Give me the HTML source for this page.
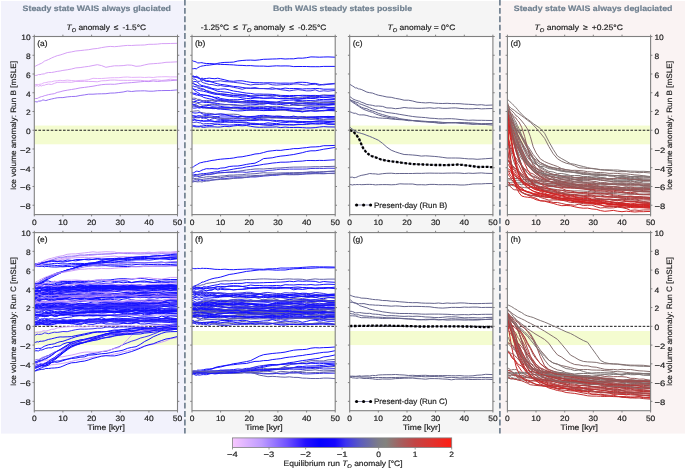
<!DOCTYPE html>
<html><head><meta charset="utf-8"><title>Figure</title>
<style>
html,body{margin:0;padding:0;background:#fff;}
body{width:685px;height:468px;overflow:hidden;font-family:"Liberation Sans",sans-serif;}
svg{display:block;will-change:transform;}
</style></head><body>
<svg width="685" height="468" viewBox="0 0 685 468" font-family="'Liberation Sans', sans-serif" text-rendering="geometricPrecision" fill="#222">
<defs>
<style>text{stroke:#222;stroke-width:0.18px}text.h{stroke:#708090}</style>
<clipPath id="ka"><rect x="34.3" y="36.5" width="143.2" height="178.1"/></clipPath>
<clipPath id="kb"><rect x="192.0" y="36.5" width="143.2" height="178.1"/></clipPath>
<clipPath id="kc"><rect x="349.7" y="36.5" width="143.2" height="178.1"/></clipPath>
<clipPath id="kd"><rect x="507.4" y="36.5" width="143.2" height="178.1"/></clipPath>
<clipPath id="ke"><rect x="34.3" y="232.6" width="143.2" height="178.1"/></clipPath>
<clipPath id="kf"><rect x="192.0" y="232.6" width="143.2" height="178.1"/></clipPath>
<clipPath id="kg"><rect x="349.7" y="232.6" width="143.2" height="178.1"/></clipPath>
<clipPath id="kh"><rect x="507.4" y="232.6" width="143.2" height="178.1"/></clipPath>
<linearGradient id="cb" x1="0" x2="1" y1="0" y2="0">
<stop offset="0.0000" stop-color="#f8c8ff"/>
<stop offset="0.1333" stop-color="#be9bff"/>
<stop offset="0.2500" stop-color="#6e50ff"/>
<stop offset="0.3333" stop-color="#230fff"/>
<stop offset="0.4000" stop-color="#0500ff"/>
<stop offset="0.4667" stop-color="#1405ff"/>
<stop offset="0.5167" stop-color="#3c32f0"/>
<stop offset="0.5833" stop-color="#5c5cbe"/>
<stop offset="0.6667" stop-color="#7d7d87"/>
<stop offset="0.7000" stop-color="#82827e"/>
<stop offset="0.7667" stop-color="#a55f5f"/>
<stop offset="0.8333" stop-color="#c34444"/>
<stop offset="0.9167" stop-color="#e1322d"/>
<stop offset="1.0000" stop-color="#ff1c12"/>
</linearGradient>
</defs>
<rect width="685" height="468" fill="#fff"/>
<rect x="1" y="1" width="184" height="432.6" fill="#f2f2fc"/>
<rect x="185" y="1" width="315" height="432.6" fill="#f5f5f5"/>
<rect x="500" y="1" width="185" height="432.6" fill="#faf3f3"/>
<line x1="184.9" y1="-0.5" x2="184.9" y2="433.6" stroke="#708090" stroke-width="1.7" stroke-dasharray="5.9 2.5"/>
<line x1="499.9" y1="-0.5" x2="499.9" y2="433.6" stroke="#708090" stroke-width="1.7" stroke-dasharray="5.9 2.5"/>
<rect x="34.3" y="36.5" width="143.2" height="178.1" fill="#fff"/>
<rect x="34.3" y="125.55" width="143.2" height="18.75" fill="#f4fcd0"/>
<line x1="34.3" y1="130.24" x2="177.5" y2="130.24" stroke="#1a1a1a" stroke-width="1.0" stroke-dasharray="2.6 1.5"/>
<g clip-path="url(#ka)" fill="none" stroke-width="1" stroke-linejoin="round">
<path d="M34.3 67.0l1.4 -1l1.5 -.8l1.4 -.6l1.4 -.7l1.5 -.6l1.4 -.9l1.4 -1.2l1.5 -.6l2.8 -1.1l2.9 -1.5l2.8 -1.2l2.9 -1.1l2.9 -.7l2.8 -.9l4.3 -1.5l4.3 -.7l4.3 -.9l4.3 -.4l4.3 -.5l4.3 -.4l4.3 -.8l4.3 -.4l4.3 -.9l4.3 -.7l4.3 -.5l4.3 .3l4.3 -.4l4.3 -.5l4.3 -.4l4.3 .1l4.3 -.3l4.3 -.1l4.3 -.1l4.3 -.7l4.3 0l4.3 -.2l4.2 -.5l4.3 0l4.3 -.1l7.2 -.2" stroke="#d6a0f6"/>
<path d="M34.3 75.4l1.4 .1l1.5 -.3l1.4 -.7l1.4 .2l1.5 -.5l1.4 -.2l1.4 -.1l1.5 -.8l2.8 -.6l2.9 0l2.8 -.5l2.9 -.6l2.9 -.4l2.8 -.6l4.3 -.6l4.3 -.8l4.3 -1.1l4.3 -.3l4.3 -.7l4.3 -.5l4.3 -.9l4.3 -.8l4.3 .9l4.3 1.7l4.3 -.8l4.3 -.7l4.3 0l4.3 -.2l4.3 -.6l4.3 .2l4.3 1.1l4.3 -.3l4.3 -1.1l4.3 -.9l4.3 -.3l4.3 -.3l4.2 -.4l4.3 -.7l4.3 -.1l7.2 -.4" stroke="#d6a0f6"/>
<path d="M34.3 84.8l1.4 -.3l1.5 -.1l1.4 .1l1.4 -.3l1.5 -.2l1.4 -.8l1.4 -.5l1.5 -.1l2.8 -.7l2.9 -.1l2.8 -.8l2.9 -.2l2.9 -.5l2.8 .4l4.3 -.6l4.3 .4l4.3 .4l4.3 -.5l4.3 -.1l4.3 -.6l4.3 -1.4l4.3 .2l4.3 0l4.3 -.3l4.3 -.4l4.3 -.1l4.3 0l4.3 -.5l4.3 -.2l4.3 .4l4.3 -.1l4.3 -.1l4.3 .3l4.3 -.3l4.3 .3l4.3 -.6l4.2 -.1l4.3 -.1l4.3 .2l7.2 0" stroke="#e4b2fa"/>
<path d="M34.3 85.7l1.4 .3l1.5 -.4l1.4 .7l1.4 -.8l1.5 .5l1.4 -.8l1.4 .1l1.5 -.7l2.8 -.5l2.9 .4l2.8 -1.1l2.9 -1l2.9 -.1l2.8 0l4.3 -.2l4.3 .2l4.3 -.9l4.3 .1l4.3 -.2l4.3 .2l4.3 0l4.3 .3l4.3 -1l4.3 -.1l4.3 -.6l4.3 -.1l4.3 .3l4.3 0l4.3 .1l4.3 -.1l4.3 0l4.3 0l4.3 .5l4.3 .1l4.3 -1.1l4.3 .2l4.2 .4l4.3 -.4l4.3 -.8l7.2 .7" stroke="#deaaf8"/>
<path d="M34.3 98.8l1.4 -.3l1.5 0l1.4 -.8l1.4 -.6l1.5 -.5l1.4 -.2l1.4 -.7l1.5 -.3l2.8 -.8l2.9 -.5l2.8 -.4l2.9 -1.3l2.9 -.6l2.8 -.8l4.3 -.8l4.3 -.7l4.3 -.7l4.3 -.9l4.3 -.5l4.3 -.6l4.3 -.6l4.3 -.8l4.3 -.7l4.3 -.4l4.3 -.1l4.3 .1l4.3 -.6l4.3 -.6l4.3 -.2l4.3 -.3l4.3 -.4l4.3 -.4l4.3 -.4l4.3 .2l4.3 -.6l4.3 .5l4.2 -.4l4.3 -.1l4.3 -.3l7.2 -.6" stroke="#c48ef6"/>
<path d="M34.3 101.6l1.4 .1l1.5 .3l1.4 -.9l1.4 0l1.5 -.4l1.4 -.8l1.4 .3l1.5 .4l2.8 -.9l2.9 -.7l2.8 -.6l2.9 -.6l2.9 -.2l2.8 0l4.3 -.7l4.3 -.4l4.3 -.1l4.3 -.9l4.3 -.6l4.3 -.7l4.3 0l4.3 -.3l4.3 -.1l4.3 -.1l4.3 -.6l4.3 -.1l4.3 -.5l4.3 -.5l4.3 -1l4.3 .5l4.3 -.5l4.3 -.1l4.3 -.1l4.3 .4l4.3 0l4.3 -.5l4.2 -.1l4.3 -.1l4.3 0l7.2 -.6" stroke="#9670f2"/>
</g>
<rect x="34.3" y="36.5" width="143.2" height="178.1" fill="none" stroke="#808080" stroke-width="1.1"/>
<path d="M34.3 36.5v-1.8M34.3 214.6v1.8M62.9 36.5v-1.8M62.9 214.6v1.8M91.6 36.5v-1.8M91.6 214.6v1.8M120.2 36.5v-1.8M120.2 214.6v1.8M148.9 36.5v-1.8M148.9 214.6v1.8M177.5 36.5v-1.8M177.5 214.6v1.8M34.3 205.23h-1.8M177.5 205.23h1.8M34.3 186.48h-1.8M177.5 186.48h1.8M34.3 167.73h-1.8M177.5 167.73h1.8M34.3 148.98h-1.8M177.5 148.98h1.8M34.3 130.24h-1.8M177.5 130.24h1.8M34.3 111.49h-1.8M177.5 111.49h1.8M34.3 92.74h-1.8M177.5 92.74h1.8M34.3 73.99h-1.8M177.5 73.99h1.8M34.3 55.25h-1.8M177.5 55.25h1.8M34.3 36.50h-1.8M177.5 36.50h1.8" stroke="#808080" stroke-width="1.0"/>
<text x="34.3" y="224.8" font-size="7.80" text-anchor="middle" textLength="4.7" lengthAdjust="spacingAndGlyphs">0</text>
<text x="62.9" y="224.8" font-size="7.80" text-anchor="middle" textLength="9.4" lengthAdjust="spacingAndGlyphs">10</text>
<text x="91.6" y="224.8" font-size="7.80" text-anchor="middle" textLength="9.4" lengthAdjust="spacingAndGlyphs">20</text>
<text x="120.2" y="224.8" font-size="7.80" text-anchor="middle" textLength="9.4" lengthAdjust="spacingAndGlyphs">30</text>
<text x="148.9" y="224.8" font-size="7.80" text-anchor="middle" textLength="9.4" lengthAdjust="spacingAndGlyphs">40</text>
<text x="177.5" y="224.8" font-size="7.80" text-anchor="middle" textLength="9.4" lengthAdjust="spacingAndGlyphs">50</text>
<text x="30.7" y="209.0" font-size="7.80" text-anchor="end" textLength="10.8" lengthAdjust="spacingAndGlyphs">−8</text>
<text x="30.7" y="190.3" font-size="7.80" text-anchor="end" textLength="10.8" lengthAdjust="spacingAndGlyphs">−6</text>
<text x="30.7" y="171.5" font-size="7.80" text-anchor="end" textLength="10.8" lengthAdjust="spacingAndGlyphs">−4</text>
<text x="30.7" y="152.8" font-size="7.80" text-anchor="end" textLength="10.8" lengthAdjust="spacingAndGlyphs">−2</text>
<text x="30.7" y="134.0" font-size="7.80" text-anchor="end" textLength="4.7" lengthAdjust="spacingAndGlyphs">0</text>
<text x="30.7" y="115.3" font-size="7.80" text-anchor="end" textLength="4.7" lengthAdjust="spacingAndGlyphs">2</text>
<text x="30.7" y="96.5" font-size="7.80" text-anchor="end" textLength="4.7" lengthAdjust="spacingAndGlyphs">4</text>
<text x="30.7" y="77.8" font-size="7.80" text-anchor="end" textLength="4.7" lengthAdjust="spacingAndGlyphs">6</text>
<text x="30.7" y="59.0" font-size="7.80" text-anchor="end" textLength="4.7" lengthAdjust="spacingAndGlyphs">8</text>
<text x="30.7" y="40.3" font-size="7.80" text-anchor="end" textLength="9.4" lengthAdjust="spacingAndGlyphs">10</text>
<text x="37.3" y="45.5" font-size="7.80" textLength="10.2" lengthAdjust="spacingAndGlyphs">(a)</text>
<rect x="192.0" y="36.5" width="143.2" height="178.1" fill="#fff"/>
<rect x="192.0" y="125.55" width="143.2" height="18.75" fill="#f4fcd0"/>
<line x1="192.0" y1="130.24" x2="335.2" y2="130.24" stroke="#1a1a1a" stroke-width="1.0" stroke-dasharray="2.6 1.5"/>
<g clip-path="url(#kb)" fill="none" stroke-width="1" stroke-linejoin="round">
<path d="M192.0 60.4l1.4 .8l1.5 .3l1.4 .6l1.4 .8l1.5 0l1.4 -.2l1.4 0l1.5 .4l2.8 .4l2.9 0l2.8 .2l2.9 .2l2.9 .3l2.8 .2l4.3 .1l4.3 .2l4.3 .2l4.3 .4l4.3 .1l4.3 .3l4.3 -.1l4.3 .4l4.3 .1l4.3 0l4.3 .3l4.3 -.3l4.3 -.3l4.3 .2l4.3 -.1l4.3 .1l4.3 .6l4.3 -.1l4.3 0l4.3 0l4.3 .2l4.3 0l4.2 0l4.3 -.3l4.3 0l7.2 0" stroke="#1612ff"/>
<path d="M192.0 68.8l1.4 -.1l1.5 -.2l1.4 .4l1.4 -1.1l1.5 -.8l1.4 -.6l1.4 -.4l1.5 -.2l2.8 -.5l2.9 -.2l2.8 -.4l2.9 -.4l2.9 -1l2.8 -.5l4.3 -.4l4.3 -.1l4.3 -.2l4.3 -1.1l4.3 -.5l4.3 -.3l4.3 -.1l4.3 .2l4.3 -.4l4.3 -.6l4.3 -.1l4.3 -.2l4.3 -.1l4.3 -.3l4.3 .4l4.3 -.2l4.3 0l4.3 -.7l4.3 .1l4.3 -.5l4.3 -.8l4.3 .1l4.2 .2l4.3 -.2l4.3 -.1l7.2 .3" stroke="#1612ff"/>
<path d="M192.0 75.9l1.4 .4l1.5 .4l1.4 .7l1.4 0l1.5 .8l1.4 .6l1.4 -.7l1.5 .6l2.8 -.2l2.9 -.4l2.8 .4l2.9 .2l2.9 -.5l2.8 .7l4.3 1l4.3 1.1l4.3 .3l4.3 -.5l4.3 0l4.3 .8l4.3 .7l4.3 .4l4.3 0l4.3 .2l4.3 -.1l4.3 0l4.3 .3l4.3 .1l4.3 -.1l4.3 .1l4.3 -.1l4.3 -.8l4.3 0l4.3 .2l4.3 1l4.3 -.1l4.2 1l4.3 .5l4.3 -.6l7.2 -.5" stroke="#1612ff"/>
<path d="M192.0 76.3l1.4 .9l1.5 -.1l1.4 -.9l1.4 .5l1.5 1.1l1.4 1.1l1.4 .3l1.5 .3l2.8 1.1l2.9 .3l2.8 .9l2.9 -.5l2.9 -.3l2.8 -.2l4.3 .8l4.3 .2l4.3 .5l4.3 .5l4.3 .5l4.3 .9l4.3 .8l4.3 -.7l4.3 .1l4.3 -.2l4.3 -.5l4.3 1.1l4.3 .3l4.3 -.3l4.3 -.3l4.3 .2l4.3 -.7l4.3 -.1l4.3 .8l4.3 .4l4.3 -.6l4.3 -.3l4.2 1.1l4.3 -1l4.3 -.3l7.2 -.7" stroke="#3732e6"/>
<path d="M192.0 76.8l1.4 -.7l1.5 .8l1.4 -.1l1.4 1.1l1.5 .5l1.4 1.3l1.4 .6l1.5 -.2l2.8 1.4l2.9 0l2.8 .5l2.9 1.1l2.9 .7l2.8 .6l4.3 .5l4.3 .7l4.3 .8l4.3 .3l4.3 .7l4.3 .7l4.3 0l4.3 -.4l4.3 .8l4.3 0l4.3 .3l4.3 .4l4.3 -.5l4.3 .2l4.3 -.8l4.3 .5l4.3 -.1l4.3 .1l4.3 .4l4.3 -.3l4.3 .1l4.3 -.3l4.2 .1l4.3 .6l4.3 0l7.2 -.1" stroke="#1612ff"/>
<path d="M192.0 77.7l1.4 1.5l1.5 -.1l1.4 1l1.4 1.2l1.5 .1l1.4 -.5l1.4 1.2l1.5 .7l2.8 .8l2.9 .9l2.8 0l2.9 .7l2.9 .6l2.8 -.3l4.3 .9l4.3 0l4.3 .9l4.3 .9l4.3 1.1l4.3 -1.2l4.3 .4l4.3 -.1l4.3 .2l4.3 0l4.3 .1l4.3 -1l4.3 1l4.3 1l4.3 .5l4.3 .7l4.3 -.7l4.3 -.6l4.3 .6l4.3 .7l4.3 -.1l4.3 -1l4.2 1.6l4.3 -.6l4.3 .4l7.2 -.8" stroke="#3732e6"/>
<path d="M192.0 80.6l1.4 1.1l1.5 -.2l1.4 .2l1.4 .9l1.5 1l1.4 1.5l1.4 .4l1.5 .3l2.8 .7l2.9 .7l2.8 1.2l2.9 .5l2.9 .5l2.8 -.3l4.3 -.2l4.3 1l4.3 1.1l4.3 .6l4.3 .8l4.3 .7l4.3 .3l4.3 .8l4.3 -.2l4.3 .2l4.3 0l4.3 .2l4.3 .5l4.3 .5l4.3 .1l4.3 .2l4.3 -.2l4.3 0l4.3 .6l4.3 -.2l4.3 .6l4.3 .1l4.2 -.1l4.3 .9l4.3 -.5l7.2 -.3" stroke="#1612ff"/>
<path d="M192.0 81.5l1.4 1.7l1.5 1.1l1.4 1.2l1.4 .8l1.5 1.3l1.4 .5l1.4 .5l1.5 .6l2.8 1.3l2.9 .6l2.8 1.6l2.9 .3l2.9 .3l2.8 .3l4.3 .4l4.3 .8l4.3 .4l4.3 -.1l4.3 0l4.3 .1l4.3 .9l4.3 -.3l4.3 -.5l4.3 -.3l4.3 .1l4.3 .9l4.3 -.4l4.3 .1l4.3 1.4l4.3 -.4l4.3 .6l4.3 .4l4.3 0l4.3 -1l4.3 0l4.3 -.2l4.2 -1l4.3 -.7l4.3 .3l7.2 .3" stroke="#6262a8"/>
<path d="M192.0 83.4l1.4 .4l1.5 .6l1.4 .2l1.4 .9l1.5 .5l1.4 .2l1.4 .3l1.5 .1l2.8 .8l2.9 1l2.8 .6l2.9 1.1l2.9 1.2l2.8 .2l4.3 .6l4.3 .4l4.3 1.2l4.3 .4l4.3 .5l4.3 .5l4.3 .9l4.3 .1l4.3 -.4l4.3 -.1l4.3 .3l4.3 .1l4.3 -.3l4.3 1.1l4.3 -.1l4.3 -.3l4.3 -.2l4.3 -.6l4.3 -.3l4.3 .1l4.3 .1l4.3 -.1l4.2 .4l4.3 .1l4.3 -.2l7.2 -.6" stroke="#1612ff"/>
<path d="M192.0 86.2l1.4 -.1l1.5 .7l1.4 -.1l1.4 1.2l1.5 .6l1.4 .6l1.4 .1l1.5 0l2.8 1.6l2.9 1.1l2.8 .4l2.9 .9l2.9 1.1l2.8 -.2l4.3 .4l4.3 .4l4.3 .7l4.3 0l4.3 .6l4.3 -.1l4.3 .9l4.3 .6l4.3 .1l4.3 .5l4.3 -.2l4.3 0l4.3 .6l4.3 0l4.3 .3l4.3 -.4l4.3 .4l4.3 .2l4.3 -.5l4.3 -.9l4.3 -.6l4.3 .3l4.2 .3l4.3 -.4l4.3 .4l7.2 .8" stroke="#1612ff"/>
<path d="M192.0 87.6l1.4 1.1l1.5 .8l1.4 .1l1.4 .6l1.5 .3l1.4 .3l1.4 .1l1.5 .4l2.8 .6l2.9 .9l2.8 .7l2.9 .8l2.9 0l2.8 .5l4.3 .9l4.3 .6l4.3 .5l4.3 .1l4.3 1l4.3 .5l4.3 .3l4.3 -.7l4.3 -.1l4.3 .4l4.3 0l4.3 -.4l4.3 .4l4.3 .4l4.3 -.2l4.3 .1l4.3 .1l4.3 .4l4.3 -.5l4.3 -.3l4.3 .2l4.3 .1l4.2 1l4.3 -.2l4.3 .2l7.2 0" stroke="#1612ff"/>
<path d="M192.0 88.5l1.4 .9l1.5 1.2l1.4 1l1.4 1l1.5 .7l1.4 1.4l1.4 0l1.5 .4l2.8 .5l2.9 .2l2.8 .8l2.9 1.4l2.9 .8l2.8 .8l4.3 .6l4.3 .2l4.3 .9l4.3 -.1l4.3 .5l4.3 -.2l4.3 0l4.3 .1l4.3 -.1l4.3 .2l4.3 .1l4.3 .5l4.3 -.2l4.3 -.9l4.3 -.7l4.3 -.3l4.3 -.1l4.3 .5l4.3 -.4l4.3 .2l4.3 .2l4.3 .2l4.2 0l4.3 .3l4.3 0l7.2 .4" stroke="#1612ff"/>
<path d="M192.0 92.7l1.4 .5l1.5 .2l1.4 .1l1.4 .9l1.5 .4l1.4 -.1l1.4 .2l1.5 .3l2.8 0l2.9 1l2.8 .5l2.9 .7l2.9 -.2l2.8 1.3l4.3 .7l4.3 .6l4.3 -.1l4.3 0l4.3 -.3l4.3 1.1l4.3 -.1l4.3 .3l4.3 .5l4.3 -.2l4.3 .6l4.3 .9l4.3 0l4.3 .5l4.3 .1l4.3 -.4l4.3 -.3l4.3 -.8l4.3 .2l4.3 .7l4.3 .2l4.3 .3l4.2 .3l4.3 -.4l4.3 .1l7.2 .7" stroke="#1612ff"/>
<path d="M192.0 93.7l1.4 .5l1.5 .3l1.4 .6l1.4 0l1.5 .4l1.4 .4l1.4 .4l1.5 1.1l2.8 .7l2.9 .7l2.8 .4l2.9 1l2.9 -.3l2.8 .3l4.3 1l4.3 1l4.3 .2l4.3 .1l4.3 .4l4.3 0l4.3 .2l4.3 -.2l4.3 .3l4.3 0l4.3 -.5l4.3 -.9l4.3 .6l4.3 .3l4.3 .4l4.3 -.3l4.3 .5l4.3 .1l4.3 0l4.3 .3l4.3 .2l4.3 0l4.2 .7l4.3 .3l4.3 -.2l7.2 -.4" stroke="#1612ff"/>
<path d="M192.0 98.4l1.4 -.2l1.5 0l1.4 .4l1.4 .8l1.5 -.1l1.4 .5l1.4 .8l1.5 .4l2.8 -.6l2.9 .2l2.8 -.3l2.9 .6l2.9 -.2l2.8 .7l4.3 .4l4.3 -1.1l4.3 .1l4.3 .7l4.3 .4l4.3 .1l4.3 -.4l4.3 .6l4.3 1.2l4.3 .1l4.3 0l4.3 -.1l4.3 -.7l4.3 0l4.3 -.3l4.3 .8l4.3 -.4l4.3 -.9l4.3 -.1l4.3 .2l4.3 .2l4.3 -.7l4.2 .9l4.3 .3l4.3 -.1l7.2 -.2" stroke="#6262a8"/>
<path d="M192.0 99.3l1.4 .2l1.5 .2l1.4 .8l1.4 .1l1.5 -.3l1.4 .6l1.4 .2l1.5 -.3l2.8 .8l2.9 .1l2.8 .7l2.9 -.5l2.9 -.9l2.8 -.6l4.3 .7l4.3 .1l4.3 .4l4.3 .4l4.3 -.4l4.3 1l4.3 -.2l4.3 .3l4.3 -.5l4.3 .3l4.3 .6l4.3 0l4.3 -.2l4.3 .2l4.3 -.1l4.3 .4l4.3 1.2l4.3 -.6l4.3 -.3l4.3 -.1l4.3 .1l4.3 -.5l4.2 .4l4.3 .4l4.3 .1l7.2 -.6" stroke="#3732e6"/>
<path d="M192.0 101.2l1.4 .7l1.5 -.5l1.4 .3l1.4 .8l1.5 .2l1.4 -.4l1.4 -.4l1.5 .4l2.8 .2l2.9 0l2.8 .6l2.9 .1l2.9 .3l2.8 .5l4.3 .5l4.3 .1l4.3 .1l4.3 .4l4.3 .3l4.3 -.5l4.3 0l4.3 -.3l4.3 -.4l4.3 0l4.3 -.8l4.3 .9l4.3 -.1l4.3 .4l4.3 -.6l4.3 -.5l4.3 1.4l4.3 .6l4.3 -.2l4.3 -.3l4.3 -.2l4.3 .2l4.2 0l4.3 -.2l4.3 .3l7.2 -.4" stroke="#1612ff"/>
<path d="M192.0 102.6l1.4 -.3l1.5 .4l1.4 .7l1.4 -.1l1.5 .6l1.4 .5l1.4 .8l1.5 -.1l2.8 -.3l2.9 -.4l2.8 .3l2.9 -.3l2.9 .2l2.8 .3l4.3 0l4.3 -.3l4.3 .6l4.3 .3l4.3 .3l4.3 .1l4.3 .6l4.3 -.5l4.3 .3l4.3 -.1l4.3 .5l4.3 -.2l4.3 -.2l4.3 .3l4.3 -1l4.3 .1l4.3 -.7l4.3 -.1l4.3 .7l4.3 .4l4.3 -.1l4.3 .2l4.2 .1l4.3 .3l4.3 .9l7.2 0" stroke="#6262a8"/>
<path d="M192.0 103.5l1.4 .8l1.5 .4l1.4 .2l1.4 .9l1.5 .8l1.4 .5l1.4 .7l1.5 .2l2.8 -.7l2.9 .5l2.8 -.2l2.9 .6l2.9 -.2l2.8 0l4.3 0l4.3 -.2l4.3 -.7l4.3 .1l4.3 0l4.3 .5l4.3 -.2l4.3 .2l4.3 -.4l4.3 .1l4.3 -.6l4.3 1l4.3 .1l4.3 -.4l4.3 .2l4.3 .3l4.3 .1l4.3 .4l4.3 -.2l4.3 -1l4.3 -.4l4.3 .6l4.2 .4l4.3 .1l4.3 -.4l7.2 .3" stroke="#1612ff"/>
<path d="M192.0 104.5l1.4 .3l1.5 .5l1.4 .7l1.4 .2l1.5 .8l1.4 -.5l1.4 .1l1.5 -.3l2.8 -.7l2.9 -.2l2.8 .8l2.9 -.2l2.9 -.2l2.8 .6l4.3 .6l4.3 .2l4.3 .8l4.3 -.6l4.3 1.1l4.3 .4l4.3 0l4.3 -.1l4.3 -.1l4.3 -.2l4.3 .1l4.3 -.5l4.3 .9l4.3 -.1l4.3 .2l4.3 -.2l4.3 -.1l4.3 .3l4.3 .1l4.3 -.4l4.3 -.2l4.3 .3l4.2 -.9l4.3 -.8l4.3 .9l7.2 0" stroke="#1612ff"/>
<path d="M192.0 105.9l1.4 0l1.5 .3l1.4 .4l1.4 .2l1.5 .3l1.4 -.4l1.4 .3l1.5 .3l2.8 .8l2.9 0l2.8 .5l2.9 0l2.9 -.6l2.8 -.1l4.3 -.1l4.3 .1l4.3 .2l4.3 .2l4.3 .4l4.3 -.3l4.3 .7l4.3 -.7l4.3 .2l4.3 .5l4.3 .3l4.3 .4l4.3 -.2l4.3 .4l4.3 -.7l4.3 .4l4.3 1.2l4.3 .1l4.3 .8l4.3 -.5l4.3 -.9l4.3 -.5l4.2 .6l4.3 .3l4.3 -1.2l7.2 -.2" stroke="#1612ff"/>
<path d="M192.0 106.8l1.4 -.8l1.5 -.2l1.4 .3l1.4 .2l1.5 .1l1.4 .5l1.4 .7l1.5 0l2.8 .6l2.9 .1l2.8 .1l2.9 -.8l2.9 .6l2.8 .3l4.3 .2l4.3 0l4.3 -.2l4.3 .4l4.3 .5l4.3 .7l4.3 .3l4.3 -.3l4.3 -.1l4.3 .4l4.3 0l4.3 -.1l4.3 -.3l4.3 .2l4.3 .1l4.3 .6l4.3 .3l4.3 -.9l4.3 .8l4.3 -.1l4.3 -.3l4.3 0l4.2 .2l4.3 -.1l4.3 -.2l7.2 -.1" stroke="#6262a8"/>
<path d="M192.0 107.7l1.4 .4l1.5 0l1.4 -.2l1.4 -.3l1.5 .5l1.4 -.3l1.4 -.3l1.5 -.2l2.8 -.2l2.9 .6l2.8 .4l2.9 0l2.9 .9l2.8 .1l4.3 .4l4.3 .3l4.3 .8l4.3 .3l4.3 -.1l4.3 -.5l4.3 -.4l4.3 .1l4.3 .2l4.3 .4l4.3 -.2l4.3 .1l4.3 -.3l4.3 -.7l4.3 .2l4.3 .8l4.3 .4l4.3 .5l4.3 .4l4.3 -.9l4.3 -.1l4.3 .6l4.2 -.5l4.3 -.6l4.3 .2l7.2 .3" stroke="#1612ff"/>
<path d="M192.0 111.5l1.4 -.3l1.5 -.2l1.4 -.1l1.4 -.2l1.5 .3l1.4 1.3l1.4 .3l1.5 .2l2.8 .6l2.9 -.1l2.8 .6l2.9 .7l2.9 -.5l2.8 0l4.3 .3l4.3 -.1l4.3 -.1l4.3 .3l4.3 1.5l4.3 .4l4.3 .2l4.3 .5l4.3 -.2l4.3 -.7l4.3 .3l4.3 .6l4.3 -1.1l4.3 .3l4.3 .7l4.3 -.2l4.3 -.2l4.3 .3l4.3 -.4l4.3 .2l4.3 .4l4.3 -.1l4.2 -.5l4.3 .3l4.3 -.2l7.2 .1" stroke="#6262a8"/>
<path d="M192.0 112.4l1.4 .4l1.5 .3l1.4 -.1l1.4 -.2l1.5 -.3l1.4 .3l1.4 .8l1.5 .6l2.8 .1l2.9 .1l2.8 -.3l2.9 .2l2.9 -.1l2.8 -.3l4.3 .5l4.3 1.3l4.3 .9l4.3 .9l4.3 -.9l4.3 .5l4.3 -.6l4.3 -.2l4.3 -.8l4.3 -.2l4.3 .4l4.3 .4l4.3 .2l4.3 0l4.3 .5l4.3 .1l4.3 -.8l4.3 1.1l4.3 -.2l4.3 .5l4.3 -.2l4.3 -.5l4.2 .1l4.3 -.3l4.3 .9l7.2 -.7" stroke="#1612ff"/>
<path d="M192.0 115.2l1.4 .9l1.5 .2l1.4 -.1l1.4 -.5l1.5 0l1.4 0l1.4 .6l1.5 -.4l2.8 -.4l2.9 .3l2.8 .3l2.9 .6l2.9 -.1l2.8 -.7l4.3 .1l4.3 -.1l4.3 .2l4.3 .5l4.3 -.2l4.3 .6l4.3 .1l4.3 0l4.3 -.1l4.3 0l4.3 0l4.3 .3l4.3 .4l4.3 0l4.3 .1l4.3 .4l4.3 .2l4.3 0l4.3 .3l4.3 .2l4.3 .2l4.3 -.4l4.2 -.3l4.3 -.7l4.3 .4l7.2 .1" stroke="#1612ff"/>
<path d="M192.0 116.2l1.4 -.5l1.5 .3l1.4 .6l1.4 .6l1.5 -.2l1.4 -.1l1.4 .6l1.5 .3l2.8 -.3l2.9 -.1l2.8 .2l2.9 -.2l2.9 -.1l2.8 .7l4.3 .1l4.3 -.1l4.3 .2l4.3 .7l4.3 -.1l4.3 -.4l4.3 -.6l4.3 .8l4.3 -1l4.3 .5l4.3 -.4l4.3 -.4l4.3 -.2l4.3 .2l4.3 .5l4.3 -.2l4.3 .4l4.3 .9l4.3 -1.2l4.3 -.2l4.3 -.5l4.3 .5l4.2 -.4l4.3 -.4l4.3 -.3l7.2 .4" stroke="#1612ff"/>
<path d="M192.0 116.6l1.4 .9l1.5 -.1l1.4 .4l1.4 0l1.5 0l1.4 -.9l1.4 -.4l1.5 .3l2.8 -.3l2.9 .7l2.8 .3l2.9 -.2l2.9 .7l2.8 .2l4.3 .6l4.3 -.1l4.3 -.8l4.3 .5l4.3 -.1l4.3 .4l4.3 .5l4.3 .4l4.3 -.9l4.3 -1l4.3 -.1l4.3 .5l4.3 -.2l4.3 .3l4.3 -.3l4.3 0l4.3 0l4.3 -.1l4.3 .4l4.3 .2l4.3 .8l4.3 0l4.2 .5l4.3 -.2l4.3 .2l7.2 -.2" stroke="#6262a8"/>
<path d="M192.0 117.6l1.4 .6l1.5 -.3l1.4 -.7l1.4 -.1l1.5 .6l1.4 -.5l1.4 1.2l1.5 -.6l2.8 .7l2.9 1.7l2.8 -1.3l2.9 -.6l2.9 .9l2.8 .2l4.3 .3l4.3 .2l4.3 .9l4.3 .3l4.3 -.3l4.3 -.1l4.3 -.6l4.3 .1l4.3 -1l4.3 .6l4.3 .1l4.3 1.1l4.3 .6l4.3 -.8l4.3 .5l4.3 -.4l4.3 0l4.3 .5l4.3 .1l4.3 .1l4.3 .1l4.3 -.5l4.2 -.4l4.3 .3l4.3 .4l7.2 -.3" stroke="#3732e6"/>
<path d="M192.0 119.9l1.4 -.2l1.5 .2l1.4 .1l1.4 .4l1.5 .3l1.4 .3l1.4 .1l1.5 0l2.8 -.3l2.9 .2l2.8 .1l2.9 .4l2.9 -.6l2.8 -.1l4.3 -.5l4.3 0l4.3 -.3l4.3 .4l4.3 0l4.3 -.6l4.3 .7l4.3 -.1l4.3 -.3l4.3 .1l4.3 .1l4.3 -.2l4.3 .6l4.3 0l4.3 .5l4.3 .4l4.3 .2l4.3 0l4.3 0l4.3 -.2l4.3 .5l4.3 -.7l4.2 -.3l4.3 -.1l4.3 .3l7.2 .1" stroke="#1612ff"/>
<path d="M192.0 120.9l1.4 -.3l1.5 -1.2l1.4 1.3l1.4 -.3l1.5 0l1.4 .3l1.4 -.4l1.5 .8l2.8 .1l2.9 -.5l2.8 .4l2.9 .4l2.9 .1l2.8 .3l4.3 -.6l4.3 .7l4.3 -.3l4.3 .8l4.3 -.3l4.3 .1l4.3 1.3l4.3 -.2l4.3 .4l4.3 -.1l4.3 -.9l4.3 .5l4.3 .4l4.3 -.9l4.3 -.1l4.3 -.7l4.3 0l4.3 .6l4.3 0l4.3 -.5l4.3 -.4l4.3 .2l4.2 .2l4.3 .2l4.3 .3l7.2 -.9" stroke="#1612ff"/>
<path d="M192.0 122.3l1.4 .3l1.5 -.3l1.4 -.2l1.4 .3l1.5 .4l1.4 0l1.4 .8l1.5 .4l2.8 -.4l2.9 .1l2.8 -.2l2.9 -.5l2.9 -.2l2.8 .1l4.3 -.7l4.3 0l4.3 .4l4.3 -.1l4.3 .1l4.3 .6l4.3 0l4.3 .2l4.3 .9l4.3 -.1l4.3 0l4.3 .1l4.3 .6l4.3 -.1l4.3 -.2l4.3 -.2l4.3 .3l4.3 -.5l4.3 .4l4.3 -.1l4.3 -.7l4.3 .3l4.2 .1l4.3 -.5l4.3 .1l7.2 .1" stroke="#3732e6"/>
<path d="M192.0 125.1l1.4 .3l1.5 .4l1.4 .3l1.4 .1l1.5 .1l1.4 -.4l1.4 .2l1.5 -.3l2.8 -.4l2.9 .1l2.8 -.2l2.9 -.9l2.9 -.1l2.8 .4l4.3 0l4.3 .4l4.3 -.2l4.3 -.5l4.3 .4l4.3 .1l4.3 -.6l4.3 .3l4.3 -.1l4.3 .5l4.3 .3l4.3 .1l4.3 -1.1l4.3 .2l4.3 .3l4.3 .2l4.3 0l4.3 -.4l4.3 -.1l4.3 -.8l4.3 0l4.3 -.4l4.2 .1l4.3 0l4.3 .9l7.2 .1" stroke="#1612ff"/>
<path d="M192.0 127.0l1.4 -.5l1.5 .2l1.4 .2l1.4 0l1.5 0l1.4 -.3l1.4 .5l1.5 .3l2.8 -.4l2.9 -.2l2.8 0l2.9 .1l2.9 .2l2.8 -.1l4.3 -.7l4.3 .4l4.3 -.8l4.3 -.4l4.3 .3l4.3 -.3l4.3 .8l4.3 .7l4.3 .3l4.3 -.1l4.3 -.1l4.3 0l4.3 -.2l4.3 .7l4.3 -.5l4.3 .4l4.3 0l4.3 -.1l4.3 .2l4.3 .3l4.3 0l4.3 -.3l4.2 -.6l4.3 -.4l4.3 .3l7.2 .1" stroke="#1612ff"/>
<path d="M192.0 167.3l1.4 -.4l1.5 -1.2l1.4 -.8l1.4 -.7l1.5 -1l1.4 -.5l1.4 -.2l1.5 -.5l2.8 -.4l2.9 -.6l2.8 -.6l2.9 -.3l2.9 -.6l2.8 -.3l4.3 -.4l4.3 -.3l4.3 -.5l4.3 -.9l4.3 -.3l4.3 -.9l4.3 -.8l4.3 -1.1l4.3 -.4l4.3 -1.1l4.3 -1.2l4.3 -.5l4.3 -.5l4.3 .1l4.3 -.7l4.3 -.4l4.3 -.7l4.3 0l4.3 -.6l4.3 -.4l4.3 -.6l4.3 -.1l4.2 -.3l4.3 -.9l4.3 0l7.2 -.3" stroke="#1612ff"/>
<path d="M192.0 172.9l1.4 0l1.5 -.8l1.4 -.9l1.4 .1l1.5 .3l1.4 -.8l1.4 -.7l1.5 -.5l2.8 -.9l2.9 .1l2.8 -.2l2.9 .2l2.9 .1l2.8 -.8l4.3 -.3l4.3 -1.3l4.3 -.4l4.3 -.1l4.3 -.7l4.3 -.9l4.3 -.7l4.3 -.5l4.3 -2.1l4.3 -2.5l4.3 -.4l4.3 -.4l4.3 -1l4.3 -.7l4.3 -.4l4.3 -.6l4.3 -.6l4.3 -.9l4.3 -.9l4.3 -1.2l4.3 -.7l4.3 0l4.2 -.7l4.3 -.9l4.3 -.6l7.2 -1.2" stroke="#1612ff"/>
<path d="M192.0 174.9l1.4 0l1.5 -.4l1.4 0l1.4 .1l1.5 -.5l1.4 -.2l1.4 -.2l1.5 0l2.8 -.3l2.9 -.4l2.8 -.5l2.9 -.6l2.9 -.1l2.8 -.8l4.3 -.5l4.3 -.6l4.3 -.8l4.3 -.7l4.3 -.5l4.3 -1l4.3 -.5l4.3 -.7l4.3 -.6l4.3 -.8l4.3 -.5l4.3 -.7l4.3 -.4l4.3 -.5l4.3 0l4.3 -.2l4.3 -.5l4.3 -.2l4.3 -.2l4.3 -.6l4.3 0l4.3 .1l4.2 -.2l4.3 .1l4.3 -.3l7.2 -.4" stroke="#1e19f5"/>
<path d="M192.0 175.7l1.4 0l1.5 -.3l1.4 -.1l1.4 0l1.5 -.4l1.4 .3l1.4 -.2l1.5 -.2l2.8 -.4l2.9 -.4l2.8 -.2l2.9 -.5l2.9 -.3l2.8 -.3l4.3 -.2l4.3 -.3l4.3 -.6l4.3 -.3l4.3 -.6l4.3 -.7l4.3 -.5l4.3 -.5l4.3 -.1l4.3 .1l4.3 -.4l4.3 -.2l4.3 -.4l4.3 -.1l4.3 -.3l4.3 -.3l4.3 -.2l4.3 0l4.3 -.1l4.3 0l4.3 -.1l4.3 -.2l4.2 .1l4.3 -.3l4.3 0l7.2 -.2" stroke="#5f5faa"/>
<path d="M192.0 177.1l1.4 -.1l1.5 -.9l1.4 .1l1.4 .3l1.5 0l1.4 -.2l1.4 -.9l1.5 -.2l2.8 -.6l2.9 .1l2.8 -.5l2.9 -.5l2.9 -.9l2.8 0l4.3 -.3l4.3 -.3l4.3 .2l4.3 -.3l4.3 -.1l4.3 .4l4.3 -.6l4.3 -.5l4.3 -.2l4.3 .1l4.3 -.8l4.3 -.2l4.3 -.5l4.3 -.5l4.3 .2l4.3 -.3l4.3 0l4.3 0l4.3 0l4.3 -.1l4.3 -.5l4.3 -.1l4.2 0l4.3 0l4.3 -.2l7.2 .1" stroke="#3c37e1"/>
<path d="M192.0 178.5l1.4 -.1l1.5 .1l1.4 -.1l1.4 0l1.5 -.6l1.4 -.3l1.4 -.1l1.5 0l2.8 -.6l2.9 -.1l2.8 0l2.9 -.2l2.9 -.1l2.8 -.4l4.3 -.2l4.3 -.7l4.3 0l4.3 -.3l4.3 0l4.3 -.7l4.3 -.2l4.3 -.2l4.3 -.5l4.3 -.5l4.3 .3l4.3 -.1l4.3 .2l4.3 -.2l4.3 -.1l4.3 -.1l4.3 0l4.3 -.2l4.3 0l4.3 -.3l4.3 -.5l4.3 .3l4.2 -.2l4.3 -.1l4.3 -.3l7.2 -.1" stroke="#6262a8"/>
<path d="M192.0 179.9l1.4 .2l1.5 -.4l1.4 -.1l1.4 -.1l1.5 -.2l1.4 -.1l1.4 .3l1.5 -.3l2.8 -.4l2.9 -.2l2.8 -.5l2.9 -.5l2.9 .1l2.8 0l4.3 -.8l4.3 -.6l4.3 0l4.3 0l4.3 -.2l4.3 -.2l4.3 0l4.3 -.4l4.3 -.1l4.3 -.2l4.3 -.6l4.3 0l4.3 -.3l4.3 -.4l4.3 -.3l4.3 -.1l4.3 -.2l4.3 .1l4.3 -.6l4.3 -.3l4.3 .2l4.3 -.1l4.2 -.3l4.3 -.3l4.3 -.5l7.2 -.5" stroke="#5a5aaf"/>
<path d="M192.0 181.3l1.4 -.1l1.5 .2l1.4 -.3l1.4 -.2l1.5 -.9l1.4 0l1.4 .5l1.5 0l2.8 -.3l2.9 0l2.8 -.2l2.9 -.3l2.9 -.4l2.8 -.4l4.3 -.2l4.3 -.6l4.3 -.2l4.3 -.2l4.3 0l4.3 -.2l4.3 -.6l4.3 .1l4.3 -.4l4.3 -.6l4.3 -.2l4.3 -.5l4.3 0l4.3 -.6l4.3 -.4l4.3 -.1l4.3 .4l4.3 .1l4.3 -.4l4.3 -.6l4.3 -.1l4.3 -.4l4.2 .2l4.3 0l4.3 0l7.2 -.3" stroke="#3732e6"/>
<path d="M192.0 182.3l1.4 -.4l1.5 -.4l1.4 .2l1.4 .2l1.5 -.2l1.4 0l1.4 .3l1.5 -.5l2.8 -.4l2.9 -.2l2.8 -.8l2.9 -.3l2.9 -.1l2.8 -.3l4.3 -.1l4.3 -.3l4.3 -.6l4.3 -.2l4.3 -.3l4.3 -.7l4.3 -.5l4.3 -.4l4.3 -.3l4.3 -.3l4.3 -.6l4.3 -.1l4.3 -.6l4.3 .2l4.3 0l4.3 .2l4.3 -.1l4.3 -.3l4.3 -.5l4.3 0l4.3 -.1l4.3 -.1l4.2 0l4.3 .1l4.3 -.3l7.2 .1" stroke="#6262a8"/>
</g>
<rect x="192.0" y="36.5" width="143.2" height="178.1" fill="none" stroke="#808080" stroke-width="1.1"/>
<path d="M192.0 36.5v-1.8M192.0 214.6v1.8M220.6 36.5v-1.8M220.6 214.6v1.8M249.3 36.5v-1.8M249.3 214.6v1.8M277.9 36.5v-1.8M277.9 214.6v1.8M306.6 36.5v-1.8M306.6 214.6v1.8M335.2 36.5v-1.8M335.2 214.6v1.8M192.0 205.23h-1.8M335.2 205.23h1.8M192.0 186.48h-1.8M335.2 186.48h1.8M192.0 167.73h-1.8M335.2 167.73h1.8M192.0 148.98h-1.8M335.2 148.98h1.8M192.0 130.24h-1.8M335.2 130.24h1.8M192.0 111.49h-1.8M335.2 111.49h1.8M192.0 92.74h-1.8M335.2 92.74h1.8M192.0 73.99h-1.8M335.2 73.99h1.8M192.0 55.25h-1.8M335.2 55.25h1.8M192.0 36.50h-1.8M335.2 36.50h1.8" stroke="#808080" stroke-width="1.0"/>
<text x="192.0" y="224.8" font-size="7.80" text-anchor="middle" textLength="4.7" lengthAdjust="spacingAndGlyphs">0</text>
<text x="220.6" y="224.8" font-size="7.80" text-anchor="middle" textLength="9.4" lengthAdjust="spacingAndGlyphs">10</text>
<text x="249.3" y="224.8" font-size="7.80" text-anchor="middle" textLength="9.4" lengthAdjust="spacingAndGlyphs">20</text>
<text x="277.9" y="224.8" font-size="7.80" text-anchor="middle" textLength="9.4" lengthAdjust="spacingAndGlyphs">30</text>
<text x="306.6" y="224.8" font-size="7.80" text-anchor="middle" textLength="9.4" lengthAdjust="spacingAndGlyphs">40</text>
<text x="335.2" y="224.8" font-size="7.80" text-anchor="middle" textLength="9.4" lengthAdjust="spacingAndGlyphs">50</text>
<text x="195.0" y="45.5" font-size="7.80" textLength="10.4" lengthAdjust="spacingAndGlyphs">(b)</text>
<rect x="349.7" y="36.5" width="143.2" height="178.1" fill="#fff"/>
<rect x="349.7" y="125.55" width="143.2" height="18.75" fill="#f4fcd0"/>
<line x1="349.7" y1="130.24" x2="492.9" y2="130.24" stroke="#1a1a1a" stroke-width="1.0" stroke-dasharray="2.6 1.5"/>
<g clip-path="url(#kc)" fill="none" stroke-width="1" stroke-linejoin="round">
<path d="M349.7 84.3l1.4 .8l1.5 .9l1.4 .9l1.4 1l1.5 0l1.4 1l1.4 .1l1.5 .4l2.8 1.3l2.9 1.4l2.8 .6l2.9 .4l2.9 1.2l2.8 .9l4.3 .8l4.3 1l4.3 .3l4.3 1.1l4.3 .7l4.3 1.1l4.3 0l4.3 .8l4.3 1.2l4.3 .4l4.3 .3l4.3 -.3l4.3 .5l4.3 .3l4.3 .1l4.3 -.2l4.3 .3l4.3 0l4.3 .1l4.3 .4l4.3 .2l4.3 .2l4.2 .5l4.3 -.3l4.3 .6l7.2 -.3" stroke="#64648c"/>
<path d="M349.7 96.5l1.4 1l1.5 1.2l1.4 .8l1.4 .5l1.5 .5l1.4 .5l1.4 .3l1.5 .9l2.8 .9l2.9 1.4l2.8 .4l2.9 .5l2.9 .7l2.8 -.1l4.3 .4l4.3 1.5l4.3 .1l4.3 .7l4.3 -.4l4.3 -.8l4.3 .5l4.3 .1l4.3 .2l4.3 0l4.3 -.2l4.3 -.3l4.3 .5l4.3 -.5l4.3 .5l4.3 0l4.3 -.3l4.3 -.1l4.3 .5l4.3 .3l4.3 .1l4.3 0l4.2 -.4l4.3 .5l4.3 -.2l7.2 -.2" stroke="#64648c"/>
<path d="M349.7 99.8l1.4 .6l1.5 .3l1.4 .7l1.4 .5l1.5 .6l1.4 .3l1.4 1.1l1.5 .4l2.8 1.1l2.9 1.1l2.8 1.2l2.9 1.2l2.9 .8l2.8 .8l4.3 .8l4.3 1.2l4.3 .5l4.3 .6l4.3 .8l4.3 .7l4.3 .7l4.3 .7l4.3 .5l4.3 .3l4.3 .3l4.3 .6l4.3 .2l4.3 .4l4.3 .1l4.3 -.2l4.3 0l4.3 .3l4.3 .5l4.3 .4l4.3 .4l4.3 -.2l4.2 .2l4.3 0l4.3 .1l7.2 .1" stroke="#64648c"/>
<path d="M349.7 99.3l1.4 1.1l1.5 1l1.4 1.1l1.4 .6l1.5 1l1.4 1.1l1.4 1l1.5 .9l2.8 1.1l2.9 .5l2.8 1.5l2.9 .8l2.9 1l2.8 1.3l4.3 1.3l4.3 1.2l4.3 1.2l4.3 .3l4.3 1.4l4.3 .6l4.3 .5l4.3 .7l4.3 .5l4.3 .2l4.3 .4l4.3 .3l4.3 .2l4.3 .8l4.3 -.1l4.3 -.3l4.3 .1l4.3 .1l4.3 .7l4.3 .2l4.3 .4l4.3 .3l4.2 -.2l4.3 .3l4.3 .1l7.2 .6" stroke="#64648c"/>
<path d="M349.7 111.8l1.4 .4l1.5 .6l1.4 .5l1.4 -.1l1.5 .7l1.4 .6l1.4 .4l1.5 0l2.8 0l2.9 .6l2.8 .9l2.9 .6l2.9 .2l2.8 .7l4.3 .3l4.3 .2l4.3 .6l4.3 .4l4.3 .3l4.3 .1l4.3 .8l4.3 .1l4.3 .5l4.3 .5l4.3 .2l4.3 .3l4.3 .4l4.3 .5l4.3 .3l4.3 -.4l4.3 -.4l4.3 0l4.3 -.2l4.3 .4l4.3 .1l4.3 .1l4.2 .4l4.3 .3l4.3 -.1l7.2 .2" stroke="#64648c"/>
<path d="M349.7 100.2l1.4 1.1l1.5 1.1l1.4 .8l1.4 1l1.5 1l1.4 .9l1.4 .9l1.5 1l2.8 1.5l2.9 1.1l2.8 1l2.9 .8l2.9 1.5l2.8 1l4.3 1.3l4.3 .9l4.3 1l4.3 .8l4.3 .4l4.3 .5l4.3 .8l4.3 -.1l4.3 .2l4.3 .5l4.3 .1l4.3 .4l4.3 -.1l4.3 .3l4.3 .5l4.3 .2l4.3 .3l4.3 -.1l4.3 0l4.3 .1l4.3 .2l4.3 .9l4.2 -.2l4.3 .4l4.3 -.3l7.2 -.4" stroke="#64648c"/>
<path d="M349.7 127.1l1.4 1.1l1.5 1.1l1.4 1l1.4 1.1l1.5 .6l1.4 .7l1.4 .2l1.5 .5l2.8 .8l2.9 1.2l2.8 1l2.9 1.2l2.9 1.3l2.8 1.3l4.3 3.2l4.3 3.8l4.3 3l4.3 1.7l4.3 1.4l4.3 1.2l4.3 .2l4.3 .3l4.3 .4l4.3 .7l4.3 -.3l4.3 .3l4.3 .3l4.3 .4l4.3 .6l4.3 .6l4.3 0l4.3 0l4.3 .1l4.3 .4l4.3 .4l4.3 0l4.2 .4l4.3 -.3l4.3 -.3l7.2 -.5" stroke="#64648c"/>
<path d="M349.7 177.3l1.4 -.1l1.5 0l1.4 .6l1.4 -.3l1.5 -.4l1.4 -.7l1.4 -.5l1.5 -.5l2.8 -.5l2.9 -.6l2.8 -.8l2.9 .3l2.9 .1l2.8 .4l4.3 -.6l4.3 -.4l4.3 -.1l4.3 .4l4.3 -.1l4.3 0l4.3 0l4.3 0l4.3 -.2l4.3 .1l4.3 -.2l4.3 -.1l4.3 .1l4.3 0l4.3 .1l4.3 -.2l4.3 0l4.3 -.1l4.3 .1l4.3 .4l4.3 -.4l4.3 .3l4.2 -.3l4.3 -.2l4.3 .4l7.2 .2" stroke="#64648c"/>
<path d="M349.7 184.4l1.4 .3l1.5 .3l1.4 -.4l1.4 .1l1.5 -.2l1.4 .1l1.4 -.1l1.5 .2l2.8 -.1l2.9 -.2l2.8 0l2.9 .1l2.9 .4l2.8 -.2l4.3 -.1l4.3 0l4.3 .2l4.3 -.2l4.3 -.8l4.3 .2l4.3 0l4.3 0l4.3 .8l4.3 -.1l4.3 .2l4.3 -.5l4.3 0l4.3 .3l4.3 0l4.3 -.1l4.3 .1l4.3 0l4.3 .3l4.3 0l4.3 -.4l4.3 -.6l4.2 -.1l4.3 0l4.3 -.3l7.2 -.1" stroke="#64648c"/>
</g>
<g clip-path="url(#kc)" fill="none">
<path d="M349.7 130.2l1.2 .4l1.2 .4l1.2 .8l1.2 1.1l1.2 1.1l1.2 1.7l1.2 1.8l1.2 1.9l1.2 2.8l1.2 2.8l1.2 2.7l1.2 1.9l1.2 1.5l1.2 1.5l1.3 1l1.2 .9l1.2 1l1.2 .5l1.2 .4l1.2 .4l1.2 .4l1.2 .4l1.2 .4l1.2 .5l1.2 .5l1.2 .5l1.2 .3l1.2 .2l1.2 .3l1.2 .2l1.2 .3l1.2 .1l1.2 .2l1.2 .2l1.2 .1l1.2 .2l1.2 .1l1.2 .2l1.2 .1l1.2 .2l1.2 .2l1.2 .1l1.2 .2l1.2 .1l1.3 .2l1.2 .1l1.2 .2l1.2 .1l1.2 .2l1.2 .1l1.2 .2l1.2 .1l1.2 .1l1.2 0l1.2 .1l1.2 0l1.2 .1l1.2 0l1.2 .1l1.2 0l1.2 .1l1.2 0l1.2 .1l1.2 0l1.2 .1l1.2 .1l1.2 0l1.2 .1l1.2 0l1.2 0l1.2 .1l1.2 0l1.2 0l1.2 0l1.3 0l1.2 0l1.2 0l1.2 .1l1.2 0l1.2 0l1.2 0l1.2 -.1l1.2 0l1.2 -.1l1.2 -.1l1.2 0l1.2 -.1l1.2 -.1l1.2 0l1.2 -.1l1.2 0l1.2 .2l1.2 .1l1.2 .2l1.2 .1l1.2 .2l1.2 .1l1.2 .2l1.2 .1l1.2 .2l1.2 .1l1.2 .2l1.2 .1l1.2 .2l1.3 .2l1.2 .1l1.2 .2l1.2 0l1.2 -.1l1.2 0l1.2 0l1.2 0l1.2 -.1l1.2 0l1.2 .1l1.2 .1l1.2 .1l1.2 .1l1.2 .1" stroke="#64648c" stroke-width="0.8"/>
<path d="M349.7 130.2l1.2 .4l1.2 .4l1.2 .8l1.2 1.1l1.2 1.1l1.2 1.7l1.2 1.8l1.2 1.9l1.2 2.8l1.2 2.8l1.2 2.7l1.2 1.9l1.2 1.5l1.2 1.5l1.3 1l1.2 .9l1.2 1l1.2 .5l1.2 .4l1.2 .4l1.2 .4l1.2 .4l1.2 .4l1.2 .5l1.2 .5l1.2 .5l1.2 .3l1.2 .2l1.2 .3l1.2 .2l1.2 .3l1.2 .1l1.2 .2l1.2 .2l1.2 .1l1.2 .2l1.2 .1l1.2 .2l1.2 .1l1.2 .2l1.2 .2l1.2 .1l1.2 .2l1.2 .1l1.3 .2l1.2 .1l1.2 .2l1.2 .1l1.2 .2l1.2 .1l1.2 .2l1.2 .1l1.2 .1l1.2 0l1.2 .1l1.2 0l1.2 .1l1.2 0l1.2 .1l1.2 0l1.2 .1l1.2 0l1.2 .1l1.2 0l1.2 .1l1.2 .1l1.2 0l1.2 .1l1.2 0l1.2 0l1.2 .1l1.2 0l1.2 0l1.2 0l1.3 0l1.2 0l1.2 0l1.2 .1l1.2 0l1.2 0l1.2 0l1.2 -.1l1.2 0l1.2 -.1l1.2 -.1l1.2 0l1.2 -.1l1.2 -.1l1.2 0l1.2 -.1l1.2 0l1.2 .2l1.2 .1l1.2 .2l1.2 .1l1.2 .2l1.2 .1l1.2 .2l1.2 .1l1.2 .2l1.2 .1l1.2 .2l1.2 .1l1.2 .2l1.3 .2l1.2 .1l1.2 .2l1.2 0l1.2 -.1l1.2 0l1.2 0l1.2 0l1.2 -.1l1.2 0l1.2 .1l1.2 .1l1.2 .1l1.2 .1l1.2 .1" stroke="#000" stroke-width="2.3" stroke-dasharray="2.6 1.7"/>
</g>
<rect x="349.7" y="36.5" width="143.2" height="178.1" fill="none" stroke="#808080" stroke-width="1.1"/>
<path d="M349.7 36.5v-1.8M349.7 214.6v1.8M378.3 36.5v-1.8M378.3 214.6v1.8M407.0 36.5v-1.8M407.0 214.6v1.8M435.6 36.5v-1.8M435.6 214.6v1.8M464.3 36.5v-1.8M464.3 214.6v1.8M492.9 36.5v-1.8M492.9 214.6v1.8M349.7 205.23h-1.8M492.9 205.23h1.8M349.7 186.48h-1.8M492.9 186.48h1.8M349.7 167.73h-1.8M492.9 167.73h1.8M349.7 148.98h-1.8M492.9 148.98h1.8M349.7 130.24h-1.8M492.9 130.24h1.8M349.7 111.49h-1.8M492.9 111.49h1.8M349.7 92.74h-1.8M492.9 92.74h1.8M349.7 73.99h-1.8M492.9 73.99h1.8M349.7 55.25h-1.8M492.9 55.25h1.8M349.7 36.50h-1.8M492.9 36.50h1.8" stroke="#808080" stroke-width="1.0"/>
<text x="349.7" y="224.8" font-size="7.80" text-anchor="middle" textLength="4.7" lengthAdjust="spacingAndGlyphs">0</text>
<text x="378.3" y="224.8" font-size="7.80" text-anchor="middle" textLength="9.4" lengthAdjust="spacingAndGlyphs">10</text>
<text x="407.0" y="224.8" font-size="7.80" text-anchor="middle" textLength="9.4" lengthAdjust="spacingAndGlyphs">20</text>
<text x="435.6" y="224.8" font-size="7.80" text-anchor="middle" textLength="9.4" lengthAdjust="spacingAndGlyphs">30</text>
<text x="464.3" y="224.8" font-size="7.80" text-anchor="middle" textLength="9.4" lengthAdjust="spacingAndGlyphs">40</text>
<text x="492.9" y="224.8" font-size="7.80" text-anchor="middle" textLength="9.4" lengthAdjust="spacingAndGlyphs">50</text>
<text x="352.7" y="45.5" font-size="7.80" textLength="9.8" lengthAdjust="spacingAndGlyphs">(c)</text>
<rect x="507.4" y="36.5" width="143.2" height="178.1" fill="#fff"/>
<rect x="507.4" y="125.55" width="143.2" height="18.75" fill="#f4fcd0"/>
<line x1="507.4" y1="130.24" x2="650.6" y2="130.24" stroke="#1a1a1a" stroke-width="1.0" stroke-dasharray="2.6 1.5"/>
<g clip-path="url(#kd)" fill="none" stroke-width="1" stroke-linejoin="round">
<path d="M507.4 99.3l1.4 1.2l1.5 1.5l1.4 1.4l1.4 1.4l1.5 1.4l1.4 1.5l1.4 1.6l1.5 1.9l2.8 2.9l2.9 3l2.8 2l2.9 2.1l2.9 2.4l2.8 1.9l4.3 3l4.3 4.8l4.3 8.3l4.3 7.7l4.3 6.8l4.3 2.6l4.3 2.4l4.3 2.5l4.3 .7l4.3 1.2l4.3 1l4.3 1.1l4.3 1l4.3 .4l4.3 .5l4.3 .3l4.3 0l4.3 .2l4.3 0l4.3 .6l4.3 .3l4.3 .2l4.2 .1l4.3 .2l4.3 -.1l7.2 .4" stroke="#807676"/>
<path d="M507.4 105.4l1.4 1.1l1.5 .9l1.4 1.3l1.4 .8l1.5 1l1.4 1.2l1.4 1.1l1.5 1l2.8 2l2.9 2.1l2.8 2.2l2.9 2.1l2.9 2.7l2.8 3.1l4.3 4.9l4.3 5.4l4.3 8.3l4.3 7.2l4.3 5l4.3 2.6l4.3 1.8l4.3 1l4.3 1.6l4.3 2l4.3 .2l4.3 .5l4.3 -.2l4.3 .7l4.3 .9l4.3 .2l4.3 .4l4.3 .3l4.3 .8l4.3 .1l4.3 -.2l4.3 .8l4.2 -.1l4.3 .5l4.3 -.3l7.2 .6" stroke="#837171"/>
<path d="M507.4 106.8l1.4 1l1.5 1.3l1.4 1.7l1.4 1.2l1.5 1.7l1.4 2.1l1.4 .5l1.5 1.6l2.8 3.1l2.9 3.6l2.8 4.3l2.9 7.5l2.9 10.4l2.8 6l4.3 6.1l4.3 2.7l4.3 1.9l4.3 1.5l4.3 1.5l4.3 2.2l4.3 1.1l4.3 .7l4.3 -.2l4.3 .2l4.3 .4l4.3 .8l4.3 .2l4.3 .6l4.3 0l4.3 .3l4.3 .6l4.3 -.1l4.3 .1l4.3 .6l4.3 -.1l4.3 .5l4.2 .5l4.3 .3l4.3 .6l7.2 .7" stroke="#876d6d"/>
<path d="M507.4 109.6l1.4 2.3l1.5 2.4l1.4 2.9l1.4 2.3l1.5 2.9l1.4 2.6l1.4 3.1l1.5 3.1l2.8 5.9l2.9 6.4l2.8 5.1l2.9 4.5l2.9 4.9l2.8 1.7l4.3 3l4.3 2.1l4.3 2.1l4.3 1l4.3 .5l4.3 .4l4.3 .8l4.3 .6l4.3 .9l4.3 .8l4.3 .5l4.3 .6l4.3 1l4.3 .3l4.3 .3l4.3 .4l4.3 .1l4.3 .3l4.3 .5l4.3 .4l4.3 -.3l4.3 .5l4.2 .1l4.3 0l4.3 .1l7.2 .6" stroke="#876d6d"/>
<path d="M507.4 179.9l1.4 .1l1.5 -.2l1.4 .5l1.4 .5l1.5 -.3l1.4 -.3l1.4 .1l1.5 .5l2.8 .1l2.9 .3l2.8 0l2.9 .8l2.9 .2l2.8 .3l4.3 .7l4.3 .1l4.3 .2l4.3 .4l4.3 .1l4.3 .8l4.3 .2l4.3 0l4.3 .1l4.3 -.1l4.3 .8l4.3 .8l4.3 0l4.3 0l4.3 -.7l4.3 0l4.3 .7l4.3 -.1l4.3 .6l4.3 .7l4.3 -.9l4.3 .1l4.2 0l4.3 .1l4.3 -.3l7.2 .4" stroke="#807676"/>
<path d="M507.4 181.8l1.4 .4l1.5 .5l1.4 -.4l1.4 -.3l1.5 .1l1.4 .1l1.4 .2l1.5 .4l2.8 -.1l2.9 .2l2.8 .2l2.9 .3l2.9 .1l2.8 .3l4.3 .3l4.3 .8l4.3 .2l4.3 -.2l4.3 .7l4.3 .4l4.3 .2l4.3 .2l4.3 .2l4.3 1l4.3 .2l4.3 .7l4.3 .5l4.3 0l4.3 .3l4.3 -.1l4.3 -.7l4.3 .1l4.3 .2l4.3 .6l4.3 .5l4.3 .5l4.2 .4l4.3 .4l4.3 .3l7.2 .2" stroke="#837171"/>
<path d="M507.4 183.7l1.4 .6l1.5 .6l1.4 -.3l1.4 -.1l1.5 -.4l1.4 -.3l1.4 .3l1.5 -.1l2.8 .9l2.9 -.8l2.8 -.1l2.9 .5l2.9 .8l2.8 .1l4.3 1l4.3 .4l4.3 -.2l4.3 .1l4.3 .4l4.3 -.2l4.3 .6l4.3 .1l4.3 .4l4.3 .5l4.3 -.1l4.3 .5l4.3 -.6l4.3 .4l4.3 -.7l4.3 .7l4.3 -.1l4.3 .7l4.3 .7l4.3 -.1l4.3 -.3l4.3 .7l4.2 -.5l4.3 .4l4.3 0l7.2 0" stroke="#876d6d"/>
<path d="M507.4 185.1l1.4 .7l1.5 -.5l1.4 -.1l1.4 .4l1.5 .5l1.4 .6l1.4 .5l1.5 -.3l2.8 .2l2.9 .5l2.8 .3l2.9 -.5l2.9 .4l2.8 .4l4.3 -.3l4.3 .2l4.3 .3l4.3 .6l4.3 .8l4.3 .6l4.3 .3l4.3 .2l4.3 0l4.3 0l4.3 .2l4.3 .2l4.3 .7l4.3 .9l4.3 .1l4.3 .3l4.3 .2l4.3 0l4.3 .4l4.3 .4l4.3 -.1l4.3 -.1l4.2 .2l4.3 -.2l4.3 .1l7.2 .6" stroke="#8a6868"/>
<path d="M507.4 179.0l1.4 -.6l1.5 .5l1.4 -.3l1.4 -.3l1.5 -.3l1.4 .7l1.4 -.5l1.5 .4l2.8 .5l2.9 .5l2.8 .1l2.9 .3l2.9 .4l2.8 -.3l4.3 .7l4.3 .7l4.3 -.1l4.3 0l4.3 -.1l4.3 .8l4.3 -.2l4.3 .2l4.3 -.3l4.3 .9l4.3 .2l4.3 .4l4.3 .9l4.3 .4l4.3 -.5l4.3 .3l4.3 .4l4.3 -.3l4.3 -.3l4.3 -.1l4.3 .5l4.3 .2l4.2 -.2l4.3 .4l4.3 .5l7.2 -.2" stroke="#8d6363"/>
<path d="M507.4 116.5l1.4 6.8l1.5 5.3l1.4 6.2l1.4 6.2l1.5 5.7l1.4 4.7l1.4 3.8l1.5 3.5l2.8 7.1l2.9 6.4l2.8 4.7l2.9 3.7l2.9 2.4l2.8 2.7l4.3 1.7l4.3 .9l4.3 1.1l4.3 .5l4.3 1.2l4.3 1.3l4.3 .6l4.3 -.4l4.3 -.2l4.3 .7l4.3 -.3l4.3 .7l4.3 -.4l4.3 .2l4.3 .8l4.3 -.1l4.3 .9l4.3 .8l4.3 1l4.3 -.1l4.3 .1l4.3 .1l4.2 .3l4.3 -.7l4.3 .4l7.2 .7" stroke="#a24b4b"/>
<path d="M507.4 143.2l1.4 2.1l1.5 2.7l1.4 3.6l1.4 2.7l1.5 1.9l1.4 2.2l1.4 1.2l1.5 2.8l2.8 3.1l2.9 3.3l2.8 1.8l2.9 2.2l2.9 1.2l2.8 2l4.3 2.5l4.3 1.8l4.3 1.1l4.3 1.2l4.3 -.2l4.3 -.2l4.3 .4l4.3 1.1l4.3 .4l4.3 .7l4.3 -.5l4.3 .2l4.3 .1l4.3 .6l4.3 1.4l4.3 .4l4.3 .6l4.3 -.3l4.3 0l4.3 .4l4.3 .2l4.3 -.9l4.2 .7l4.3 .5l4.3 .1l7.2 .4" stroke="#a14c4c"/>
<path d="M507.4 109.5l1.4 4.6l1.5 4l1.4 6.4l1.4 5l1.5 4.8l1.4 4.9l1.4 4.7l1.5 4.6l2.8 7.4l2.9 7.4l2.8 6l2.9 4.7l2.9 3.7l2.8 3.2l4.3 2.9l4.3 2.6l4.3 2l4.3 1.7l4.3 2l4.3 1.6l4.3 1.4l4.3 .5l4.3 1.1l4.3 1.1l4.3 .2l4.3 .1l4.3 1.5l4.3 -.8l4.3 .5l4.3 .5l4.3 -.3l4.3 .5l4.3 .8l4.3 -1l4.3 1.3l4.3 .5l4.2 -.2l4.3 1.1l4.3 .4l7.2 .1" stroke="#c92a2a"/>
<path d="M507.4 122.7l1.4 4.7l1.5 3.8l1.4 3.2l1.4 3.5l1.5 4.2l1.4 2.7l1.4 2.9l1.5 2.4l2.8 4.4l2.9 3.8l2.8 3.6l2.9 3l2.9 3.4l2.8 2.2l4.3 2.2l4.3 2.1l4.3 1.3l4.3 1.6l4.3 -.2l4.3 -.6l4.3 1.3l4.3 .5l4.3 .9l4.3 -.2l4.3 .4l4.3 .6l4.3 .8l4.3 .4l4.3 1.1l4.3 -.2l4.3 .8l4.3 -.2l4.3 .2l4.3 -.5l4.3 .4l4.3 -.3l4.2 1l4.3 -.2l4.3 .5l7.2 .1" stroke="#8e6262"/>
<path d="M507.4 170.7l1.4 1.4l1.5 3l1.4 1.6l1.4 2.5l1.5 1l1.4 2.7l1.4 1.9l1.5 2l2.8 1.3l2.9 2.4l2.8 1.1l2.9 1.2l2.9 1.5l2.8 .6l4.3 .4l4.3 .8l4.3 .1l4.3 .9l4.3 .5l4.3 .8l4.3 .3l4.3 -.5l4.3 .5l4.3 .5l4.3 .9l4.3 .8l4.3 -.4l4.3 1l4.3 .8l4.3 .3l4.3 .4l4.3 -.8l4.3 1.5l4.3 -.1l4.3 -.2l4.3 .8l4.2 .4l4.3 -.2l4.3 -.7l7.2 .8" stroke="#cd2727"/>
<path d="M507.4 159.5l1.4 1.7l1.5 1.7l1.4 2.7l1.4 3.5l1.5 1.6l1.4 2.5l1.4 1.8l1.5 2.2l2.8 3.9l2.9 3l2.8 1.3l2.9 1l2.9 2.2l2.8 1.3l4.3 .1l4.3 1.1l4.3 1.3l4.3 .6l4.3 .5l4.3 .5l4.3 .6l4.3 .5l4.3 .5l4.3 .1l4.3 .7l4.3 .3l4.3 .3l4.3 -.4l4.3 .1l4.3 .4l4.3 0l4.3 .2l4.3 -.2l4.3 .1l4.3 -.4l4.3 -.1l4.2 .6l4.3 .6l4.3 0l7.2 .2" stroke="#d42222"/>
<path d="M507.4 113.7l1.4 3.2l1.5 3.1l1.4 1.9l1.4 1.6l1.5 1.8l1.4 2.8l1.4 1.5l1.5 2.5l2.8 4.2l2.9 4.2l2.8 4.9l2.9 4.4l2.9 4.7l2.8 3.4l4.3 4.5l4.3 2.2l4.3 1.9l4.3 1.1l4.3 1.1l4.3 1.5l4.3 .7l4.3 1.1l4.3 .4l4.3 .5l4.3 1.1l4.3 .5l4.3 .4l4.3 .6l4.3 -.1l4.3 -.5l4.3 .7l4.3 .6l4.3 1.4l4.3 .2l4.3 .3l4.3 1.1l4.2 -.3l4.3 -.4l4.3 .4l7.2 .2" stroke="#866d6d"/>
<path d="M507.4 136.2l1.4 10.7l1.5 11.4l1.4 9.1l1.4 6.1l1.5 5.8l1.4 4.1l1.4 3.2l1.5 3l2.8 2.6l2.9 1.3l2.8 1.6l2.9 .4l2.9 -.1l2.8 0l4.3 2l4.3 1.3l4.3 1.5l4.3 -.3l4.3 .1l4.3 .1l4.3 1.1l4.3 1.2l4.3 .2l4.3 .3l4.3 .8l4.3 .2l4.3 -.2l4.3 .2l4.3 1l4.3 1.4l4.3 .1l4.3 -.1l4.3 .2l4.3 .3l4.3 .4l4.3 -.5l4.2 .1l4.3 0l4.3 .7l7.2 .5" stroke="#b03c3c"/>
<path d="M507.4 127.2l1.4 3.5l1.5 3.5l1.4 2.9l1.4 2l1.5 2.8l1.4 2.1l1.4 3l1.5 3.1l2.8 6.1l2.9 5.2l2.8 3.4l2.9 3.7l2.9 2.8l2.8 2.4l4.3 3.3l4.3 2.6l4.3 1.8l4.3 1.1l4.3 1l4.3 .7l4.3 .9l4.3 1.2l4.3 .8l4.3 1l4.3 -.2l4.3 1.5l4.3 .3l4.3 -1.1l4.3 .6l4.3 1l4.3 .2l4.3 -.6l4.3 .4l4.3 0l4.3 .2l4.3 .5l4.2 -1.5l4.3 .5l4.3 .8l7.2 .7" stroke="#9b5252"/>
<path d="M507.4 170.1l1.4 1l1.5 .8l1.4 1.2l1.4 1.8l1.5 .7l1.4 1.2l1.4 1.2l1.5 1.6l2.8 2l2.9 1.8l2.8 1.3l2.9 1.6l2.9 .7l2.8 .7l4.3 1.4l4.3 1l4.3 1l4.3 .1l4.3 1.6l4.3 .5l4.3 1l4.3 .3l4.3 -.2l4.3 .6l4.3 .1l4.3 .6l4.3 -.6l4.3 -.1l4.3 0l4.3 1l4.3 .8l4.3 -.3l4.3 .4l4.3 .3l4.3 .1l4.3 .8l4.2 -.3l4.3 .2l4.3 0l7.2 .6" stroke="#9a5454"/>
<path d="M507.4 105.3l1.4 4.7l1.5 3.8l1.4 3.7l1.4 3.7l1.5 3.8l1.4 3.7l1.4 5l1.5 3l2.8 6.5l2.9 5.6l2.8 4.9l2.9 4.6l2.9 3.5l2.8 2.2l4.3 2.5l4.3 2.7l4.3 2.2l4.3 .6l4.3 1.6l4.3 -.1l4.3 .8l4.3 1.2l4.3 .1l4.3 -.2l4.3 1.3l4.3 -.3l4.3 .6l4.3 -.2l4.3 .7l4.3 1.1l4.3 -.1l4.3 -.1l4.3 -.7l4.3 -.4l4.3 .3l4.3 .6l4.2 .7l4.3 .4l4.3 .6l7.2 .4" stroke="#807676"/>
<path d="M507.4 109.7l1.4 2l1.5 2.1l1.4 1.1l1.4 2.1l1.5 2.8l1.4 2.3l1.4 3.3l1.5 3l2.8 6.8l2.9 5.9l2.8 6.4l2.9 6.6l2.9 5.3l2.8 3.8l4.3 4.3l4.3 2.9l4.3 2.4l4.3 1.6l4.3 1l4.3 .4l4.3 1.1l4.3 1l4.3 -.1l4.3 .8l4.3 -.1l4.3 .3l4.3 0l4.3 -.3l4.3 .2l4.3 .2l4.3 .8l4.3 .6l4.3 0l4.3 -.4l4.3 -.2l4.3 -.5l4.2 .4l4.3 .4l4.3 0l7.2 .5" stroke="#847171"/>
<path d="M507.4 172.8l1.4 2.8l1.5 1.3l1.4 2.7l1.4 1.5l1.5 2.8l1.4 1l1.4 2.4l1.5 .9l2.8 3.7l2.9 2.1l2.8 .7l2.9 1.7l2.9 .9l2.8 1l4.3 2.4l4.3 .3l4.3 .3l4.3 1.2l4.3 0l4.3 1l4.3 1l4.3 .2l4.3 .6l4.3 -1.2l4.3 1.4l4.3 -.2l4.3 -.2l4.3 1.7l4.3 1.2l4.3 -.4l4.3 .4l4.3 -.2l4.3 -.6l4.3 .5l4.3 .9l4.3 1.8l4.2 -.4l4.3 .4l4.3 -.4l7.2 -.1" stroke="#bc3333"/>
<path d="M507.4 117.7l1.4 5.3l1.5 5.6l1.4 5.7l1.4 6.5l1.5 5.6l1.4 5.1l1.4 4.5l1.5 4.3l2.8 5.7l2.9 4.1l2.8 2.8l2.9 2.4l2.9 .9l2.8 1.1l4.3 2.9l4.3 1.2l4.3 .6l4.3 .2l4.3 .8l4.3 .7l4.3 .8l4.3 .1l4.3 .7l4.3 .7l4.3 .7l4.3 0l4.3 .6l4.3 1.1l4.3 -.3l4.3 .6l4.3 -.1l4.3 0l4.3 -.3l4.3 -.2l4.3 .7l4.3 .4l4.2 .9l4.3 -.7l4.3 0l7.2 -.2" stroke="#915e5e"/>
<path d="M507.4 109.6l1.4 5.7l1.5 3.7l1.4 4.3l1.4 4.2l1.5 4.2l1.4 3.7l1.4 3.7l1.5 4.5l2.8 6.3l2.9 6.3l2.8 5.4l2.9 3.5l2.9 3.4l2.8 3.4l4.3 4.6l4.3 2.5l4.3 1.8l4.3 1.7l4.3 2l4.3 1.3l4.3 1.4l4.3 .4l4.3 .1l4.3 .1l4.3 .9l4.3 .4l4.3 .2l4.3 .7l4.3 .4l4.3 -.7l4.3 .4l4.3 .1l4.3 .7l4.3 .4l4.3 1.2l4.3 .1l4.2 -.4l4.3 -.7l4.3 -.2l7.2 .3" stroke="#b13b3b"/>
<path d="M507.4 116.3l1.4 5.9l1.5 5.6l1.4 5.1l1.4 5.6l1.5 4.6l1.4 5.2l1.4 5.1l1.5 4.5l2.8 8l2.9 6.5l2.8 4.4l2.9 4.1l2.9 3.1l2.8 2l4.3 2.5l4.3 2.6l4.3 1.2l4.3 1.3l4.3 1.2l4.3 .9l4.3 1.5l4.3 1l4.3 .6l4.3 .3l4.3 .7l4.3 .5l4.3 .1l4.3 -.1l4.3 .3l4.3 .1l4.3 .7l4.3 .7l4.3 .3l4.3 .5l4.3 .5l4.3 -.3l4.2 .5l4.3 .7l4.3 0l7.2 -.3" stroke="#d42222"/>
<path d="M507.4 120.8l1.4 .6l1.5 1.9l1.4 1.8l1.4 2l1.5 1.6l1.4 .5l1.4 2.7l1.5 .9l2.8 5l2.9 4.9l2.8 4.6l2.9 5l2.9 5.1l2.8 5.8l4.3 5.7l4.3 5.2l4.3 1.6l4.3 2.6l4.3 1.6l4.3 2l4.3 1.2l4.3 1.4l4.3 -.1l4.3 .6l4.3 0l4.3 .9l4.3 .6l4.3 -.6l4.3 .9l4.3 1.3l4.3 -.2l4.3 .7l4.3 .2l4.3 -.6l4.3 .6l4.3 -.5l4.2 .5l4.3 -.9l4.3 -.5l7.2 .7" stroke="#8d6464"/>
<path d="M507.4 109.6l1.4 4.2l1.5 3.4l1.4 2.9l1.4 4.2l1.5 2.7l1.4 3.9l1.4 3.4l1.5 3.7l2.8 4.3l2.9 4.9l2.8 4.3l2.9 4l2.9 2.5l2.8 3.7l4.3 2.8l4.3 1l4.3 2l4.3 1.4l4.3 .8l4.3 1.4l4.3 .7l4.3 .2l4.3 .5l4.3 .4l4.3 .7l4.3 .2l4.3 .4l4.3 -.4l4.3 .1l4.3 .6l4.3 1.6l4.3 -.3l4.3 -.2l4.3 .7l4.3 1.1l4.3 .4l4.2 -.6l4.3 .5l4.3 .1l7.2 -.1" stroke="#847171"/>
<path d="M507.4 111.5l1.4 4.3l1.5 4.3l1.4 4.4l1.4 2.7l1.5 3.3l1.4 4.3l1.4 5.2l1.5 4.4l2.8 6.6l2.9 6.5l2.8 3.9l2.9 3.2l2.9 2.5l2.8 1.6l4.3 2.1l4.3 2.5l4.3 1.6l4.3 -.7l4.3 2.1l4.3 1.2l4.3 -.1l4.3 .8l4.3 1.1l4.3 1.4l4.3 -.3l4.3 -.5l4.3 -.6l4.3 .5l4.3 -.3l4.3 1.3l4.3 .2l4.3 .8l4.3 0l4.3 -.3l4.3 -.5l4.3 1.1l4.2 -.7l4.3 .7l4.3 1l7.2 .2" stroke="#847070"/>
<path d="M507.4 108.0l1.4 8l1.5 7.3l1.4 7l1.4 6l1.5 6l1.4 5.4l1.4 5.7l1.5 4.2l2.8 8.2l2.9 6.4l2.8 5l2.9 3.9l2.9 4.1l2.8 3.4l4.3 2.9l4.3 1.8l4.3 1.4l4.3 .9l4.3 .4l4.3 .9l4.3 1.1l4.3 1.5l4.3 1.2l4.3 .8l4.3 .3l4.3 .4l4.3 .4l4.3 .5l4.3 .1l4.3 .3l4.3 .3l4.3 .2l4.3 .8l4.3 .9l4.3 -.1l4.3 0l4.2 .4l4.3 .5l4.3 -1.1l7.2 1" stroke="#be3131"/>
<path d="M507.4 119.8l1.4 2.9l1.5 3.7l1.4 3.1l1.4 2.5l1.5 3.1l1.4 3.4l1.4 3.5l1.5 3.7l2.8 6.5l2.9 6.2l2.8 5.4l2.9 4.1l2.9 2.8l2.8 2.4l4.3 2.5l4.3 3l4.3 .9l4.3 .1l4.3 .6l4.3 1.3l4.3 1.3l4.3 .6l4.3 1.2l4.3 .2l4.3 .8l4.3 0l4.3 -.1l4.3 1.6l4.3 .2l4.3 .6l4.3 1l4.3 .4l4.3 .2l4.3 -.4l4.3 .9l4.3 -.4l4.2 -.8l4.3 .1l4.3 .1l7.2 .5" stroke="#a04d4d"/>
<path d="M507.4 146.1l1.4 12.1l1.5 8.8l1.4 6.2l1.4 3.4l1.5 3.3l1.4 2.6l1.4 1.2l1.5 2.6l2.8 2.6l2.9 1.6l2.8 1.4l2.9 .4l2.9 1.1l2.8 -.2l4.3 .5l4.3 .9l4.3 1.5l4.3 .9l4.3 .6l4.3 1.7l4.3 .7l4.3 .5l4.3 .8l4.3 -.1l4.3 .3l4.3 1.4l4.3 .7l4.3 1.1l4.3 .3l4.3 1l4.3 -.1l4.3 .3l4.3 0l4.3 .6l4.3 1.3l4.3 -.7l4.2 .5l4.3 -.3l4.3 .2l7.2 .3" stroke="#d42222"/>
<path d="M507.4 111.4l1.4 3.3l1.5 2.7l1.4 4.1l1.4 2.8l1.5 3.4l1.4 3.3l1.4 3.2l1.5 2.9l2.8 5.4l2.9 6.8l2.8 5.4l2.9 5.2l2.9 3.7l2.8 4l4.3 4.3l4.3 3.8l4.3 2.4l4.3 1.8l4.3 2l4.3 1.5l4.3 2l4.3 .8l4.3 .5l4.3 1l4.3 .2l4.3 1.7l4.3 1.3l4.3 .8l4.3 .4l4.3 0l4.3 .2l4.3 .2l4.3 -.2l4.3 .4l4.3 .7l4.3 .7l4.2 -1.1l4.3 1.3l4.3 0l7.2 -.6" stroke="#965858"/>
<path d="M507.4 119.7l1.4 2.6l1.5 2.1l1.4 1.8l1.4 1.8l1.5 3l1.4 2.3l1.4 2.9l1.5 2.6l2.8 5.9l2.9 6.5l2.8 6l2.9 3.6l2.9 1.8l2.8 1.8l4.3 2l4.3 .4l4.3 1.9l4.3 .6l4.3 1.2l4.3 .7l4.3 .6l4.3 -.2l4.3 1.1l4.3 .7l4.3 1.2l4.3 -.1l4.3 .4l4.3 0l4.3 .7l4.3 .2l4.3 -.4l4.3 .2l4.3 -.1l4.3 -.1l4.3 .4l4.3 .9l4.2 -.4l4.3 0l4.3 -.4l7.2 1.3" stroke="#807676"/>
<path d="M507.4 159.8l1.4 2.4l1.5 1.7l1.4 1l1.4 1.2l1.5 1.4l1.4 1.4l1.4 1.1l1.5 1.5l2.8 2.3l2.9 2.1l2.8 2.7l2.9 1.5l2.9 .7l2.8 1.2l4.3 1.4l4.3 1.4l4.3 1.2l4.3 .4l4.3 .9l4.3 1.1l4.3 1.9l4.3 .5l4.3 1.1l4.3 .9l4.3 -.3l4.3 0l4.3 1l4.3 -.2l4.3 0l4.3 .6l4.3 -.1l4.3 1l4.3 .6l4.3 .6l4.3 .4l4.3 -.4l4.2 .6l4.3 .4l4.3 .3l7.2 0" stroke="#af3d3d"/>
<path d="M507.4 137.3l1.4 3.2l1.5 4.3l1.4 4.4l1.4 3.9l1.5 3.4l1.4 3.9l1.4 2.9l1.5 2l2.8 5.8l2.9 4.3l2.8 2.7l2.9 3.1l2.9 2.5l2.8 2.1l4.3 1.3l4.3 .9l4.3 1.1l4.3 .8l4.3 .1l4.3 .3l4.3 1.5l4.3 .6l4.3 .4l4.3 .1l4.3 .6l4.3 .9l4.3 .6l4.3 1.2l4.3 .1l4.3 .4l4.3 -.1l4.3 .7l4.3 .3l4.3 .5l4.3 .5l4.3 -.4l4.2 .2l4.3 -.2l4.3 .6l7.2 .1" stroke="#b03c3c"/>
<path d="M507.4 124.8l1.4 18l1.5 15.5l1.4 11.1l1.4 8l1.5 5.4l1.4 2.6l1.4 2l1.5 1.1l2.8 1.3l2.9 1.4l2.8 1.2l2.9 .7l2.9 1.1l2.8 .4l4.3 .2l4.3 .5l4.3 1.4l4.3 2l4.3 .7l4.3 .8l4.3 -.3l4.3 1.1l4.3 .7l4.3 0l4.3 1l4.3 .6l4.3 -.8l4.3 -.5l4.3 .4l4.3 .6l4.3 1.5l4.3 .1l4.3 .4l4.3 .4l4.3 .8l4.3 .3l4.2 .5l4.3 0l4.3 -.8l7.2 .3" stroke="#d42222"/>
<path d="M507.4 159.3l1.4 2.1l1.5 2.2l1.4 1.8l1.4 1.1l1.5 1.3l1.4 1.7l1.4 1.2l1.5 1.6l2.8 2.9l2.9 2.5l2.8 1.9l2.9 .7l2.9 1.7l2.8 .4l4.3 .8l4.3 1.2l4.3 .9l4.3 1.1l4.3 .7l4.3 .3l4.3 .6l4.3 .1l4.3 .1l4.3 .4l4.3 .5l4.3 .5l4.3 .4l4.3 .8l4.3 .2l4.3 .2l4.3 .7l4.3 -.6l4.3 .7l4.3 .6l4.3 .1l4.3 .9l4.2 .4l4.3 .6l4.3 .2l7.2 0" stroke="#a74646"/>
<path d="M507.4 116.2l1.4 9.1l1.5 8.5l1.4 7.8l1.4 7.5l1.5 7.1l1.4 5.4l1.4 5.2l1.5 4.3l2.8 4.9l2.9 3.5l2.8 2.7l2.9 1.7l2.9 1.3l2.8 2.2l4.3 1.6l4.3 1.8l4.3 .9l4.3 1.2l4.3 .1l4.3 .5l4.3 1.2l4.3 .7l4.3 1.2l4.3 .5l4.3 .1l4.3 .4l4.3 1.4l4.3 .5l4.3 0l4.3 .1l4.3 -.2l4.3 1l4.3 0l4.3 .7l4.3 .1l4.3 .1l4.2 -.1l4.3 .6l4.3 .2l7.2 .9" stroke="#b03c3c"/>
<path d="M507.4 184.3l1.4 .8l1.5 1.2l1.4 1.7l1.4 1.2l1.5 .6l1.4 0l1.4 .3l1.5 .4l2.8 2.2l2.9 1.1l2.8 .6l2.9 .7l2.9 .5l2.8 .8l4.3 0l4.3 .1l4.3 .8l4.3 1.1l4.3 -.5l4.3 .7l4.3 -.2l4.3 -.4l4.3 .9l4.3 .2l4.3 .4l4.3 -.1l4.3 .1l4.3 -.7l4.3 .1l4.3 .3l4.3 -.3l4.3 .5l4.3 .3l4.3 -.8l4.3 .7l4.3 .3l4.2 .1l4.3 .6l4.3 .9l7.2 -.7" stroke="#ab4141"/>
<path d="M507.4 108.9l1.4 6.1l1.5 5.6l1.4 5.7l1.4 5.4l1.5 4.3l1.4 3l1.4 3.9l1.5 3.6l2.8 7.6l2.9 5.2l2.8 4.6l2.9 2.5l2.9 2.4l2.8 1.8l4.3 2l4.3 1.7l4.3 1.8l4.3 .4l4.3 1.3l4.3 .9l4.3 .4l4.3 .5l4.3 -.1l4.3 -.4l4.3 .1l4.3 .2l4.3 .2l4.3 -.2l4.3 1.2l4.3 -.1l4.3 .7l4.3 .6l4.3 -.1l4.3 .2l4.3 -.4l4.3 -.5l4.2 1.4l4.3 -.1l4.3 -1.1l7.2 -.2" stroke="#8a6767"/>
<path d="M507.4 125.4l1.4 2.5l1.5 3.2l1.4 2.8l1.4 2l1.5 2.1l1.4 3.1l1.4 3l1.5 2.8l2.8 7l2.9 6.1l2.8 4.2l2.9 3l2.9 3.2l2.8 1.4l4.3 2.7l4.3 2.1l4.3 2.3l4.3 .3l4.3 .8l4.3 -.5l4.3 .6l4.3 .5l4.3 1.4l4.3 -.4l4.3 .6l4.3 .4l4.3 1.3l4.3 -.4l4.3 -.3l4.3 .5l4.3 .1l4.3 0l4.3 -.3l4.3 .2l4.3 -.6l4.3 .5l4.2 .5l4.3 .4l4.3 1.3l7.2 .3" stroke="#896a6a"/>
<path d="M507.4 118.3l1.4 5.3l1.5 5.5l1.4 4.6l1.4 5.6l1.5 4.3l1.4 3.6l1.4 3.2l1.5 3.6l2.8 4.9l2.9 3.1l2.8 3.4l2.9 1.9l2.9 2.5l2.8 2.2l4.3 .9l4.3 .9l4.3 .7l4.3 .9l4.3 .6l4.3 0l4.3 -.4l4.3 .6l4.3 1.3l4.3 -.3l4.3 0l4.3 .1l4.3 .3l4.3 -.7l4.3 .5l4.3 .3l4.3 1.4l4.3 .5l4.3 .5l4.3 .1l4.3 -.1l4.3 .5l4.2 -.8l4.3 .8l4.3 .3l7.2 0" stroke="#807676"/>
<path d="M507.4 121.7l1.4 3.8l1.5 3.6l1.4 4l1.4 3l1.5 3.6l1.4 3.5l1.4 3.7l1.5 3.7l2.8 5.7l2.9 4.7l2.8 4l2.9 2.8l2.9 3.5l2.8 2.3l4.3 2.8l4.3 .9l4.3 1.4l4.3 1.1l4.3 1.1l4.3 .1l4.3 .7l4.3 .3l4.3 1.1l4.3 -.2l4.3 .2l4.3 .1l4.3 -.1l4.3 .4l4.3 .5l4.3 0l4.3 .2l4.3 .4l4.3 .3l4.3 .4l4.3 0l4.3 -.1l4.2 .2l4.3 -.4l4.3 .9l7.2 .4" stroke="#915e5e"/>
<path d="M507.4 163.3l1.4 2.2l1.5 2.7l1.4 1.4l1.4 1.7l1.5 2.4l1.4 1.5l1.4 2.2l1.5 2.1l2.8 2.9l2.9 2.7l2.8 2.5l2.9 1.9l2.9 1.7l2.8 1.1l4.3 1.4l4.3 .9l4.3 1.1l4.3 1.3l4.3 1l4.3 .5l4.3 -.1l4.3 .1l4.3 .8l4.3 .1l4.3 .8l4.3 0l4.3 .6l4.3 0l4.3 .2l4.3 .5l4.3 .2l4.3 .7l4.3 .3l4.3 -.2l4.3 -1.2l4.3 .3l4.2 .5l4.3 .8l4.3 -.1l7.2 1.1" stroke="#bf3131"/>
<path d="M507.4 182.2l1.4 .6l1.5 1.5l1.4 -.1l1.4 .3l1.5 1.2l1.4 1l1.4 1.4l1.5 1.2l2.8 .8l2.9 .7l2.8 .8l2.9 .9l2.9 1.3l2.8 .6l4.3 2l4.3 .9l4.3 .2l4.3 .3l4.3 1.2l4.3 1l4.3 0l4.3 -.1l4.3 1.6l4.3 .8l4.3 .3l4.3 -.1l4.3 .9l4.3 .1l4.3 .5l4.3 -.8l4.3 .3l4.3 .5l4.3 .6l4.3 -.2l4.3 0l4.3 .9l4.2 .1l4.3 .9l4.3 .4l7.2 .7" stroke="#cd2727"/>
<path d="M507.4 118.8l1.4 20l1.5 16.4l1.4 11.8l1.4 8.5l1.5 6.6l1.4 4.9l1.4 2.5l1.5 3.1l2.8 3.4l2.9 .8l2.8 .4l2.9 .3l2.9 .8l2.8 1.4l4.3 1.1l4.3 .4l4.3 1.2l4.3 1l4.3 1.3l4.3 1l4.3 -.2l4.3 .2l4.3 1.1l4.3 .9l4.3 .5l4.3 -.1l4.3 .9l4.3 .3l4.3 1.3l4.3 .7l4.3 -.4l4.3 -.5l4.3 .8l4.3 .5l4.3 -.5l4.3 .4l4.2 .4l4.3 -.3l4.3 0l7.2 -.3" stroke="#cf2525"/>
<path d="M507.4 108.8l1.4 1.8l1.5 1.4l1.4 1.4l1.4 2.1l1.5 1.8l1.4 .8l1.4 2.4l1.5 1.3l2.8 5.5l2.9 9l2.8 11.3l2.9 10.8l2.9 7.1l2.8 4.8l4.3 3.5l4.3 1.9l4.3 .2l4.3 .7l4.3 1.6l4.3 1l4.3 1.1l4.3 .5l4.3 .4l4.3 -.7l4.3 1.6l4.3 -.1l4.3 .2l4.3 .9l4.3 .4l4.3 .5l4.3 .2l4.3 -.3l4.3 1.1l4.3 -.6l4.3 .5l4.3 -.6l4.2 .1l4.3 -.3l4.3 .1l7.2 0" stroke="#906060"/>
<path d="M507.4 109.4l1.4 6.8l1.5 6.1l1.4 6.1l1.4 5.4l1.5 7.3l1.4 5.8l1.4 4.8l1.5 5.4l2.8 7.7l2.9 4.4l2.8 3.3l2.9 3.2l2.9 1.2l2.8 1l4.3 1.3l4.3 1l4.3 .9l4.3 1.2l4.3 .9l4.3 .1l4.3 .4l4.3 -.4l4.3 .7l4.3 1.5l4.3 .3l4.3 .1l4.3 0l4.3 .1l4.3 .6l4.3 -.6l4.3 .6l4.3 -.2l4.3 .4l4.3 .7l4.3 -.6l4.3 1.3l4.2 .3l4.3 -.3l4.3 .2l7.2 -.4" stroke="#925d5d"/>
<path d="M507.4 167.9l1.4 1.6l1.5 .7l1.4 1.6l1.4 1.5l1.5 1.7l1.4 1.4l1.4 .9l1.5 .9l2.8 2.1l2.9 2.2l2.8 1.4l2.9 2l2.9 1.4l2.8 1.2l4.3 1.8l4.3 1.2l4.3 1.4l4.3 1.3l4.3 .3l4.3 .8l4.3 .6l4.3 .9l4.3 .6l4.3 .7l4.3 .5l4.3 0l4.3 1.1l4.3 .8l4.3 .8l4.3 1.9l4.3 .9l4.3 .3l4.3 .1l4.3 .5l4.3 -.1l4.3 0l4.2 .5l4.3 -.1l4.3 -.1l7.2 .5" stroke="#d42222"/>
<path d="M507.4 110.1l1.4 7l1.5 7.6l1.4 7.3l1.4 6.5l1.5 6.5l1.4 5.1l1.4 4.9l1.5 4.2l2.8 7.8l2.9 6.7l2.8 4.8l2.9 3l2.9 3l2.8 .6l4.3 2.6l4.3 2.1l4.3 .7l4.3 .8l4.3 1.1l4.3 .9l4.3 .6l4.3 .3l4.3 .3l4.3 .9l4.3 .3l4.3 .2l4.3 .2l4.3 2.1l4.3 .7l4.3 .5l4.3 .2l4.3 0l4.3 -.3l4.3 -.1l4.3 .3l4.3 .3l4.2 -.7l4.3 .7l4.3 .1l7.2 -.3" stroke="#a84444"/>
<path d="M507.4 150.6l1.4 5.6l1.5 3.7l1.4 3.9l1.4 3.3l1.5 2.1l1.4 2l1.4 1.9l1.5 .9l2.8 1.8l2.9 1.3l2.8 .9l2.9 .8l2.9 1l2.8 .9l4.3 .7l4.3 1.3l4.3 1.2l4.3 -.3l4.3 .6l4.3 .5l4.3 .5l4.3 .4l4.3 .4l4.3 .3l4.3 .8l4.3 -.2l4.3 .7l4.3 -.3l4.3 1.5l4.3 .7l4.3 -.6l4.3 .3l4.3 .5l4.3 -.1l4.3 .7l4.3 0l4.2 1.3l4.3 .1l4.3 .2l7.2 -.4" stroke="#9a5353"/>
<path d="M507.4 144.3l1.4 3.6l1.5 2.6l1.4 3.9l1.4 4.7l1.5 4.8l1.4 2.6l1.4 3.3l1.5 2.9l2.8 4.1l2.9 2.7l2.8 .6l2.9 1.1l2.9 -.1l2.8 .9l4.3 2.1l4.3 .2l4.3 .8l4.3 .6l4.3 -.3l4.3 .7l4.3 0l4.3 .5l4.3 .9l4.3 .1l4.3 .7l4.3 -.2l4.3 0l4.3 .4l4.3 .1l4.3 .2l4.3 .5l4.3 0l4.3 .5l4.3 0l4.3 .8l4.3 .2l4.2 0l4.3 .6l4.3 .3l7.2 .4" stroke="#965858"/>
<path d="M507.4 111.6l1.4 10.3l1.5 9.7l1.4 8.9l1.4 9.1l1.5 9.1l1.4 6.6l1.4 4.8l1.5 4.4l2.8 5l2.9 3.1l2.8 2.2l2.9 1.9l2.9 1.7l2.8 1.2l4.3 1.3l4.3 .9l4.3 .9l4.3 1.3l4.3 .9l4.3 .6l4.3 1.8l4.3 1.1l4.3 .9l4.3 .6l4.3 .5l4.3 .6l4.3 .8l4.3 -.1l4.3 .2l4.3 1.3l4.3 .2l4.3 .8l4.3 -.8l4.3 .6l4.3 .5l4.3 .1l4.2 .4l4.3 .2l4.3 -.7l7.2 .4" stroke="#cc2727"/>
<path d="M507.4 119.1l1.4 8.8l1.5 9.3l1.4 7.6l1.4 7.6l1.5 6.9l1.4 6.8l1.4 4.9l1.5 4.2l2.8 6.4l2.9 2.9l2.8 2.6l2.9 2.3l2.9 1.6l2.8 .9l4.3 1.1l4.3 1.2l4.3 .7l4.3 .5l4.3 1.8l4.3 1.1l4.3 1.2l4.3 .6l4.3 0l4.3 .4l4.3 1.1l4.3 .7l4.3 0l4.3 .7l4.3 .5l4.3 .3l4.3 1.2l4.3 -.2l4.3 .2l4.3 0l4.3 .8l4.3 .6l4.2 .4l4.3 -.1l4.3 .1l7.2 .3" stroke="#d42222"/>
<path d="M507.4 102.2l1.4 4.5l1.5 5.5l1.4 5.4l1.4 4.2l1.5 5.2l1.4 4.3l1.4 4.2l1.5 4.9l2.8 8.2l2.9 6.3l2.8 5.2l2.9 3.8l2.9 2.7l2.8 1.4l4.3 2.3l4.3 1.5l4.3 1.3l4.3 1.5l4.3 -.1l4.3 1.7l4.3 .6l4.3 0l4.3 1l4.3 -.2l4.3 -.3l4.3 .7l4.3 .1l4.3 .8l4.3 -.1l4.3 .1l4.3 .1l4.3 -.4l4.3 .1l4.3 -.3l4.3 .1l4.3 1l4.2 .1l4.3 0l4.3 .9l7.2 -.4" stroke="#906060"/>
</g>
<rect x="507.4" y="36.5" width="143.2" height="178.1" fill="none" stroke="#808080" stroke-width="1.1"/>
<path d="M507.4 36.5v-1.8M507.4 214.6v1.8M536.0 36.5v-1.8M536.0 214.6v1.8M564.7 36.5v-1.8M564.7 214.6v1.8M593.3 36.5v-1.8M593.3 214.6v1.8M622.0 36.5v-1.8M622.0 214.6v1.8M650.6 36.5v-1.8M650.6 214.6v1.8M507.4 205.23h-1.8M650.6 205.23h1.8M507.4 186.48h-1.8M650.6 186.48h1.8M507.4 167.73h-1.8M650.6 167.73h1.8M507.4 148.98h-1.8M650.6 148.98h1.8M507.4 130.24h-1.8M650.6 130.24h1.8M507.4 111.49h-1.8M650.6 111.49h1.8M507.4 92.74h-1.8M650.6 92.74h1.8M507.4 73.99h-1.8M650.6 73.99h1.8M507.4 55.25h-1.8M650.6 55.25h1.8M507.4 36.50h-1.8M650.6 36.50h1.8" stroke="#808080" stroke-width="1.0"/>
<text x="507.4" y="224.8" font-size="7.80" text-anchor="middle" textLength="4.7" lengthAdjust="spacingAndGlyphs">0</text>
<text x="536.0" y="224.8" font-size="7.80" text-anchor="middle" textLength="9.4" lengthAdjust="spacingAndGlyphs">10</text>
<text x="564.7" y="224.8" font-size="7.80" text-anchor="middle" textLength="9.4" lengthAdjust="spacingAndGlyphs">20</text>
<text x="593.3" y="224.8" font-size="7.80" text-anchor="middle" textLength="9.4" lengthAdjust="spacingAndGlyphs">30</text>
<text x="622.0" y="224.8" font-size="7.80" text-anchor="middle" textLength="9.4" lengthAdjust="spacingAndGlyphs">40</text>
<text x="650.6" y="224.8" font-size="7.80" text-anchor="middle" textLength="9.4" lengthAdjust="spacingAndGlyphs">50</text>
<text x="654.4" y="209.0" font-size="7.80" textLength="10.8" lengthAdjust="spacingAndGlyphs">−8</text>
<text x="654.4" y="190.3" font-size="7.80" textLength="10.8" lengthAdjust="spacingAndGlyphs">−6</text>
<text x="654.4" y="171.5" font-size="7.80" textLength="10.8" lengthAdjust="spacingAndGlyphs">−4</text>
<text x="654.4" y="152.8" font-size="7.80" textLength="10.8" lengthAdjust="spacingAndGlyphs">−2</text>
<text x="654.4" y="134.0" font-size="7.80" textLength="4.7" lengthAdjust="spacingAndGlyphs">0</text>
<text x="654.4" y="115.3" font-size="7.80" textLength="4.7" lengthAdjust="spacingAndGlyphs">2</text>
<text x="654.4" y="96.5" font-size="7.80" textLength="4.7" lengthAdjust="spacingAndGlyphs">4</text>
<text x="654.4" y="77.8" font-size="7.80" textLength="4.7" lengthAdjust="spacingAndGlyphs">6</text>
<text x="654.4" y="59.0" font-size="7.80" textLength="4.7" lengthAdjust="spacingAndGlyphs">8</text>
<text x="654.4" y="40.3" font-size="7.80" textLength="9.4" lengthAdjust="spacingAndGlyphs">10</text>
<text x="510.4" y="45.5" font-size="7.80" textLength="10.4" lengthAdjust="spacingAndGlyphs">(d)</text>
<rect x="34.3" y="232.6" width="143.2" height="178.1" fill="#fff"/>
<rect x="34.3" y="331.02" width="143.2" height="14.06" fill="#f4fcd0"/>
<line x1="34.3" y1="326.34" x2="177.5" y2="326.34" stroke="#1a1a1a" stroke-width="1.0" stroke-dasharray="2.6 1.5"/>
<g clip-path="url(#ke)" fill="none" stroke-width="1" stroke-linejoin="round">
<path d="M34.3 266.3l1.4 0l1.5 .1l1.4 0l1.4 -.1l1.5 .1l1.4 -.1l1.4 .5l1.5 -.4l2.8 .2l2.9 .3l2.8 .1l2.9 0l2.9 -.3l2.8 .1l4.3 -.3l4.3 .1l4.3 -.6l4.3 -.1l4.3 -.4l4.3 .3l4.3 -.2l4.3 .3l4.3 -.2l4.3 -.1l4.3 .4l4.3 .1l4.3 .2l4.3 .2l4.3 0l4.3 0l4.3 .1l4.3 -.2l4.3 -.3l4.3 .2l4.3 -.1l4.3 -.2l4.2 0l4.3 0l4.3 -.3l7.2 -.3" stroke="#1612ff"/>
<path d="M34.3 265.4l1.4 0l1.5 -.4l1.4 -.4l1.4 .3l1.5 .1l1.4 -.2l1.4 .3l1.5 -.1l2.8 0l2.9 .2l2.8 .1l2.9 .3l2.9 .1l2.8 .3l4.3 -.7l4.3 -.4l4.3 -.3l4.3 0l4.3 -.1l4.3 -.2l4.3 -.1l4.3 -.1l4.3 .4l4.3 -.1l4.3 .2l4.3 .3l4.3 .2l4.3 -.1l4.3 -.3l4.3 .3l4.3 -.5l4.3 -.3l4.3 .1l4.3 .2l4.3 0l4.3 -.2l4.2 .1l4.3 .3l4.3 -.2l7.2 .5" stroke="#1612ff"/>
<path d="M34.3 264.5l1.4 -.4l1.5 0l1.4 -.2l1.4 -.1l1.5 -.1l1.4 .1l1.4 .3l1.5 .1l2.8 0l2.9 -.4l2.8 -.4l2.9 -.1l2.9 .4l2.8 .2l4.3 0l4.3 -.5l4.3 0l4.3 0l4.3 .2l4.3 -.3l4.3 -.1l4.3 0l4.3 0l4.3 -.6l4.3 .2l4.3 -.5l4.3 -.3l4.3 .2l4.3 -.2l4.3 .2l4.3 .3l4.3 0l4.3 .3l4.3 -.3l4.3 0l4.3 -.2l4.2 -.3l4.3 .9l4.3 -.3l7.2 .3" stroke="#1612ff"/>
<path d="M34.3 266.8l1.4 -.1l1.5 -.9l1.4 -.7l1.4 0l1.5 -1l1.4 -.7l1.4 -.4l1.5 -.4l2.8 -2.2l2.9 -.6l2.8 0l2.9 -.4l2.9 -.6l2.8 -.6l4.3 -.8l4.3 -.4l4.3 -.8l4.3 -.4l4.3 0l4.3 -.2l4.3 -.4l4.3 -.7l4.3 -.5l4.3 -.1l4.3 -.2l4.3 -.3l4.3 -.8l4.3 .2l4.3 -.1l4.3 -.3l4.3 .4l4.3 -.1l4.3 -.1l4.3 .2l4.3 -.2l4.3 -.4l4.2 -.3l4.3 .2l4.3 0l7.2 -.7" stroke="#cea0fa"/>
<path d="M34.3 265.3l1.4 -.6l1.5 -.7l1.4 -.9l1.4 -.2l1.5 -.5l1.4 -.3l1.4 -.2l1.5 -.4l2.8 -.4l2.9 -.9l2.8 -1.2l2.9 -1l2.9 -.7l2.8 0l4.3 -1l4.3 -.1l4.3 -.4l4.3 -.9l4.3 .2l4.3 -.6l4.3 -.2l4.3 -.1l4.3 .1l4.3 -.3l4.3 0l4.3 -.5l4.3 -.4l4.3 .4l4.3 .1l4.3 0l4.3 .2l4.3 .2l4.3 -.2l4.3 -.1l4.3 .3l4.3 0l4.2 -.4l4.3 .2l4.3 .1l7.2 -.7" stroke="#9678fa"/>
<path d="M34.3 264.7l1.4 -.4l1.5 -.2l1.4 -.7l1.4 .7l1.5 .3l1.4 -.1l1.4 -1.1l1.5 -.5l2.8 0l2.9 -1l2.8 -.9l2.9 -.4l2.9 -.3l2.8 -.6l4.3 -1l4.3 -.4l4.3 -.4l4.3 -.2l4.3 0l4.3 .2l4.3 -.3l4.3 -.1l4.3 -.1l4.3 -.5l4.3 -.3l4.3 -.3l4.3 .7l4.3 -.3l4.3 .2l4.3 .2l4.3 .2l4.3 -.6l4.3 -.4l4.3 .3l4.3 .5l4.3 -.2l4.2 .1l4.3 -.8l4.3 .7l7.2 .6" stroke="#cea0fa"/>
<path d="M34.3 264.5l1.4 -.2l1.5 0l1.4 .3l1.4 -.5l1.5 -.7l1.4 -.1l1.4 -.8l1.5 -.1l2.8 -1l2.9 -.3l2.8 .3l2.9 0l2.9 .4l2.8 .3l4.3 -.6l4.3 -.8l4.3 -1.1l4.3 -.1l4.3 0l4.3 .4l4.3 -.6l4.3 -.2l4.3 .2l4.3 -.4l4.3 -.2l4.3 .8l4.3 -.4l4.3 -.1l4.3 .1l4.3 .1l4.3 -.8l4.3 -.5l4.3 -.6l4.3 .8l4.3 .4l4.3 -.3l4.2 .6l4.3 .3l4.3 .6l7.2 -.9" stroke="#1612ff"/>
<path d="M34.3 264.2l1.4 -.1l1.5 -.1l1.4 -.7l1.4 .1l1.5 -.9l1.4 0l1.4 .3l1.5 -1l2.8 -.3l2.9 -.6l2.8 -.1l2.9 .9l2.9 -.8l2.8 .3l4.3 -1.2l4.3 .4l4.3 .5l4.3 -.8l4.3 -.7l4.3 -.4l4.3 .4l4.3 -.9l4.3 .6l4.3 -.1l4.3 0l4.3 -.1l4.3 -.8l4.3 .2l4.3 -.5l4.3 -.5l4.3 .9l4.3 .4l4.3 -.1l4.3 0l4.3 -.4l4.3 .8l4.2 -.8l4.3 -.5l4.3 -.1l7.2 .6" stroke="#1612ff"/>
<path d="M34.3 265.7l1.4 -.9l1.5 -1.4l1.4 0l1.4 -.6l1.5 -1.1l1.4 -.2l1.4 -1.1l1.5 -.2l2.8 -1.3l2.9 -.6l2.8 -.8l2.9 -.8l2.9 -.6l2.8 -.4l4.3 -1.4l4.3 -.4l4.3 0l4.3 -.6l4.3 -.4l4.3 -.5l4.3 -.6l4.3 .5l4.3 -.3l4.3 -.3l4.3 .2l4.3 .1l4.3 1.1l4.3 .1l4.3 -.7l4.3 .6l4.3 .1l4.3 -.2l4.3 -.3l4.3 -.6l4.3 .7l4.3 0l4.2 -.3l4.3 .4l4.3 0l7.2 -.7" stroke="#cea0fa"/>
<path d="M34.3 288.8l1.4 -.2l1.5 -1.2l1.4 -1.4l1.4 -1l1.5 -1l1.4 -2.2l1.4 -.7l1.5 -.5l2.8 -1.7l2.9 -1.5l2.8 -1.4l2.9 -1.4l2.9 -1.6l2.8 -1.3l4.3 -1.2l4.3 -1.5l4.3 -1.6l4.3 -1.1l4.3 -1.6l4.3 -1.3l4.3 -.4l4.3 -1l4.3 -1.4l4.3 -1.1l4.3 -.4l4.3 -.7l4.3 0l4.3 .2l4.3 -.7l4.3 -.4l4.3 -.5l4.3 -.2l4.3 -.3l4.3 0l4.3 -.4l4.3 -.5l4.2 0l4.3 -.4l4.3 .6l7.2 0" stroke="#1612ff"/>
<path d="M34.3 287.9l1.4 -1.7l1.5 -1.1l1.4 -.9l1.4 -.4l1.5 -1.2l1.4 -1.2l1.4 -.3l1.5 -1.1l2.8 -1.8l2.9 -1.7l2.8 -1l2.9 -1.5l2.9 -.7l2.8 -1.8l4.3 -1.6l4.3 -1l4.3 -1.8l4.3 -1.5l4.3 -.7l4.3 -1.7l4.3 -.2l4.3 -.8l4.3 -1l4.3 .4l4.3 -1l4.3 -.4l4.3 -.4l4.3 0l4.3 -.5l4.3 0l4.3 0l4.3 -.2l4.3 0l4.3 -1l4.3 .3l4.3 -.1l4.2 -.2l4.3 -.3l4.3 -.5l7.2 -.5" stroke="#1612ff"/>
<path d="M34.3 287.0l1.4 -.9l1.5 -1.1l1.4 -1.2l1.4 -1.2l1.5 -.7l1.4 -.2l1.4 -1.6l1.5 -1.1l2.8 -1.6l2.9 -1.5l2.8 -1.1l2.9 -1l2.9 -1.1l2.8 -1.2l4.3 -1.4l4.3 -1.1l4.3 -1.4l4.3 -1.6l4.3 -1l4.3 -1.1l4.3 -.4l4.3 -.9l4.3 -.9l4.3 -.5l4.3 -.2l4.3 -1l4.3 -.4l4.3 -.9l4.3 -.4l4.3 -.7l4.3 -.3l4.3 0l4.3 -.4l4.3 -.3l4.3 -.6l4.3 -.1l4.2 -.2l4.3 -.5l4.3 -.6l7.2 -.4" stroke="#1612ff"/>
<path d="M34.3 286.0l1.4 -1.2l1.5 -1.2l1.4 -1.2l1.4 -.9l1.5 -.8l1.4 -.9l1.4 -1.4l1.5 -.6l2.8 -1.3l2.9 -1.2l2.8 -1.3l2.9 -1.2l2.9 -.7l2.8 -.5l4.3 -1.6l4.3 -.9l4.3 -1.4l4.3 -1.2l4.3 -1.3l4.3 -1.3l4.3 -.7l4.3 -.3l4.3 -.2l4.3 -.3l4.3 -.6l4.3 .2l4.3 -.5l4.3 -.5l4.3 -.6l4.3 -.2l4.3 -.3l4.3 0l4.3 -.1l4.3 .3l4.3 -.4l4.3 -.7l4.2 -.2l4.3 -.2l4.3 .2l7.2 -.5" stroke="#1612ff"/>
<path d="M34.3 283.2l1.4 -1.1l1.5 -.8l1.4 -.6l1.4 -1l1.5 -.7l1.4 -.7l1.4 -.7l1.5 -.6l2.8 -1l2.9 -1.1l2.8 -.8l2.9 -.9l2.9 -.5l2.8 -.3l4.3 -.8l4.3 -.7l4.3 -.8l4.3 -.8l4.3 -.1l4.3 -.5l4.3 .2l4.3 -.2l4.3 -.3l4.3 .2l4.3 0l4.3 -.4l4.3 -.4l4.3 -.2l4.3 -.1l4.3 -.7l4.3 0l4.3 .1l4.3 -.5l4.3 -.1l4.3 .1l4.3 -.3l4.2 0l4.3 -.1l4.3 0l7.2 .3" stroke="#cea0fa"/>
<path d="M34.3 284.2l1.4 -.9l1.5 -.5l1.4 -.6l1.4 -1l1.5 -.6l1.4 -.7l1.4 -.8l1.5 -.6l2.8 -.8l2.9 -1.3l2.8 -1.3l2.9 -1.1l2.9 -1.2l2.8 -.8l4.3 -1.1l4.3 -1.3l4.3 -.6l4.3 -1.1l4.3 -1l4.3 -.6l4.3 -.8l4.3 -.5l4.3 0l4.3 -.5l4.3 -.3l4.3 -.3l4.3 -.2l4.3 -.4l4.3 -.3l4.3 .2l4.3 -.3l4.3 -.2l4.3 .1l4.3 0l4.3 0l4.3 0l4.2 -.2l4.3 -.3l4.3 -.5l7.2 -.3" stroke="#9678fa"/>
<path d="M34.3 322.0l1.4 -.1l1.5 0l1.4 .2l1.4 .2l1.5 0l1.4 .4l1.4 -.3l1.5 -.1l2.8 -.1l2.9 -.2l2.8 -.2l2.9 .2l2.9 .1l2.8 .5l4.3 .7l4.3 .5l4.3 -.9l4.3 .5l4.3 -.5l4.3 -.7l4.3 .1l4.3 -.7l4.3 -.6l4.3 -.1l4.3 -.7l4.3 .1l4.3 .6l4.3 .1l4.3 .3l4.3 .6l4.3 .5l4.3 -.9l4.3 .3l4.3 0l4.3 .3l4.3 -.1l4.2 .1l4.3 .1l4.3 .4l7.2 .4" stroke="#1612ff"/>
<path d="M34.3 305.2l1.4 0l1.5 .7l1.4 -.2l1.4 1l1.5 -.2l1.4 -1.2l1.4 -.3l1.5 -.6l2.8 .3l2.9 .7l2.8 .1l2.9 0l2.9 -.8l2.8 -1.1l4.3 .5l4.3 .3l4.3 0l4.3 .2l4.3 .6l4.3 -.3l4.3 -.3l4.3 -.3l4.3 .6l4.3 -.1l4.3 .7l4.3 -.7l4.3 .3l4.3 0l4.3 0l4.3 .1l4.3 .3l4.3 .6l4.3 -1.4l4.3 -.3l4.3 -.2l4.3 -1.2l4.2 .3l4.3 -.2l4.3 .1l7.2 -.5" stroke="#cea0fa"/>
<path d="M34.3 318.9l1.4 -.1l1.5 0l1.4 0l1.4 .7l1.5 -.7l1.4 .1l1.4 -.2l1.5 0l2.8 .3l2.9 -.3l2.8 .4l2.9 -.2l2.9 -.4l2.8 -.5l4.3 -.6l4.3 -.4l4.3 -1.4l4.3 -.3l4.3 .5l4.3 0l4.3 .1l4.3 -.2l4.3 0l4.3 .2l4.3 -1.1l4.3 -.2l4.3 .1l4.3 0l4.3 0l4.3 -.8l4.3 -.2l4.3 -.5l4.3 1.6l4.3 -.3l4.3 -.7l4.3 -.9l4.2 .2l4.3 .9l4.3 -.3l7.2 .2" stroke="#1612ff"/>
<path d="M34.3 285.7l1.4 -2l1.5 1.3l1.4 .2l1.4 1.2l1.5 -1.2l1.4 -.3l1.4 -.5l1.5 .1l2.8 .3l2.9 0l2.8 1.7l2.9 -.9l2.9 -.8l2.8 .5l4.3 .1l4.3 -.2l4.3 -1.1l4.3 -.1l4.3 .3l4.3 .7l4.3 1.4l4.3 .3l4.3 -.2l4.3 0l4.3 -.2l4.3 -.7l4.3 -.3l4.3 -.2l4.3 -.4l4.3 .1l4.3 .2l4.3 -.3l4.3 1.6l4.3 -1.1l4.3 1.2l4.3 -.9l4.2 .1l4.3 -.9l4.3 .2l7.2 .9" stroke="#3c32fa"/>
<path d="M34.3 293.4l1.4 -.3l1.5 .7l1.4 -.1l1.4 -.3l1.5 -1.1l1.4 -.2l1.4 0l1.5 -.6l2.8 0l2.9 -.1l2.8 -.1l2.9 .6l2.9 -.7l2.8 -.3l4.3 0l4.3 .3l4.3 -.4l4.3 -.9l4.3 .3l4.3 .3l4.3 -.4l4.3 .6l4.3 .8l4.3 -.3l4.3 -.1l4.3 -.3l4.3 -.1l4.3 -.5l4.3 -.2l4.3 0l4.3 0l4.3 -.6l4.3 -.6l4.3 -.5l4.3 -.3l4.3 1.7l4.2 .2l4.3 -.1l4.3 -.4l7.2 .5" stroke="#cea0fa"/>
<path d="M34.3 307.9l1.4 -.4l1.5 .2l1.4 .6l1.4 .1l1.5 -.2l1.4 .4l1.4 -1l1.5 .5l2.8 -1.2l2.9 -.5l2.8 .5l2.9 -.2l2.9 -.7l2.8 .2l4.3 .6l4.3 -.2l4.3 -1.2l4.3 .8l4.3 -.4l4.3 0l4.3 0l4.3 .2l4.3 0l4.3 -.6l4.3 -.3l4.3 .5l4.3 -.8l4.3 .7l4.3 -.4l4.3 -.1l4.3 -.6l4.3 0l4.3 -.4l4.3 .2l4.3 -.3l4.3 0l4.2 -.9l4.3 .8l4.3 -.4l7.2 0" stroke="#3c32fa"/>
<path d="M34.3 296.5l1.4 .9l1.5 -1.2l1.4 .2l1.4 -.3l1.5 0l1.4 -.3l1.4 .2l1.5 .2l2.8 0l2.9 -.8l2.8 -.7l2.9 -.6l2.9 .1l2.8 .4l4.3 1.1l4.3 -.4l4.3 -.6l4.3 .4l4.3 -.5l4.3 -.7l4.3 .2l4.3 -.5l4.3 .1l4.3 1.4l4.3 .2l4.3 .2l4.3 -.4l4.3 .5l4.3 .1l4.3 .5l4.3 -.3l4.3 -.2l4.3 -.8l4.3 -.5l4.3 0l4.3 -.1l4.2 .1l4.3 0l4.3 -.9l7.2 1.8" stroke="#9678fa"/>
<path d="M34.3 290.9l1.4 .1l1.5 .8l1.4 -.2l1.4 .2l1.5 -.8l1.4 .1l1.4 -1.4l1.5 -.2l2.8 .2l2.9 0l2.8 .4l2.9 -.7l2.9 -1.1l2.8 .1l4.3 -.7l4.3 .5l4.3 -.3l4.3 -1.4l4.3 1l4.3 -.7l4.3 -.6l4.3 1.3l4.3 .8l4.3 .4l4.3 -.8l4.3 .1l4.3 0l4.3 -.5l4.3 -.1l4.3 -.2l4.3 .2l4.3 -.6l4.3 .5l4.3 -.9l4.3 .3l4.3 .6l4.2 -.4l4.3 -.1l4.3 1.2l7.2 -.3" stroke="#1612ff"/>
<path d="M34.3 299.3l1.4 -1.1l1.5 .1l1.4 .5l1.4 .4l1.5 .2l1.4 -.4l1.4 -.3l1.5 -.7l2.8 -.3l2.9 -.3l2.8 -.3l2.9 -.1l2.9 -.3l2.8 -.6l4.3 -.5l4.3 .2l4.3 .7l4.3 0l4.3 -.5l4.3 .9l4.3 -.3l4.3 -.7l4.3 -.1l4.3 .2l4.3 -1.3l4.3 -.9l4.3 .1l4.3 -.7l4.3 -.6l4.3 .7l4.3 -1.3l4.3 .7l4.3 .2l4.3 .6l4.3 -.1l4.3 .6l4.2 -.2l4.3 -.7l4.3 -.2l7.2 .1" stroke="#1612ff"/>
<path d="M34.3 309.2l1.4 -.1l1.5 0l1.4 .4l1.4 .1l1.5 -.2l1.4 0l1.4 .4l1.5 .2l2.8 .1l2.9 -.1l2.8 -.3l2.9 -.1l2.9 .2l2.8 -.1l4.3 .5l4.3 1l4.3 -.3l4.3 .4l4.3 0l4.3 .1l4.3 -.7l4.3 .3l4.3 -.4l4.3 -.1l4.3 .3l4.3 .4l4.3 -.5l4.3 -.4l4.3 -.5l4.3 -.8l4.3 0l4.3 -.1l4.3 .2l4.3 0l4.3 .3l4.3 .4l4.2 -.9l4.3 .9l4.3 -.2l7.2 -.2" stroke="#1612ff"/>
<path d="M34.3 293.1l1.4 .2l1.5 .2l1.4 -.4l1.4 .5l1.5 -.3l1.4 .3l1.4 -.3l1.5 -.1l2.8 -.2l2.9 .6l2.8 .2l2.9 .3l2.9 -.3l2.8 -.5l4.3 -.6l4.3 .4l4.3 -.1l4.3 .9l4.3 .9l4.3 .1l4.3 0l4.3 .4l4.3 .5l4.3 -.8l4.3 0l4.3 .5l4.3 -1.6l4.3 -.3l4.3 .1l4.3 -.4l4.3 .3l4.3 -.9l4.3 .9l4.3 .6l4.3 -.2l4.3 .2l4.2 -.9l4.3 .8l4.3 .2l7.2 -.4" stroke="#3c32fa"/>
<path d="M34.3 298.2l1.4 -.6l1.5 .1l1.4 0l1.4 .1l1.5 .2l1.4 .3l1.4 0l1.5 .5l2.8 -.8l2.9 .4l2.8 -1.7l2.9 -1.2l2.9 -.6l2.8 .1l4.3 .2l4.3 -.8l4.3 -.2l4.3 -.3l4.3 .3l4.3 -.6l4.3 .4l4.3 -.2l4.3 .8l4.3 .1l4.3 -.6l4.3 .1l4.3 0l4.3 -.7l4.3 -.1l4.3 -.7l4.3 1.3l4.3 -.6l4.3 -.4l4.3 .8l4.3 .4l4.3 -.8l4.2 .4l4.3 .1l4.3 -.6l7.2 0" stroke="#1612ff"/>
<path d="M34.3 320.1l1.4 -.3l1.5 .1l1.4 .7l1.4 -.8l1.5 1.1l1.4 -1.1l1.4 .5l1.5 -.8l2.8 .3l2.9 1l2.8 0l2.9 -.2l2.9 -.2l2.8 -.5l4.3 .8l4.3 -.2l4.3 -.2l4.3 .3l4.3 .7l4.3 .6l4.3 -.6l4.3 -.4l4.3 .6l4.3 .7l4.3 -.8l4.3 .9l4.3 -.2l4.3 .3l4.3 .8l4.3 -.4l4.3 -.1l4.3 -1l4.3 -1.3l4.3 .4l4.3 -.4l4.3 -.4l4.2 .7l4.3 .7l4.3 -.9l7.2 .5" stroke="#1612ff"/>
<path d="M34.3 308.5l1.4 .1l1.5 .6l1.4 -.3l1.4 .6l1.5 -.1l1.4 -1.1l1.4 -1.6l1.5 -.1l2.8 .6l2.9 -.6l2.8 1.2l2.9 0l2.9 -1.2l2.8 -.6l4.3 .7l4.3 .6l4.3 -.9l4.3 -.3l4.3 .1l4.3 -.5l4.3 .2l4.3 .8l4.3 -.8l4.3 .1l4.3 .3l4.3 .4l4.3 -.6l4.3 .1l4.3 -.7l4.3 -.1l4.3 -.8l4.3 .1l4.3 .3l4.3 1l4.3 .3l4.3 -.8l4.2 -2.1l4.3 .9l4.3 .6l7.2 -.4" stroke="#1612ff"/>
<path d="M34.3 300.9l1.4 -1l1.5 .1l1.4 0l1.4 -.3l1.5 -.6l1.4 -.3l1.4 .4l1.5 -.2l2.8 -.7l2.9 .2l2.8 .5l2.9 -.5l2.9 -.4l2.8 -.7l4.3 -.2l4.3 .2l4.3 .1l4.3 .3l4.3 .2l4.3 -.1l4.3 0l4.3 -.9l4.3 .5l4.3 -.2l4.3 0l4.3 -.9l4.3 -.2l4.3 .2l4.3 -.4l4.3 0l4.3 .2l4.3 -.7l4.3 -.3l4.3 -.6l4.3 -.3l4.3 0l4.2 .3l4.3 .8l4.3 -.2l7.2 .2" stroke="#1612ff"/>
<path d="M34.3 307.2l1.4 .2l1.5 -.3l1.4 -.8l1.4 .7l1.5 .3l1.4 .6l1.4 -.8l1.5 -.1l2.8 .3l2.9 1l2.8 -.1l2.9 -.8l2.9 .2l2.8 .1l4.3 -.4l4.3 .7l4.3 -.2l4.3 -.5l4.3 .5l4.3 .4l4.3 -.4l4.3 0l4.3 0l4.3 -.2l4.3 -.2l4.3 .5l4.3 .2l4.3 -.4l4.3 -.8l4.3 -.7l4.3 .7l4.3 -.6l4.3 -.3l4.3 .3l4.3 -.1l4.3 -.3l4.2 -.8l4.3 1.1l4.3 -.2l7.2 .3" stroke="#1612ff"/>
<path d="M34.3 295.3l1.4 1l1.5 -.7l1.4 0l1.4 -.1l1.5 -.2l1.4 -1.1l1.4 .3l1.5 .5l2.8 -1l2.9 .7l2.8 .6l2.9 1l2.9 -.8l2.8 -.1l4.3 -.1l4.3 0l4.3 .3l4.3 .6l4.3 .5l4.3 -.4l4.3 -.1l4.3 -1l4.3 .7l4.3 .4l4.3 .7l4.3 -1.1l4.3 .9l4.3 -.6l4.3 -.9l4.3 .3l4.3 -.3l4.3 1.6l4.3 .2l4.3 .9l4.3 -.4l4.3 -.2l4.2 .3l4.3 -.9l4.3 -.3l7.2 .3" stroke="#1612ff"/>
<path d="M34.3 292.5l1.4 .4l1.5 -.8l1.4 -.4l1.4 .3l1.5 1.4l1.4 .2l1.4 -1.3l1.5 .1l2.8 -.6l2.9 .3l2.8 1.4l2.9 -.8l2.9 -.5l2.8 .3l4.3 0l4.3 -.5l4.3 .2l4.3 -.5l4.3 -.1l4.3 1.7l4.3 -.4l4.3 0l4.3 .2l4.3 -.8l4.3 0l4.3 -.8l4.3 -1.1l4.3 -.1l4.3 1.2l4.3 .4l4.3 -1.1l4.3 .1l4.3 .5l4.3 -.2l4.3 -.6l4.3 -.3l4.2 -.5l4.3 .7l4.3 .1l7.2 .1" stroke="#9678fa"/>
<path d="M34.3 318.3l1.4 -1.2l1.5 -.5l1.4 .2l1.4 -.6l1.5 .1l1.4 -.4l1.4 .4l1.5 .2l2.8 -.7l2.9 -1.3l2.8 -.1l2.9 -1.4l2.9 -1.4l2.8 1.1l4.3 0l4.3 .5l4.3 -.1l4.3 .1l4.3 -.1l4.3 -.8l4.3 -.5l4.3 -.1l4.3 0l4.3 0l4.3 -.1l4.3 -.3l4.3 .1l4.3 -.2l4.3 .8l4.3 -.5l4.3 -.9l4.3 .1l4.3 .9l4.3 -.7l4.3 .3l4.3 1.7l4.2 -.1l4.3 -.6l4.3 -.4l7.2 -.7" stroke="#1612ff"/>
<path d="M34.3 294.3l1.4 .3l1.5 .1l1.4 -.5l1.4 .6l1.5 .5l1.4 -.4l1.4 -.5l1.5 -.1l2.8 .5l2.9 -.6l2.8 .1l2.9 -.9l2.9 -.4l2.8 -.4l4.3 -.7l4.3 -.1l4.3 -.6l4.3 -.8l4.3 -.2l4.3 -.7l4.3 .4l4.3 -.4l4.3 -.1l4.3 .5l4.3 -.1l4.3 .2l4.3 .1l4.3 -.2l4.3 -.6l4.3 .2l4.3 -.2l4.3 .7l4.3 -.3l4.3 -.6l4.3 -.4l4.3 -.1l4.2 .3l4.3 .5l4.3 -.1l7.2 .5" stroke="#1612ff"/>
<path d="M34.3 290.4l1.4 .4l1.5 -.2l1.4 .3l1.4 -.3l1.5 -.1l1.4 0l1.4 -.4l1.5 -.8l2.8 .2l2.9 -.6l2.8 0l2.9 -.1l2.9 -1l2.8 1l4.3 .1l4.3 .6l4.3 -.2l4.3 -.3l4.3 -1.9l4.3 -.1l4.3 -.7l4.3 -.4l4.3 .4l4.3 -.1l4.3 -.5l4.3 .1l4.3 .1l4.3 0l4.3 .8l4.3 .3l4.3 -.2l4.3 -.3l4.3 .4l4.3 0l4.3 0l4.3 -.1l4.2 -.4l4.3 -.1l4.3 0l7.2 .5" stroke="#1612ff"/>
<path d="M34.3 322.4l1.4 -.5l1.5 .4l1.4 .4l1.4 .2l1.5 -.3l1.4 -2l1.4 1.5l1.5 -.2l2.8 0l2.9 -.9l2.8 .1l2.9 1.4l2.9 -1.3l2.8 .5l4.3 -.4l4.3 .6l4.3 .2l4.3 -.2l4.3 -1.1l4.3 -.9l4.3 .3l4.3 -.6l4.3 .1l4.3 -.2l4.3 -.2l4.3 -.5l4.3 .4l4.3 0l4.3 -.2l4.3 -.1l4.3 .4l4.3 -1.2l4.3 .4l4.3 -.4l4.3 -.1l4.3 -.6l4.2 1.6l4.3 -1.4l4.3 .3l7.2 .9" stroke="#1612ff"/>
<path d="M34.3 316.6l1.4 .7l1.5 -.1l1.4 0l1.4 -1.5l1.5 .2l1.4 -.8l1.4 .6l1.5 .4l2.8 -.7l2.9 -.4l2.8 1l2.9 -.6l2.9 -.5l2.8 .4l4.3 -.3l4.3 -.3l4.3 .2l4.3 .2l4.3 .2l4.3 -.1l4.3 .5l4.3 -.3l4.3 .5l4.3 -.4l4.3 -.3l4.3 .3l4.3 -.9l4.3 -1.2l4.3 -.7l4.3 .9l4.3 -.7l4.3 0l4.3 .2l4.3 .4l4.3 0l4.3 -.8l4.2 -.1l4.3 .4l4.3 .5l7.2 .2" stroke="#1612ff"/>
<path d="M34.3 315.3l1.4 .3l1.5 .5l1.4 -.7l1.4 -.6l1.5 1.2l1.4 .6l1.4 -1.5l1.5 -.5l2.8 -.7l2.9 .4l2.8 .1l2.9 -.6l2.9 .3l2.8 .7l4.3 -.5l4.3 -1.2l4.3 .7l4.3 -1.3l4.3 -.7l4.3 .7l4.3 -.2l4.3 -.1l4.3 -.7l4.3 -.6l4.3 1.2l4.3 1l4.3 -1.3l4.3 -.2l4.3 -.5l4.3 -.3l4.3 -1.3l4.3 1.3l4.3 -1l4.3 .9l4.3 -.6l4.3 -1.1l4.2 1.6l4.3 -.4l4.3 .3l7.2 .3" stroke="#1612ff"/>
<path d="M34.3 294.8l1.4 -.7l1.5 .4l1.4 .9l1.4 -2l1.5 -.8l1.4 0l1.4 .9l1.5 .3l2.8 -.4l2.9 .5l2.8 -1.5l2.9 -.2l2.9 -.4l2.8 .7l4.3 .4l4.3 .1l4.3 -.6l4.3 -.2l4.3 -.2l4.3 -.5l4.3 -.5l4.3 -1.2l4.3 .1l4.3 .7l4.3 -.1l4.3 -1.3l4.3 .5l4.3 -.1l4.3 .3l4.3 -.4l4.3 -.2l4.3 .5l4.3 .1l4.3 -.8l4.3 -.8l4.3 -.5l4.2 -.4l4.3 .6l4.3 .4l7.2 -.5" stroke="#3c32fa"/>
<path d="M34.3 300.4l1.4 .4l1.5 -.7l1.4 .1l1.4 -.2l1.5 -.2l1.4 0l1.4 -1.1l1.5 0l2.8 -.5l2.9 .3l2.8 -.3l2.9 -.3l2.9 -.3l2.8 -.1l4.3 -.6l4.3 -1.3l4.3 -.2l4.3 -.1l4.3 -.1l4.3 -1.5l4.3 -.8l4.3 -.1l4.3 -.2l4.3 .6l4.3 .2l4.3 -.1l4.3 0l4.3 .5l4.3 .3l4.3 -.4l4.3 -.2l4.3 1.1l4.3 -.3l4.3 -.8l4.3 .3l4.3 -.2l4.2 .7l4.3 -.7l4.3 .5l7.2 .5" stroke="#cea0fa"/>
<path d="M34.3 299.8l1.4 -1l1.5 .8l1.4 .8l1.4 0l1.5 -.5l1.4 -.3l1.4 -.7l1.5 .8l2.8 .3l2.9 -.2l2.8 -.7l2.9 -.4l2.9 .1l2.8 .4l4.3 -.7l4.3 -.6l4.3 -1.5l4.3 .3l4.3 -.7l4.3 1l4.3 .4l4.3 .3l4.3 .2l4.3 .3l4.3 .1l4.3 -.2l4.3 0l4.3 -.6l4.3 0l4.3 -.1l4.3 -.9l4.3 -.1l4.3 0l4.3 .1l4.3 0l4.3 -.3l4.2 .6l4.3 -.7l4.3 -.7l7.2 -.4" stroke="#3c32fa"/>
<path d="M34.3 291.4l1.4 0l1.5 -.7l1.4 .2l1.4 -.5l1.5 -.3l1.4 .5l1.4 -.2l1.5 .1l2.8 .2l2.9 .4l2.8 .2l2.9 -.7l2.9 -.2l2.8 -.5l4.3 .1l4.3 -.4l4.3 -.2l4.3 .2l4.3 .2l4.3 -.7l4.3 -.5l4.3 .1l4.3 -.4l4.3 -.5l4.3 -1l4.3 .3l4.3 -.4l4.3 -.9l4.3 .1l4.3 -.5l4.3 1.1l4.3 -.6l4.3 0l4.3 .7l4.3 -.4l4.3 -.5l4.2 -.4l4.3 -.4l4.3 .2l7.2 .3" stroke="#1612ff"/>
<path d="M34.3 324.5l1.4 -.3l1.5 -1.2l1.4 -.9l1.4 .9l1.5 .4l1.4 .7l1.4 .5l1.5 -.5l2.8 .3l2.9 .2l2.8 -.3l2.9 -.7l2.9 0l2.8 -.1l4.3 -.8l4.3 -.4l4.3 -.3l4.3 -.6l4.3 .6l4.3 -.2l4.3 .2l4.3 -.7l4.3 -.4l4.3 .6l4.3 -.8l4.3 .7l4.3 -.7l4.3 0l4.3 .4l4.3 .5l4.3 0l4.3 -.1l4.3 .2l4.3 -.5l4.3 .6l4.3 -.2l4.2 -.2l4.3 .8l4.3 -.5l7.2 .4" stroke="#3c32fa"/>
<path d="M34.3 322.2l1.4 .3l1.5 -1l1.4 -.7l1.4 -.4l1.5 -.5l1.4 .2l1.4 .7l1.5 -.2l2.8 -.4l2.9 .1l2.8 .4l2.9 1l2.9 -.4l2.8 -.2l4.3 .7l4.3 -.2l4.3 -.5l4.3 .1l4.3 -.5l4.3 -.4l4.3 1l4.3 .1l4.3 -.4l4.3 -.5l4.3 -.7l4.3 1.3l4.3 0l4.3 -.5l4.3 -.6l4.3 -.8l4.3 .9l4.3 .3l4.3 .7l4.3 -.5l4.3 .8l4.3 -.8l4.2 -.5l4.3 -.1l4.3 1.4l7.2 .3" stroke="#1612ff"/>
<path d="M34.3 312.4l1.4 -.3l1.5 .1l1.4 -.2l1.4 -.1l1.5 -.6l1.4 0l1.4 -.8l1.5 1.1l2.8 -1.1l2.9 -.1l2.8 -.9l2.9 -.1l2.9 -.6l2.8 -.9l4.3 .4l4.3 -.1l4.3 .1l4.3 -.2l4.3 1l4.3 -.2l4.3 -.1l4.3 .3l4.3 -.2l4.3 .7l4.3 -1.3l4.3 -.4l4.3 -1.2l4.3 .6l4.3 .8l4.3 -.3l4.3 .9l4.3 -.4l4.3 .2l4.3 0l4.3 -.4l4.3 -.2l4.2 -1.3l4.3 -.2l4.3 .9l7.2 -.6" stroke="#1612ff"/>
<path d="M34.3 301.4l1.4 .4l1.5 .2l1.4 0l1.4 -1.1l1.5 .8l1.4 .6l1.4 -.7l1.5 .9l2.8 -.1l2.9 -1.2l2.8 -.2l2.9 .2l2.9 .3l2.8 .3l4.3 0l4.3 -.5l4.3 -1.1l4.3 -.7l4.3 .4l4.3 .4l4.3 -.6l4.3 1.2l4.3 0l4.3 -.1l4.3 .5l4.3 .3l4.3 -.7l4.3 .8l4.3 .1l4.3 -.1l4.3 -.5l4.3 .5l4.3 -1.2l4.3 0l4.3 -.1l4.3 0l4.2 .2l4.3 .4l4.3 -1.1l7.2 -.3" stroke="#1612ff"/>
<path d="M34.3 322.8l1.4 -.7l1.5 1.1l1.4 -.8l1.4 .5l1.5 -.6l1.4 -1.2l1.4 -.4l1.5 .5l2.8 -.1l2.9 0l2.8 .7l2.9 .4l2.9 -.6l2.8 -.8l4.3 .9l4.3 -.5l4.3 -.9l4.3 -.5l4.3 .5l4.3 -1.2l4.3 .7l4.3 -.8l4.3 -1.4l4.3 1.6l4.3 -.4l4.3 -.4l4.3 -.3l4.3 .5l4.3 .1l4.3 .8l4.3 -.4l4.3 -.7l4.3 .4l4.3 .4l4.3 .1l4.3 -.4l4.2 -.3l4.3 -.1l4.3 -.2l7.2 .8" stroke="#1612ff"/>
<path d="M34.3 306.9l1.4 -.4l1.5 -.2l1.4 -.5l1.4 .4l1.5 0l1.4 0l1.4 .5l1.5 -.5l2.8 -.1l2.9 -.2l2.8 .6l2.9 -.3l2.9 .9l2.8 -.1l4.3 1.6l4.3 .4l4.3 -.6l4.3 .2l4.3 -.2l4.3 .8l4.3 -1.1l4.3 -.3l4.3 0l4.3 -.1l4.3 -.1l4.3 -.7l4.3 .1l4.3 1l4.3 .2l4.3 -.7l4.3 -.2l4.3 .4l4.3 -.2l4.3 0l4.3 -.2l4.3 1.1l4.2 .4l4.3 -.5l4.3 .1l7.2 -.2" stroke="#1612ff"/>
<path d="M34.3 304.9l1.4 .6l1.5 .7l1.4 -1l1.4 -.2l1.5 -.7l1.4 -.1l1.4 -.2l1.5 -.3l2.8 -.5l2.9 .5l2.8 -.7l2.9 .3l2.9 -.2l2.8 -1.3l4.3 -.1l4.3 -.8l4.3 .3l4.3 -.2l4.3 0l4.3 -.2l4.3 .5l4.3 .3l4.3 -.3l4.3 .6l4.3 .2l4.3 -.6l4.3 .1l4.3 .1l4.3 .3l4.3 -.4l4.3 -.1l4.3 -.3l4.3 -.2l4.3 -1l4.3 .2l4.3 .9l4.2 -.3l4.3 -.2l4.3 -.2l7.2 .6" stroke="#3c32fa"/>
<path d="M34.3 308.5l1.4 -.8l1.5 .4l1.4 .8l1.4 -.1l1.5 .4l1.4 -.4l1.4 .6l1.5 -.2l2.8 0l2.9 -.2l2.8 .1l2.9 .3l2.9 -.2l2.8 .1l4.3 -.3l4.3 -.1l4.3 1.1l4.3 -.4l4.3 -1.1l4.3 -.3l4.3 -.4l4.3 -.2l4.3 .3l4.3 .7l4.3 -.6l4.3 -.6l4.3 -.2l4.3 -.1l4.3 -.1l4.3 .2l4.3 0l4.3 .1l4.3 -.1l4.3 .6l4.3 .4l4.3 -.4l4.2 .1l4.3 1.3l4.3 -.4l7.2 1.1" stroke="#3c32fa"/>
<path d="M34.3 287.6l1.4 -.2l1.5 .3l1.4 -.3l1.4 -.6l1.5 -.5l1.4 .5l1.4 1l1.5 -.4l2.8 -.1l2.9 -.8l2.8 -1.2l2.9 -1.1l2.9 -.1l2.8 -.6l4.3 -.8l4.3 .2l4.3 -.1l4.3 -.3l4.3 .2l4.3 .4l4.3 .4l4.3 0l4.3 .2l4.3 -.5l4.3 .1l4.3 -.8l4.3 -.5l4.3 .8l4.3 -.5l4.3 .3l4.3 -.6l4.3 -.1l4.3 .2l4.3 -.2l4.3 .5l4.3 -.1l4.2 -.1l4.3 .2l4.3 -.1l7.2 .7" stroke="#1612ff"/>
<path d="M34.3 291.9l1.4 -1.9l1.5 .3l1.4 0l1.4 .5l1.5 -.9l1.4 .3l1.4 -.6l1.5 .7l2.8 -.5l2.9 .1l2.8 -.8l2.9 0l2.9 .3l2.8 -.5l4.3 .4l4.3 .1l4.3 -.9l4.3 .7l4.3 -.9l4.3 -.1l4.3 .1l4.3 -.5l4.3 -.7l4.3 .1l4.3 -.1l4.3 -.7l4.3 -.5l4.3 0l4.3 .4l4.3 .4l4.3 .1l4.3 -.6l4.3 -.5l4.3 -.2l4.3 -.8l4.3 .3l4.2 .3l4.3 .2l4.3 -1.1l7.2 1.3" stroke="#3c32fa"/>
<path d="M34.3 288.5l1.4 .5l1.5 -.5l1.4 .1l1.4 -.1l1.5 -.3l1.4 .3l1.4 -.6l1.5 -1l2.8 -.6l2.9 .1l2.8 1.3l2.9 -.8l2.9 -.6l2.8 .2l4.3 .3l4.3 -.5l4.3 .5l4.3 -.6l4.3 .7l4.3 .4l4.3 -.3l4.3 .7l4.3 -.4l4.3 -.6l4.3 .6l4.3 -.9l4.3 .2l4.3 -.6l4.3 -.2l4.3 .2l4.3 .2l4.3 .9l4.3 .1l4.3 .1l4.3 -1.4l4.3 -.8l4.2 .9l4.3 -.7l4.3 -.2l7.2 .2" stroke="#1612ff"/>
<path d="M34.3 307.9l1.4 -.1l1.5 .2l1.4 .6l1.4 .7l1.5 -.5l1.4 -.8l1.4 -.2l1.5 .8l2.8 -.6l2.9 0l2.8 -.4l2.9 -.8l2.9 1.2l2.8 .3l4.3 .6l4.3 .8l4.3 -1.9l4.3 -.5l4.3 1.9l4.3 -.4l4.3 .6l4.3 -1l4.3 .1l4.3 .3l4.3 0l4.3 -.2l4.3 .1l4.3 .3l4.3 .2l4.3 -.4l4.3 1.1l4.3 -.1l4.3 .1l4.3 .3l4.3 -.8l4.3 1.2l4.2 .1l4.3 .5l4.3 -.8l7.2 .2" stroke="#1612ff"/>
<path d="M34.3 297.7l1.4 0l1.5 -.4l1.4 -.3l1.4 -.8l1.5 .2l1.4 .4l1.4 .4l1.5 -.3l2.8 -.7l2.9 .1l2.8 .4l2.9 0l2.9 0l2.8 .1l4.3 .4l4.3 1.2l4.3 0l4.3 -.8l4.3 -.2l4.3 1l4.3 -.3l4.3 .6l4.3 -1.3l4.3 -.2l4.3 .5l4.3 -.5l4.3 .3l4.3 -.4l4.3 -.1l4.3 .5l4.3 -.4l4.3 .6l4.3 -.9l4.3 0l4.3 .5l4.3 .8l4.2 -1.1l4.3 -.8l4.3 .8l7.2 -.9" stroke="#1612ff"/>
<path d="M34.3 298.9l1.4 .9l1.5 -1.4l1.4 -.5l1.4 .6l1.5 .1l1.4 .4l1.4 -.2l1.5 -.4l2.8 -.3l2.9 .1l2.8 .3l2.9 -.7l2.9 -.1l2.8 -1.3l4.3 .5l4.3 -.5l4.3 .1l4.3 .4l4.3 -.8l4.3 0l4.3 .5l4.3 .1l4.3 -.6l4.3 .7l4.3 -.8l4.3 -.3l4.3 .2l4.3 -.6l4.3 -.7l4.3 0l4.3 .2l4.3 -.6l4.3 -.4l4.3 .9l4.3 .4l4.3 .3l4.2 .4l4.3 .8l4.3 -.6l7.2 0" stroke="#9678fa"/>
<path d="M34.3 324.8l1.4 -.1l1.5 -.5l1.4 -.1l1.4 -.7l1.5 .4l1.4 -.2l1.4 .7l1.5 -.2l2.8 .1l2.9 -1.1l2.8 -.5l2.9 -.4l2.9 -.9l2.8 -.6l4.3 -.3l4.3 .5l4.3 .8l4.3 -.2l4.3 .1l4.3 .1l4.3 -.1l4.3 .6l4.3 -1.1l4.3 .5l4.3 0l4.3 -.5l4.3 .6l4.3 -.8l4.3 -.6l4.3 .1l4.3 .5l4.3 0l4.3 .8l4.3 -1.1l4.3 -.1l4.3 .2l4.2 .3l4.3 -.5l4.3 -.9l7.2 .7" stroke="#1612ff"/>
<path d="M34.3 307.0l1.4 0l1.5 .2l1.4 -.7l1.4 .7l1.5 -.7l1.4 -.3l1.4 .1l1.5 .3l2.8 -1l2.9 -1.3l2.8 .2l2.9 -.4l2.9 -1l2.8 .5l4.3 0l4.3 .5l4.3 -.2l4.3 -.2l4.3 0l4.3 .1l4.3 .5l4.3 .3l4.3 0l4.3 -.9l4.3 -.1l4.3 0l4.3 -.7l4.3 -.6l4.3 .2l4.3 .1l4.3 -.6l4.3 -.3l4.3 .3l4.3 -.3l4.3 -.1l4.3 -.7l4.2 .5l4.3 -.6l4.3 -.2l7.2 .6" stroke="#9678fa"/>
<path d="M34.3 284.9l1.4 -.2l1.5 -.6l1.4 -.4l1.4 -.1l1.5 -.7l1.4 -.2l1.4 -.6l1.5 -1.1l2.8 0l2.9 1l2.8 -.1l2.9 .2l2.9 -.4l2.8 -.3l4.3 .1l4.3 .1l4.3 -.3l4.3 -.3l4.3 .7l4.3 -.9l4.3 -.3l4.3 -.3l4.3 -.3l4.3 .2l4.3 -.2l4.3 -.6l4.3 -.5l4.3 -.1l4.3 .1l4.3 .4l4.3 -.6l4.3 -.2l4.3 .3l4.3 .9l4.3 .2l4.3 .6l4.2 -.8l4.3 -.3l4.3 .2l7.2 0" stroke="#1612ff"/>
<path d="M34.3 286.5l1.4 -.3l1.5 -1.4l1.4 -.8l1.4 .2l1.5 .4l1.4 -.1l1.4 -.5l1.5 .8l2.8 .8l2.9 -1.4l2.8 -.3l2.9 -1l2.9 -.1l2.8 -.8l4.3 .4l4.3 -.3l4.3 -.8l4.3 -.4l4.3 .4l4.3 -.3l4.3 .5l4.3 .8l4.3 -.4l4.3 -.8l4.3 -.4l4.3 .8l4.3 -.4l4.3 -.3l4.3 .3l4.3 1.4l4.3 -.8l4.3 -.5l4.3 -.2l4.3 .9l4.3 .7l4.3 -.8l4.2 -.5l4.3 -.3l4.3 .2l7.2 -.2" stroke="#1612ff"/>
<path d="M34.3 310.3l1.4 -.6l1.5 .3l1.4 -1.1l1.4 .6l1.5 -.4l1.4 -.7l1.4 -.6l1.5 1.2l2.8 -.8l2.9 -.8l2.8 -.8l2.9 1.2l2.9 .1l2.8 -.2l4.3 -.2l4.3 -1l4.3 .2l4.3 -.9l4.3 -.4l4.3 .7l4.3 .3l4.3 -.1l4.3 -.3l4.3 -.8l4.3 0l4.3 -.6l4.3 .8l4.3 1.4l4.3 -.3l4.3 -.7l4.3 -.1l4.3 .2l4.3 -.5l4.3 -1.3l4.3 .1l4.3 .4l4.2 .3l4.3 -1.2l4.3 .1l7.2 -.3" stroke="#3c32fa"/>
<path d="M34.3 305.4l1.4 -.5l1.5 .3l1.4 0l1.4 .2l1.5 -.5l1.4 .3l1.4 -.3l1.5 .5l2.8 -.2l2.9 0l2.8 -.1l2.9 -.3l2.9 0l2.8 -.1l4.3 .8l4.3 -.8l4.3 .1l4.3 -.2l4.3 .2l4.3 -.7l4.3 .3l4.3 -.4l4.3 -.6l4.3 -.7l4.3 -.4l4.3 0l4.3 .7l4.3 -.4l4.3 -.4l4.3 -.1l4.3 -.1l4.3 .2l4.3 .5l4.3 -.4l4.3 -.3l4.3 .7l4.2 -.3l4.3 .1l4.3 -.2l7.2 0" stroke="#1612ff"/>
<path d="M34.3 291.1l1.4 .6l1.5 -.6l1.4 .7l1.4 -.9l1.5 -1.1l1.4 .4l1.4 -.6l1.5 -.2l2.8 -.3l2.9 .9l2.8 -.5l2.9 -.1l2.9 -.4l2.8 0l4.3 -.6l4.3 -.1l4.3 -.3l4.3 -.7l4.3 .2l4.3 -.3l4.3 .1l4.3 0l4.3 .6l4.3 -.3l4.3 -.6l4.3 .4l4.3 -.2l4.3 0l4.3 .9l4.3 -.1l4.3 -.7l4.3 .5l4.3 1.3l4.3 -.3l4.3 .3l4.3 -1.2l4.2 .1l4.3 .1l4.3 .5l7.2 -.2" stroke="#1612ff"/>
<path d="M34.3 315.0l1.4 -.1l1.5 .2l1.4 .5l1.4 -1.2l1.5 1l1.4 -1.1l1.4 .6l1.5 -.3l2.8 -1.5l2.9 1.1l2.8 .4l2.9 -1l2.9 -.2l2.8 .1l4.3 -.2l4.3 .3l4.3 -.3l4.3 -.9l4.3 .2l4.3 -.1l4.3 -.7l4.3 -.9l4.3 .6l4.3 0l4.3 .5l4.3 .4l4.3 .2l4.3 .2l4.3 .8l4.3 .7l4.3 0l4.3 -.5l4.3 -.9l4.3 .1l4.3 0l4.3 -.5l4.2 -.4l4.3 .1l4.3 0l7.2 -.9" stroke="#1612ff"/>
<path d="M34.3 290.4l1.4 -.1l1.5 -.7l1.4 -.7l1.4 -1l1.5 .8l1.4 -1l1.4 .1l1.5 .1l2.8 0l2.9 0l2.8 0l2.9 1.1l2.9 -.9l2.8 -.4l4.3 .1l4.3 -.4l4.3 -1.7l4.3 -.3l4.3 .2l4.3 -1.1l4.3 .5l4.3 .1l4.3 .3l4.3 0l4.3 -.5l4.3 -.4l4.3 .5l4.3 0l4.3 -.1l4.3 .2l4.3 -.1l4.3 .3l4.3 .3l4.3 -.2l4.3 .4l4.3 -.5l4.2 0l4.3 .4l4.3 .1l7.2 0" stroke="#1612ff"/>
<path d="M34.3 316.4l1.4 -.1l1.5 -.4l1.4 -.1l1.4 .1l1.5 0l1.4 -1l1.4 -.2l1.5 -.2l2.8 .4l2.9 0l2.8 -.8l2.9 .2l2.9 -.2l2.8 -.2l4.3 .1l4.3 -.3l4.3 .2l4.3 .1l4.3 .6l4.3 -.9l4.3 .2l4.3 .2l4.3 -.3l4.3 .5l4.3 .2l4.3 .5l4.3 0l4.3 .2l4.3 -.2l4.3 .1l4.3 .3l4.3 .1l4.3 0l4.3 .1l4.3 -.4l4.3 -.3l4.2 0l4.3 .5l4.3 -.2l7.2 .5" stroke="#9678fa"/>
<path d="M34.3 310.0l1.4 .2l1.5 -1.5l1.4 .1l1.4 .1l1.5 -.7l1.4 -.3l1.4 -.6l1.5 .9l2.8 .4l2.9 -2.3l2.8 .1l2.9 .2l2.9 -.2l2.8 -.6l4.3 .6l4.3 -.4l4.3 -.1l4.3 -.6l4.3 -.2l4.3 .2l4.3 .4l4.3 1.2l4.3 -1.1l4.3 .6l4.3 -.2l4.3 -1.4l4.3 .1l4.3 -.5l4.3 0l4.3 -.5l4.3 0l4.3 .3l4.3 -.9l4.3 .3l4.3 .8l4.3 0l4.2 -.4l4.3 .6l4.3 -.7l7.2 -.5" stroke="#1612ff"/>
<path d="M34.3 292.1l1.4 -.2l1.5 0l1.4 .1l1.4 .4l1.5 .2l1.4 -.2l1.4 -.4l1.5 -.3l2.8 -.4l2.9 -.5l2.8 1.3l2.9 .4l2.9 .1l2.8 .3l4.3 -.7l4.3 -.3l4.3 .2l4.3 0l4.3 -.6l4.3 .4l4.3 .3l4.3 -.4l4.3 -.1l4.3 -.6l4.3 .1l4.3 -.1l4.3 .6l4.3 .7l4.3 .1l4.3 1.5l4.3 -.5l4.3 -.7l4.3 0l4.3 .1l4.3 -.6l4.3 .1l4.2 -.5l4.3 -1l4.3 -.1l7.2 -.1" stroke="#1612ff"/>
<path d="M34.3 287.5l1.4 .2l1.5 -.5l1.4 .5l1.4 0l1.5 .4l1.4 -.5l1.4 -.6l1.5 -.9l2.8 -.1l2.9 .7l2.8 -.1l2.9 -.3l2.9 -.7l2.8 1.6l4.3 -.2l4.3 1.1l4.3 -.7l4.3 -.3l4.3 -.4l4.3 -.5l4.3 -.1l4.3 .6l4.3 -.2l4.3 -.6l4.3 .3l4.3 .1l4.3 .9l4.3 -.8l4.3 .4l4.3 .5l4.3 .2l4.3 .5l4.3 -.1l4.3 -1l4.3 -.5l4.3 -.8l4.2 -.7l4.3 1l4.3 -.1l7.2 -.7" stroke="#1612ff"/>
<path d="M34.3 283.6l1.4 -.2l1.5 .5l1.4 1.2l1.4 -.2l1.5 -.3l1.4 -.4l1.4 -.5l1.5 0l2.8 .3l2.9 .4l2.8 .9l2.9 0l2.9 -.6l2.8 -.4l4.3 -.9l4.3 .4l4.3 1.1l4.3 -.4l4.3 -.5l4.3 .8l4.3 .9l4.3 -.3l4.3 -.4l4.3 .6l4.3 0l4.3 .3l4.3 .4l4.3 .4l4.3 -.4l4.3 0l4.3 .1l4.3 1l4.3 -1.3l4.3 .3l4.3 -.2l4.3 .3l4.2 -.4l4.3 .5l4.3 -.3l7.2 -.2" stroke="#1612ff"/>
<path d="M34.3 301.9l1.4 -.1l1.5 .5l1.4 -.2l1.4 -.2l1.5 0l1.4 0l1.4 0l1.5 .4l2.8 .3l2.9 .9l2.8 .1l2.9 .2l2.9 0l2.8 -.5l4.3 -.2l4.3 -.2l4.3 -.5l4.3 1.4l4.3 -.3l4.3 0l4.3 0l4.3 .7l4.3 -.5l4.3 -.6l4.3 -.5l4.3 .2l4.3 -.2l4.3 -.3l4.3 -.7l4.3 -.2l4.3 .3l4.3 .3l4.3 .2l4.3 .1l4.3 .5l4.3 -.2l4.2 .5l4.3 .5l4.3 -.2l7.2 .3" stroke="#9678fa"/>
<path d="M34.3 287.3l1.4 -.1l1.5 .4l1.4 -1l1.4 .4l1.5 -.3l1.4 -.7l1.4 .6l1.5 .2l2.8 .7l2.9 -.4l2.8 .3l2.9 .7l2.9 -.6l2.8 -.3l4.3 .7l4.3 -.5l4.3 .1l4.3 -1.1l4.3 -.4l4.3 .8l4.3 .5l4.3 .7l4.3 .1l4.3 .1l4.3 -.2l4.3 .1l4.3 .9l4.3 .4l4.3 -.8l4.3 -.5l4.3 .2l4.3 .2l4.3 .2l4.3 0l4.3 .9l4.3 -.5l4.2 .3l4.3 -.2l4.3 1.3l7.2 -.4" stroke="#1612ff"/>
<path d="M34.3 310.5l1.4 -.8l1.5 -.3l1.4 -.4l1.4 .1l1.5 .2l1.4 -.6l1.4 .3l1.5 -.6l2.8 .5l2.9 0l2.8 .2l2.9 -1.2l2.9 .5l2.8 0l4.3 -1l4.3 -.6l4.3 -1.4l4.3 -1.1l4.3 -.2l4.3 -.3l4.3 1l4.3 .3l4.3 0l4.3 -.1l4.3 .5l4.3 .1l4.3 .1l4.3 -.9l4.3 -.4l4.3 .1l4.3 0l4.3 -.3l4.3 .2l4.3 0l4.3 .7l4.3 -.6l4.2 -.6l4.3 -.2l4.3 -.3l7.2 -.1" stroke="#9678fa"/>
<path d="M34.3 302.4l1.4 -.7l1.5 -.7l1.4 -.2l1.4 .5l1.5 0l1.4 .5l1.4 -.3l1.5 .2l2.8 -.8l2.9 -.6l2.8 .4l2.9 -1.1l2.9 -.9l2.8 .3l4.3 -.6l4.3 -.8l4.3 -.2l4.3 -.7l4.3 -.2l4.3 -.7l4.3 -.1l4.3 .1l4.3 -.3l4.3 -.3l4.3 0l4.3 .3l4.3 .4l4.3 .1l4.3 .2l4.3 -.2l4.3 -.1l4.3 0l4.3 -.1l4.3 -.1l4.3 -.8l4.3 -.5l4.2 .6l4.3 -.1l4.3 .3l7.2 .1" stroke="#1612ff"/>
<path d="M34.3 304.7l1.4 .2l1.5 -.6l1.4 -.1l1.4 -.5l1.5 .2l1.4 -.2l1.4 -.2l1.5 1l2.8 -.8l2.9 -.5l2.8 .9l2.9 -1.1l2.9 -.5l2.8 -.5l4.3 -.6l4.3 -.1l4.3 .3l4.3 -.1l4.3 -.1l4.3 -1.6l4.3 -1l4.3 .5l4.3 .3l4.3 -.2l4.3 -.2l4.3 .5l4.3 .5l4.3 -1.1l4.3 -.5l4.3 1.1l4.3 .9l4.3 .3l4.3 -.4l4.3 -.4l4.3 .1l4.3 .8l4.2 -.4l4.3 -.5l4.3 -.1l7.2 .2" stroke="#1612ff"/>
<path d="M34.3 298.8l1.4 -.2l1.5 .3l1.4 -.1l1.4 -.5l1.5 .7l1.4 -.1l1.4 -.6l1.5 .5l2.8 -.1l2.9 .3l2.8 -.2l2.9 .5l2.9 .2l2.8 -.2l4.3 -.3l4.3 -.4l4.3 -.3l4.3 -.5l4.3 -.3l4.3 -.2l4.3 .3l4.3 0l4.3 -1l4.3 -.5l4.3 0l4.3 0l4.3 0l4.3 .3l4.3 -.4l4.3 .4l4.3 .2l4.3 -.5l4.3 .8l4.3 0l4.3 .6l4.3 .1l4.2 0l4.3 0l4.3 -.1l7.2 .1" stroke="#1612ff"/>
<path d="M34.3 302.9l1.4 -.4l1.5 .1l1.4 .1l1.4 -.7l1.5 0l1.4 .8l1.4 -.4l1.5 1.1l2.8 -.5l2.9 -.2l2.8 .3l2.9 -.5l2.9 -.1l2.8 -1.2l4.3 .1l4.3 -.9l4.3 -.6l4.3 .5l4.3 .4l4.3 -.6l4.3 .2l4.3 0l4.3 .2l4.3 .5l4.3 .1l4.3 .3l4.3 .5l4.3 -.1l4.3 -1l4.3 -.8l4.3 .2l4.3 0l4.3 -.1l4.3 -.5l4.3 .1l4.3 .3l4.2 .3l4.3 -.4l4.3 -1l7.2 .6" stroke="#9678fa"/>
<path d="M34.3 292.9l1.4 .3l1.5 .5l1.4 -.3l1.4 .1l1.5 -.4l1.4 .2l1.4 -.3l1.5 .3l2.8 -.4l2.9 -.3l2.8 -.6l2.9 -.9l2.9 -.1l2.8 .1l4.3 -1.1l4.3 -.2l4.3 -.4l4.3 -.3l4.3 -.6l4.3 -.3l4.3 -.1l4.3 -.2l4.3 .5l4.3 .2l4.3 0l4.3 -.1l4.3 0l4.3 -.2l4.3 0l4.3 .1l4.3 .6l4.3 -.5l4.3 -.3l4.3 .3l4.3 -.3l4.3 -.2l4.2 0l4.3 .7l4.3 .3l7.2 0" stroke="#1612ff"/>
<path d="M34.3 313.6l1.4 .8l1.5 .9l1.4 -.8l1.4 -.3l1.5 -.1l1.4 -.7l1.4 -.6l1.5 .9l2.8 -.3l2.9 -.7l2.8 .1l2.9 -.1l2.9 -.5l2.8 0l4.3 .4l4.3 .1l4.3 .3l4.3 -.5l4.3 .5l4.3 -.7l4.3 .5l4.3 -.3l4.3 .4l4.3 -.1l4.3 -.7l4.3 -.6l4.3 -.6l4.3 .2l4.3 0l4.3 0l4.3 -.2l4.3 .2l4.3 -.4l4.3 0l4.3 -.3l4.3 0l4.2 -.1l4.3 .5l4.3 .3l7.2 .6" stroke="#1612ff"/>
<path d="M34.3 302.8l1.4 -.8l1.5 -.5l1.4 1l1.4 -.1l1.5 -.9l1.4 .9l1.4 -.7l1.5 .1l2.8 -.2l2.9 -.6l2.8 .4l2.9 -.6l2.9 -.2l2.8 -.1l4.3 -.9l4.3 -1.9l4.3 -.2l4.3 -.4l4.3 0l4.3 .3l4.3 -.3l4.3 -.7l4.3 -.1l4.3 -.4l4.3 .2l4.3 -1l4.3 .9l4.3 -.2l4.3 -.2l4.3 -.1l4.3 .6l4.3 .4l4.3 0l4.3 -.2l4.3 .4l4.3 .3l4.2 -.5l4.3 -.6l4.3 .2l7.2 .2" stroke="#cea0fa"/>
<path d="M34.3 307.6l1.4 -.5l1.5 .6l1.4 -.1l1.4 .1l1.5 0l1.4 .3l1.4 -.1l1.5 .3l2.8 -.5l2.9 -.3l2.8 .3l2.9 .4l2.9 -.2l2.8 -.7l4.3 -.5l4.3 -.3l4.3 1.2l4.3 -.3l4.3 -.1l4.3 -.3l4.3 .1l4.3 -.2l4.3 -.2l4.3 -1.5l4.3 -.4l4.3 .1l4.3 0l4.3 0l4.3 -.2l4.3 .1l4.3 0l4.3 -.5l4.3 -.4l4.3 0l4.3 -.5l4.3 .1l4.2 .5l4.3 .8l4.3 .1l7.2 -.1" stroke="#1612ff"/>
<path d="M34.3 286.9l1.4 .2l1.5 -.3l1.4 -.9l1.4 -.1l1.5 .1l1.4 1.2l1.4 -1l1.5 -.4l2.8 -.1l2.9 .2l2.8 .5l2.9 -.2l2.9 -.1l2.8 -.9l4.3 .5l4.3 -1l4.3 -.1l4.3 -.8l4.3 .6l4.3 -.3l4.3 -.7l4.3 0l4.3 .9l4.3 0l4.3 -.4l4.3 .6l4.3 .6l4.3 -.5l4.3 .3l4.3 -.7l4.3 .4l4.3 .7l4.3 0l4.3 -1.2l4.3 .2l4.3 -.2l4.2 -.4l4.3 .4l4.3 -.9l7.2 -.1" stroke="#cea0fa"/>
<path d="M34.3 313.5l1.4 -.4l1.5 -.8l1.4 .4l1.4 .2l1.5 -.1l1.4 -.8l1.4 .7l1.5 -.2l2.8 .2l2.9 .2l2.8 -.4l2.9 .5l2.9 .5l2.8 -.5l4.3 0l4.3 .1l4.3 -.1l4.3 -.3l4.3 .1l4.3 -.4l4.3 -.2l4.3 -.8l4.3 -.5l4.3 -.1l4.3 .4l4.3 .1l4.3 .5l4.3 -1.4l4.3 .5l4.3 0l4.3 -.5l4.3 1.1l4.3 .6l4.3 .2l4.3 .5l4.3 .5l4.2 .1l4.3 -1l4.3 -.4l7.2 0" stroke="#1612ff"/>
<path d="M34.3 285.2l1.4 -.3l1.5 -.1l1.4 .1l1.4 -.2l1.5 0l1.4 -.7l1.4 -.5l1.5 -.5l2.8 -.4l2.9 -.2l2.8 -1.3l2.9 .6l2.9 -.9l2.8 -.3l4.3 -.3l4.3 0l4.3 -.2l4.3 .3l4.3 .4l4.3 -.4l4.3 .5l4.3 -.8l4.3 -.7l4.3 1.3l4.3 .3l4.3 -.5l4.3 -.5l4.3 -.3l4.3 -.3l4.3 -.5l4.3 -.4l4.3 -.7l4.3 .1l4.3 -.2l4.3 .9l4.3 .1l4.2 .5l4.3 -.7l4.3 -1l7.2 0" stroke="#cea0fa"/>
<path d="M34.3 320.5l1.4 1.9l1.5 -1.3l1.4 .3l1.4 .2l1.5 -1.1l1.4 .2l1.4 1l1.5 .7l2.8 -.4l2.9 -.8l2.8 -1.1l2.9 .2l2.9 .5l2.8 -1.1l4.3 .5l4.3 -.8l4.3 .1l4.3 .2l4.3 .4l4.3 0l4.3 .5l4.3 .5l4.3 .1l4.3 .4l4.3 -.3l4.3 -.1l4.3 .2l4.3 .1l4.3 0l4.3 -1.3l4.3 .2l4.3 .6l4.3 .2l4.3 -.5l4.3 .3l4.3 .1l4.2 .2l4.3 -.2l4.3 -.2l7.2 -.3" stroke="#3c32fa"/>
<path d="M34.3 293.9l1.4 -.1l1.5 -.7l1.4 .1l1.4 .2l1.5 .9l1.4 .3l1.4 .2l1.5 -.8l2.8 -1.1l2.9 .4l2.8 -.2l2.9 -.2l2.9 .6l2.8 .9l4.3 .2l4.3 .5l4.3 -.2l4.3 -.3l4.3 -.2l4.3 -.2l4.3 -.5l4.3 .4l4.3 -.7l4.3 .9l4.3 -.3l4.3 -.4l4.3 .3l4.3 .8l4.3 -.7l4.3 .2l4.3 -.7l4.3 -.6l4.3 .1l4.3 0l4.3 -.6l4.3 -.1l4.2 .7l4.3 -.1l4.3 -.3l7.2 0" stroke="#1612ff"/>
<path d="M34.3 292.1l1.4 .5l1.5 -.3l1.4 1l1.4 -.3l1.5 .4l1.4 -2.5l1.4 .9l1.5 .8l2.8 -.9l2.9 -.8l2.8 1.7l2.9 -.4l2.9 -.7l2.8 .9l4.3 -.7l4.3 .3l4.3 .6l4.3 .1l4.3 0l4.3 .8l4.3 -2.1l4.3 .3l4.3 .5l4.3 -.8l4.3 0l4.3 -1l4.3 .3l4.3 -.1l4.3 0l4.3 0l4.3 .2l4.3 .2l4.3 -1.2l4.3 .7l4.3 .5l4.3 .3l4.2 -.5l4.3 -.2l4.3 -.6l7.2 1.2" stroke="#9678fa"/>
<path d="M34.3 288.0l1.4 -.1l1.5 .7l1.4 -.1l1.4 -.9l1.5 .3l1.4 -.3l1.4 .1l1.5 .5l2.8 .3l2.9 .1l2.8 -.9l2.9 -.4l2.9 .4l2.8 -.5l4.3 .2l4.3 .4l4.3 -.3l4.3 .5l4.3 .7l4.3 -.9l4.3 .9l4.3 -.5l4.3 .6l4.3 -.2l4.3 -.2l4.3 .1l4.3 .9l4.3 -.3l4.3 -.3l4.3 .2l4.3 -.3l4.3 -.8l4.3 .3l4.3 -.3l4.3 .5l4.3 -.4l4.2 -.4l4.3 -1.3l4.3 -.2l7.2 0" stroke="#1612ff"/>
<path d="M34.3 315.7l1.4 -.3l1.5 -1.1l1.4 1.3l1.4 -.4l1.5 .3l1.4 .1l1.4 1.2l1.5 -1.2l2.8 -.5l2.9 .5l2.8 .6l2.9 .1l2.9 -1.6l2.8 -.2l4.3 -.1l4.3 -.8l4.3 -.2l4.3 -.4l4.3 -.8l4.3 -.2l4.3 -.7l4.3 1l4.3 -.2l4.3 .2l4.3 -.2l4.3 -.1l4.3 .4l4.3 0l4.3 -.9l4.3 .3l4.3 .9l4.3 -.8l4.3 -.9l4.3 .2l4.3 -.1l4.3 .6l4.2 0l4.3 -1l4.3 -.6l7.2 0" stroke="#1612ff"/>
<path d="M34.3 295.9l1.4 -.5l1.5 -.9l1.4 .6l1.4 -1l1.5 -.7l1.4 -.9l1.4 -.3l1.5 -.1l2.8 -1l2.9 .6l2.8 -.4l2.9 -.6l2.9 .6l2.8 .8l4.3 -.6l4.3 -.2l4.3 -.5l4.3 -.5l4.3 .6l4.3 -.3l4.3 -.8l4.3 .4l4.3 .2l4.3 .7l4.3 -.6l4.3 -1.3l4.3 1.1l4.3 -.5l4.3 -.5l4.3 .6l4.3 .3l4.3 .7l4.3 .4l4.3 -.3l4.3 -.6l4.3 -.1l4.2 -.5l4.3 -.1l4.3 .9l7.2 -1" stroke="#1612ff"/>
<path d="M34.3 305.2l1.4 1.2l1.5 .5l1.4 -.6l1.4 -.1l1.5 .3l1.4 -.9l1.4 -.2l1.5 .6l2.8 .3l2.9 -.5l2.8 -.9l2.9 1.1l2.9 -.1l2.8 .2l4.3 .8l4.3 -.1l4.3 .6l4.3 0l4.3 -1l4.3 -.3l4.3 -.3l4.3 -.2l4.3 -.1l4.3 -.3l4.3 .8l4.3 .2l4.3 -.4l4.3 .4l4.3 .3l4.3 -.6l4.3 -.7l4.3 .5l4.3 .5l4.3 -.2l4.3 -.1l4.3 .4l4.2 -.3l4.3 -.2l4.3 .1l7.2 -1.3" stroke="#1612ff"/>
<path d="M34.3 300.3l1.4 -.4l1.5 -.1l1.4 .3l1.4 -.3l1.5 -.3l1.4 0l1.4 .2l1.5 -.7l2.8 .8l2.9 -.8l2.8 -.2l2.9 -.3l2.9 1.3l2.8 -1.4l4.3 .8l4.3 .1l4.3 -.9l4.3 .1l4.3 -.1l4.3 1l4.3 -.3l4.3 -.7l4.3 -.8l4.3 -.1l4.3 -.4l4.3 -.4l4.3 .3l4.3 .2l4.3 -1.4l4.3 .6l4.3 -.9l4.3 .1l4.3 -.8l4.3 .5l4.3 -.2l4.3 -.1l4.2 .3l4.3 -.1l4.3 .5l7.2 0" stroke="#1612ff"/>
<path d="M34.3 324.8l1.4 -.2l1.5 .3l1.4 -.9l1.4 -.3l1.5 -.5l1.4 .4l1.4 .1l1.5 -.7l2.8 .6l2.9 -.5l2.8 -.3l2.9 0l2.9 -.3l2.8 .3l4.3 -.5l4.3 .2l4.3 .2l4.3 -1.2l4.3 .1l4.3 .7l4.3 -1l4.3 .1l4.3 1.4l4.3 -.7l4.3 -1l4.3 -.6l4.3 -1.1l4.3 0l4.3 -.4l4.3 .5l4.3 -.2l4.3 -.9l4.3 -.2l4.3 0l4.3 1.1l4.3 .1l4.2 .5l4.3 -.7l4.3 .2l7.2 -.4" stroke="#3c32fa"/>
<path d="M34.3 295.1l1.4 .4l1.5 -.3l1.4 -.5l1.4 -.3l1.5 1.1l1.4 -.1l1.4 1l1.5 -1.1l2.8 0l2.9 .3l2.8 -.3l2.9 -.2l2.9 .7l2.8 -.7l4.3 .2l4.3 1l4.3 -.7l4.3 -.6l4.3 -.4l4.3 0l4.3 .8l4.3 -.3l4.3 -.7l4.3 0l4.3 -.4l4.3 .9l4.3 -.2l4.3 -.1l4.3 1l4.3 1l4.3 .3l4.3 -.1l4.3 -.3l4.3 .1l4.3 0l4.3 0l4.2 0l4.3 -.3l4.3 -.2l7.2 .1" stroke="#9678fa"/>
<path d="M34.3 303.4l1.4 -.2l1.5 .5l1.4 .1l1.4 -.2l1.5 -.1l1.4 .4l1.4 .6l1.5 -.3l2.8 -.3l2.9 -.4l2.8 -.9l2.9 .4l2.9 1.3l2.8 -.1l4.3 1l4.3 .4l4.3 -1.1l4.3 -.6l4.3 .3l4.3 .2l4.3 -.1l4.3 .9l4.3 -.7l4.3 0l4.3 -1.4l4.3 .7l4.3 -.7l4.3 .4l4.3 -.7l4.3 .8l4.3 -.6l4.3 .4l4.3 .5l4.3 0l4.3 -.4l4.3 -.3l4.2 -1l4.3 -.3l4.3 2l7.2 .1" stroke="#1612ff"/>
<path d="M34.3 291.4l1.4 0l1.5 -.9l1.4 -.1l1.4 -.2l1.5 -.7l1.4 .4l1.4 .1l1.5 .6l2.8 -.3l2.9 -.6l2.8 -.6l2.9 .1l2.9 .4l2.8 .4l4.3 .5l4.3 -.4l4.3 -.9l4.3 1.1l4.3 .7l4.3 -1.1l4.3 .5l4.3 -.6l4.3 .4l4.3 -.8l4.3 -.6l4.3 -.2l4.3 -.4l4.3 -.1l4.3 -.2l4.3 -.9l4.3 -.3l4.3 .6l4.3 .5l4.3 .1l4.3 .1l4.3 0l4.2 .2l4.3 -.4l4.3 0l7.2 -.2" stroke="#1612ff"/>
<path d="M34.3 315.6l1.4 -.3l1.5 -.6l1.4 -.3l1.4 .1l1.5 .3l1.4 1.2l1.4 -.2l1.5 .1l2.8 .2l2.9 -1.5l2.8 1.4l2.9 -.1l2.9 -.7l2.8 -.5l4.3 -.4l4.3 1.1l4.3 .7l4.3 -.4l4.3 .2l4.3 -1l4.3 .1l4.3 .1l4.3 0l4.3 .3l4.3 .1l4.3 .5l4.3 .1l4.3 .3l4.3 -.2l4.3 .8l4.3 .7l4.3 -.6l4.3 -.3l4.3 .4l4.3 0l4.3 .4l4.2 -1.5l4.3 .9l4.3 -1.2l7.2 .6" stroke="#1612ff"/>
<path d="M34.3 300.1l1.4 .4l1.5 -1.6l1.4 -.9l1.4 .1l1.5 .3l1.4 -.1l1.4 0l1.5 -.8l2.8 .8l2.9 -.1l2.8 .4l2.9 -1l2.9 -1.2l2.8 .3l4.3 -.3l4.3 -.8l4.3 .5l4.3 .8l4.3 -.7l4.3 -.3l4.3 .3l4.3 -.9l4.3 .1l4.3 1.5l4.3 -.3l4.3 0l4.3 -1.3l4.3 .3l4.3 .3l4.3 -.2l4.3 0l4.3 1.1l4.3 -.2l4.3 .2l4.3 -1.1l4.3 -1.4l4.2 1.1l4.3 .8l4.3 .6l7.2 .3" stroke="#9678fa"/>
<path d="M34.3 306.2l1.4 -.7l1.5 -.7l1.4 .7l1.4 .7l1.5 -.4l1.4 -.7l1.4 -.6l1.5 -.1l2.8 -.4l2.9 -.2l2.8 .2l2.9 -1l2.9 .1l2.8 .6l4.3 0l4.3 .6l4.3 -.3l4.3 -.8l4.3 .5l4.3 -.7l4.3 -1.1l4.3 0l4.3 .7l4.3 .4l4.3 .1l4.3 .5l4.3 .3l4.3 -.1l4.3 -.2l4.3 -.5l4.3 .4l4.3 -1.1l4.3 -.5l4.3 -.3l4.3 .5l4.3 -.8l4.2 .4l4.3 -.7l4.3 -.2l7.2 .7" stroke="#1612ff"/>
<path d="M34.3 311.1l1.4 .2l1.5 -.2l1.4 0l1.4 -.1l1.5 -.6l1.4 .2l1.4 -.7l1.5 -.2l2.8 -.7l2.9 -.7l2.8 -.8l2.9 -.3l2.9 -.4l2.8 .2l4.3 -.4l4.3 .4l4.3 -.1l4.3 -.6l4.3 0l4.3 -.4l4.3 .5l4.3 -.9l4.3 .3l4.3 -.3l4.3 -.1l4.3 -.5l4.3 .2l4.3 .5l4.3 .8l4.3 -.1l4.3 .3l4.3 -.6l4.3 -1l4.3 1.1l4.3 .4l4.3 -.5l4.2 -.9l4.3 -.3l4.3 -.2l7.2 -.3" stroke="#3c32fa"/>
<path d="M34.3 323.3l1.4 .5l1.5 0l1.4 .2l1.4 .3l1.5 -.7l1.4 .1l1.4 .6l1.5 .2l2.8 -.3l2.9 -1.6l2.8 -.1l2.9 -.9l2.9 0l2.8 1.7l4.3 -.3l4.3 .5l4.3 .8l4.3 .5l4.3 -1.6l4.3 1l4.3 .2l4.3 -1l4.3 -.5l4.3 1.1l4.3 -.1l4.3 .2l4.3 -.1l4.3 -.7l4.3 .3l4.3 .1l4.3 -1.1l4.3 1.3l4.3 .1l4.3 -.5l4.3 .7l4.3 .2l4.2 .6l4.3 -.5l4.3 .1l7.2 -.8" stroke="#1612ff"/>
<path d="M34.3 304.2l1.4 -1l1.5 -.2l1.4 -.6l1.4 1l1.5 -.7l1.4 -1.5l1.4 -.2l1.5 1.3l2.8 -.1l2.9 -.1l2.8 -.2l2.9 .1l2.9 -.5l2.8 .3l4.3 -.3l4.3 .4l4.3 -.3l4.3 -.8l4.3 .4l4.3 -.6l4.3 .7l4.3 .2l4.3 0l4.3 -1l4.3 .6l4.3 -.9l4.3 1.1l4.3 0l4.3 -.8l4.3 -.4l4.3 .8l4.3 .8l4.3 -.8l4.3 .8l4.3 -.6l4.3 .3l4.2 -.1l4.3 -1.7l4.3 -.9l7.2 -.2" stroke="#cea0fa"/>
<path d="M34.3 325.3l1.4 -.4l1.5 -.2l1.4 .1l1.4 -1l1.5 .5l1.4 -.2l1.4 -.2l1.5 .9l2.8 .2l2.9 -.2l2.8 -.9l2.9 -.9l2.9 -.6l2.8 -.4l4.3 .8l4.3 -.6l4.3 -.1l4.3 -.9l4.3 -.9l4.3 -1.1l4.3 -.2l4.3 -.3l4.3 .7l4.3 0l4.3 .6l4.3 -.5l4.3 .5l4.3 0l4.3 .2l4.3 .1l4.3 -.5l4.3 .2l4.3 -.3l4.3 .4l4.3 -.9l4.3 .3l4.2 -.6l4.3 -1l4.3 1.4l7.2 .4" stroke="#1612ff"/>
<path d="M34.3 314.5l1.4 .3l1.5 -.7l1.4 1l1.4 .3l1.5 -1.2l1.4 -.4l1.4 .1l1.5 -1.2l2.8 -.6l2.9 -.6l2.8 .1l2.9 -.3l2.9 -.2l2.8 .6l4.3 -.5l4.3 -.1l4.3 -.7l4.3 -.5l4.3 .3l4.3 .2l4.3 -.1l4.3 -.3l4.3 .1l4.3 0l4.3 -.2l4.3 -.2l4.3 -.4l4.3 0l4.3 .5l4.3 .7l4.3 -.5l4.3 .1l4.3 .1l4.3 0l4.3 .6l4.3 -.1l4.2 .9l4.3 -.2l4.3 0l7.2 -1.1" stroke="#1612ff"/>
<path d="M34.3 332.9l1.4 -.3l1.5 -.4l1.4 0l1.4 -.2l1.5 -.2l1.4 -.9l1.4 -.1l1.5 .3l2.8 -.7l2.9 -1.1l2.8 -.1l2.9 -1.3l2.9 -.2l2.8 -.6l4.3 -.3l4.3 -.2l4.3 .1l4.3 0l4.3 .3l4.3 -.7l4.3 0l4.3 -.2l4.3 -.2l4.3 .1l4.3 -.1l4.3 0l4.3 0l4.3 -.1l4.3 0l4.3 .2l4.3 .2l4.3 .1l4.3 -.2l4.3 -.5l4.3 -.4l4.3 -.1l4.2 -.2l4.3 .1l4.3 -.3l7.2 .1" stroke="#cea0fa"/>
<path d="M34.3 335.2l1.4 -.2l1.5 -.9l1.4 .4l1.4 -.2l1.5 0l1.4 -.6l1.4 -.8l1.5 .1l2.8 .7l2.9 -.8l2.8 -.7l2.9 .2l2.9 -.4l2.8 -.5l4.3 .2l4.3 -1.1l4.3 -.9l4.3 -.6l4.3 .1l4.3 -.2l4.3 -.2l4.3 -.6l4.3 0l4.3 -1l4.3 -.2l4.3 .8l4.3 -.8l4.3 -.1l4.3 .1l4.3 -.1l4.3 .6l4.3 -.3l4.3 .8l4.3 0l4.3 -.8l4.3 -.6l4.2 0l4.3 .3l4.3 -.5l7.2 -.1" stroke="#3c32fa"/>
<path d="M34.3 342.3l1.4 0l1.5 -.6l1.4 .3l1.4 -.8l1.5 .1l1.4 -.2l1.4 -.2l1.5 -.6l2.8 -.9l2.9 -.6l2.8 -.7l2.9 -.7l2.9 -.5l2.8 .1l4.3 -.2l4.3 -.2l4.3 -1l4.3 -.8l4.3 -.9l4.3 -.9l4.3 -.8l4.3 -.5l4.3 -.1l4.3 .1l4.3 -1l4.3 -.7l4.3 0l4.3 -.4l4.3 -.6l4.3 -.8l4.3 0l4.3 -.2l4.3 -.4l4.3 .5l4.3 0l4.3 -.1l4.2 0l4.3 -.8l4.3 -.3l7.2 -.1" stroke="#1612ff"/>
<path d="M34.3 349.3l1.4 -.7l1.5 -.1l1.4 -.2l1.4 .2l1.5 -.5l1.4 -.9l1.4 -.8l1.5 -.6l2.8 -1l2.9 -.4l2.8 -.5l2.9 -1.2l2.9 -.9l2.8 -.4l4.3 -1.5l4.3 -1.5l4.3 -1.5l4.3 -1.1l4.3 -.9l4.3 -.9l4.3 -1.2l4.3 -.5l4.3 -.1l4.3 -.6l4.3 0l4.3 -.7l4.3 -.4l4.3 -.8l4.3 -.1l4.3 -.5l4.3 -1l4.3 .2l4.3 .5l4.3 -.2l4.3 0l4.3 -.1l4.2 .2l4.3 -.4l4.3 -.1l7.2 .8" stroke="#1612ff"/>
<path d="M34.3 351.6l1.4 -.9l1.5 .1l1.4 .1l1.4 -1l1.5 .1l1.4 -.4l1.4 -.6l1.5 -.6l2.8 -.6l2.9 0l2.8 -1.2l2.9 -.3l2.9 -.4l2.8 -1.8l4.3 -1.5l4.3 -.4l4.3 -.9l4.3 -1.1l4.3 -.9l4.3 0l4.3 -1.5l4.3 -1.4l4.3 -1l4.3 -.6l4.3 -.9l4.3 -1.2l4.3 -.2l4.3 -.3l4.3 0l4.3 -.7l4.3 -.4l4.3 .5l4.3 0l4.3 -1.3l4.3 .3l4.3 -.3l4.2 0l4.3 -.9l4.3 -.1l7.2 -.1" stroke="#1612ff"/>
<path d="M34.3 365.7l1.4 -.6l1.5 -.5l1.4 .2l1.4 -.9l1.5 -.2l1.4 .2l1.4 -.4l1.5 -.2l2.8 -.5l2.9 -.5l2.8 -.7l2.9 -.6l2.9 -.2l2.8 -1l4.3 -.7l4.3 -1.2l4.3 -1l4.3 -.9l4.3 -.7l4.3 -1.1l4.3 -.6l4.3 -.8l4.3 -1.3l4.3 -.2l4.3 -1.3l4.3 -1.7l4.3 -1.5l4.3 -2.2l4.3 -1.8l4.3 -1.6l4.3 -1.3l4.3 -1.8l4.3 -1.1l4.3 -1.2l4.3 -1.7l4.3 -1.6l4.2 -2.1l4.3 -.5l4.3 .2l7.2 -1.1" stroke="#3c32fa"/>
<path d="M34.3 368.5l1.4 -.8l1.5 -.7l1.4 0l1.4 -.1l1.5 .1l1.4 -.5l1.4 -.5l1.5 -.5l2.8 -.2l2.9 -.5l2.8 -.2l2.9 -.4l2.9 -.4l2.8 -.5l4.3 -.9l4.3 -1l4.3 -1.1l4.3 -.8l4.3 -.6l4.3 -.8l4.3 -.9l4.3 -.5l4.3 -.7l4.3 -.5l4.3 -.5l4.3 -1l4.3 -.8l4.3 -1.5l4.3 -.7l4.3 -1.3l4.3 -.7l4.3 -1.7l4.3 -1.3l4.3 -.8l4.3 -1l4.3 -.9l4.2 -1.2l4.3 -1.3l4.3 -1.9l7.2 -1.4" stroke="#cea0fa"/>
<path d="M34.3 371.3l1.4 -.4l1.5 -.5l1.4 -.4l1.4 -.4l1.5 -.1l1.4 -.2l1.4 -.2l1.5 -.7l2.8 .1l2.9 -.4l2.8 -.1l2.9 -.3l2.9 -.5l2.8 -1.1l4.3 -1.9l4.3 -1.4l4.3 -.3l4.3 -.9l4.3 -.5l4.3 -1.2l4.3 -1.5l4.3 -1.1l4.3 -1.1l4.3 -.5l4.3 .2l4.3 0l4.3 -.9l4.3 -1.1l4.3 -1.2l4.3 -1.2l4.3 -1.6l4.3 -1.7l4.3 -2l4.3 -1.5l4.3 -.9l4.3 -1.8l4.2 -1.5l4.3 -1.5l4.3 -.7l7.2 -1.8" stroke="#1612ff"/>
<path d="M34.3 363.8l1.4 -.3l1.5 -.2l1.4 -.6l1.4 -.9l1.5 -.2l1.4 -.9l1.4 0l1.5 -.5l2.8 -.2l2.9 -.8l2.8 -.6l2.9 -.7l2.9 -1l2.8 -.1l4.3 -1l4.3 -.7l4.3 -1l4.3 -1.1l4.3 -.8l4.3 -.2l4.3 .3l4.3 -.3l4.3 -.2l4.3 -1.2l4.3 -.6l4.3 -1.6l4.3 -.7l4.3 -3.7l4.3 -4.3l4.3 -4.6l4.3 -4.3l4.3 -.9l4.3 -.4l4.3 -.8l4.3 -.5l4.3 -.5l4.2 -.8l4.3 0l4.3 -.7l7.2 -.7" stroke="#cea0fa"/>
<path d="M34.3 367.6l1.4 -.3l1.5 -1.2l1.4 .1l1.4 -.3l1.5 -.4l1.4 .7l1.4 -.8l1.5 .1l2.8 -1.5l2.9 -1.5l2.8 -.5l2.9 .3l2.9 -.8l2.8 -.8l4.3 -1.4l4.3 -.8l4.3 -.4l4.3 -.9l4.3 -.3l4.3 -1.7l4.3 -.3l4.3 -.5l4.3 -.7l4.3 -.2l4.3 -.8l4.3 -1l4.3 -.7l4.3 -.9l4.3 -1.7l4.3 -1l4.3 -.7l4.3 -2.3l4.3 -2.9l4.3 -2.1l4.3 -2.6l4.3 -1.8l4.2 -1.7l4.3 -1.3l4.3 -.3l7.2 -.2" stroke="#1612ff"/>
<path d="M34.3 362.3l1.4 -.5l1.5 -.6l1.4 -.5l1.4 -.3l1.5 -.2l1.4 -.4l1.4 -1.2l1.5 -.4l2.8 -1l2.9 -1.6l2.8 -2.1l2.9 -2.6l2.9 -1.2l2.8 -1.9l4.3 -2.6l4.3 -2.3l4.3 -1.5l4.3 -.2l4.3 -1.2l4.3 -.9l4.3 -.4l4.3 -1.5l4.3 -1.1l4.3 -1.2l4.3 .1l4.3 -.4l4.3 -.3l4.3 -.9l4.3 -1.1l4.3 .4l4.3 -.6l4.3 -.5l4.3 -1.1l4.3 -.5l4.3 0l4.3 -.7l4.2 -.2l4.3 -.5l4.3 -.8l7.2 -1.1" stroke="#3c32fa"/>
<path d="M34.3 361.6l1.4 0l1.5 -.4l1.4 -.6l1.4 -1.4l1.5 -.9l1.4 -.3l1.4 -.9l1.5 -.8l2.8 -.9l2.9 -1.7l2.8 -1.4l2.9 -1.2l2.9 -1.1l2.8 -1.4l4.3 -2.5l4.3 -1.8l4.3 -.7l4.3 -1.1l4.3 0l4.3 -1.5l4.3 -.7l4.3 -1l4.3 -1.3l4.3 -.3l4.3 -.4l4.3 -1.4l4.3 -.5l4.3 -.5l4.3 -.7l4.3 -.9l4.3 -.9l4.3 -.5l4.3 -.5l4.3 -.5l4.3 -.8l4.3 -1l4.2 -.7l4.3 -1.2l4.3 -.3l7.2 -1.3" stroke="#3c32fa"/>
<path d="M34.3 360.5l1.4 -.7l1.5 -.4l1.4 0l1.4 -.4l1.5 -.9l1.4 -1l1.4 0l1.5 -.5l2.8 -.6l2.9 -1.1l2.8 -2.7l2.9 -1l2.9 -.9l2.8 -.8l4.3 -1.2l4.3 -1.1l4.3 -1.8l4.3 -1.6l4.3 -2.4l4.3 -.9l4.3 -1.9l4.3 -2.2l4.3 -.8l4.3 -2l4.3 -.5l4.3 -.7l4.3 -.9l4.3 -.2l4.3 -.3l4.3 0l4.3 -.3l4.3 -.7l4.3 -.1l4.3 -.2l4.3 -.3l4.3 -.5l4.2 .6l4.3 -.3l4.3 0l7.2 -.6" stroke="#9678fa"/>
<path d="M34.3 368.1l1.4 -.6l1.5 -.5l1.4 -.6l1.4 -.3l1.5 -.6l1.4 -.5l1.4 -.7l1.5 -.6l2.8 -1.4l2.9 -1.9l2.8 -1.5l2.9 -1.9l2.9 -1.6l2.8 -2.3l4.3 -3.2l4.3 -2.9l4.3 -2l4.3 -1.3l4.3 -1.1l4.3 -1.7l4.3 -1.7l4.3 -1.4l4.3 -1.8l4.3 -1.8l4.3 -1.4l4.3 -.8l4.3 -.6l4.3 -.3l4.3 -.4l4.3 -.5l4.3 -.2l4.3 -.7l4.3 -.5l4.3 -.3l4.3 -.3l4.3 -1.3l4.2 -.4l4.3 -.5l4.3 -.6l7.2 -.8" stroke="#1612ff"/>
<path d="M34.3 363.4l1.4 -.7l1.5 -.1l1.4 -1.1l1.4 -.2l1.5 -.9l1.4 -.4l1.4 -.6l1.5 -.4l2.8 -1.7l2.9 -2l2.8 -2.2l2.9 -1.8l2.9 -1.8l2.8 -1.7l4.3 -2.6l4.3 -2.8l4.3 -1.4l4.3 -1l4.3 -.6l4.3 -1.1l4.3 -1.2l4.3 -1l4.3 -1.2l4.3 -1l4.3 -.6l4.3 -.1l4.3 -.2l4.3 -.3l4.3 -.3l4.3 -.6l4.3 -.1l4.3 .2l4.3 -.6l4.3 -.2l4.3 -.4l4.3 -.9l4.2 -.6l4.3 -.2l4.3 -.4l7.2 -.3" stroke="#1612ff"/>
<path d="M34.3 370.9l1.4 -.5l1.5 -.8l1.4 -.5l1.4 -.8l1.5 -.4l1.4 -.8l1.4 -.4l1.5 -.5l2.8 -1.1l2.9 -2.5l2.8 -2.4l2.9 -2.2l2.9 -2.9l2.8 -2.4l4.3 -3.4l4.3 -3.3l4.3 -1.2l4.3 -1.1l4.3 -1.4l4.3 -.7l4.3 -1l4.3 -.7l4.3 -1.3l4.3 -1.1l4.3 -.9l4.3 -.8l4.3 -.8l4.3 -.5l4.3 -.2l4.3 0l4.3 -.2l4.3 -.1l4.3 -.9l4.3 -.4l4.3 -.5l4.3 -.5l4.2 -.9l4.3 -.2l4.3 -.7l7.2 -.7" stroke="#1612ff"/>
<path d="M34.3 367.5l1.4 -.7l1.5 -1l1.4 -.2l1.4 -.6l1.5 -.7l1.4 -.5l1.4 -.8l1.5 -.4l2.8 -1.6l2.9 -1.8l2.8 -1.7l2.9 -2.3l2.9 -2.9l2.8 -2l4.3 -3.2l4.3 -3.4l4.3 -1.7l4.3 -.9l4.3 -1l4.3 -.2l4.3 -1.7l4.3 -1.1l4.3 -.5l4.3 -1.5l4.3 -.8l4.3 -1l4.3 .2l4.3 -1.1l4.3 -.3l4.3 .6l4.3 -.9l4.3 -.3l4.3 -.1l4.3 -.5l4.3 .2l4.3 -1l4.2 -.6l4.3 -.5l4.3 -1.3l7.2 -.8" stroke="#cea0fa"/>
<path d="M34.3 369.1l1.4 -.9l1.5 -.5l1.4 -.5l1.4 -1.2l1.5 -.1l1.4 -.5l1.4 0l1.5 -.5l2.8 -1.4l2.9 -2.5l2.8 -1.6l2.9 -2.4l2.9 -2.4l2.8 -2l4.3 -3.8l4.3 -3l4.3 -1.3l4.3 -1.4l4.3 -.6l4.3 -1.8l4.3 -1.5l4.3 -1.1l4.3 -1.4l4.3 -1.3l4.3 -1.5l4.3 0l4.3 0l4.3 .2l4.3 -.4l4.3 -.1l4.3 -.6l4.3 -.7l4.3 -.4l4.3 -.3l4.3 -1l4.3 -.4l4.2 -.6l4.3 -.8l4.3 0l7.2 -.6" stroke="#1612ff"/>
<path d="M34.3 367.0l1.4 -.4l1.5 -.6l1.4 -.6l1.4 -.8l1.5 .1l1.4 -.1l1.4 -1.1l1.5 -.5l2.8 -1.7l2.9 -2.1l2.8 -1.5l2.9 -2.3l2.9 -1.7l2.8 -2.3l4.3 -3.6l4.3 -3.8l4.3 -1.6l4.3 -1.4l4.3 -1.2l4.3 -1.5l4.3 -.2l4.3 -1.2l4.3 -1.5l4.3 -1.5l4.3 -.7l4.3 -.7l4.3 -.8l4.3 -.3l4.3 -.3l4.3 -.2l4.3 -.4l4.3 -.8l4.3 -.8l4.3 0l4.3 0l4.3 0l4.2 -.8l4.3 -.5l4.3 -.4l7.2 -.8" stroke="#1612ff"/>
</g>
<rect x="34.3" y="232.6" width="143.2" height="178.1" fill="none" stroke="#808080" stroke-width="1.1"/>
<path d="M34.3 232.6v-1.8M34.3 410.7v1.8M62.9 232.6v-1.8M62.9 410.7v1.8M91.6 232.6v-1.8M91.6 410.7v1.8M120.2 232.6v-1.8M120.2 410.7v1.8M148.9 232.6v-1.8M148.9 410.7v1.8M177.5 232.6v-1.8M177.5 410.7v1.8M34.3 401.33h-1.8M177.5 401.33h1.8M34.3 382.58h-1.8M177.5 382.58h1.8M34.3 363.83h-1.8M177.5 363.83h1.8M34.3 345.08h-1.8M177.5 345.08h1.8M34.3 326.34h-1.8M177.5 326.34h1.8M34.3 307.59h-1.8M177.5 307.59h1.8M34.3 288.84h-1.8M177.5 288.84h1.8M34.3 270.09h-1.8M177.5 270.09h1.8M34.3 251.35h-1.8M177.5 251.35h1.8M34.3 232.60h-1.8M177.5 232.60h1.8" stroke="#808080" stroke-width="1.0"/>
<text x="34.3" y="420.9" font-size="7.80" text-anchor="middle" textLength="4.7" lengthAdjust="spacingAndGlyphs">0</text>
<text x="62.9" y="420.9" font-size="7.80" text-anchor="middle" textLength="9.4" lengthAdjust="spacingAndGlyphs">10</text>
<text x="91.6" y="420.9" font-size="7.80" text-anchor="middle" textLength="9.4" lengthAdjust="spacingAndGlyphs">20</text>
<text x="120.2" y="420.9" font-size="7.80" text-anchor="middle" textLength="9.4" lengthAdjust="spacingAndGlyphs">30</text>
<text x="148.9" y="420.9" font-size="7.80" text-anchor="middle" textLength="9.4" lengthAdjust="spacingAndGlyphs">40</text>
<text x="177.5" y="420.9" font-size="7.80" text-anchor="middle" textLength="9.4" lengthAdjust="spacingAndGlyphs">50</text>
<text x="30.7" y="405.1" font-size="7.80" text-anchor="end" textLength="10.8" lengthAdjust="spacingAndGlyphs">−8</text>
<text x="30.7" y="386.4" font-size="7.80" text-anchor="end" textLength="10.8" lengthAdjust="spacingAndGlyphs">−6</text>
<text x="30.7" y="367.6" font-size="7.80" text-anchor="end" textLength="10.8" lengthAdjust="spacingAndGlyphs">−4</text>
<text x="30.7" y="348.9" font-size="7.80" text-anchor="end" textLength="10.8" lengthAdjust="spacingAndGlyphs">−2</text>
<text x="30.7" y="330.1" font-size="7.80" text-anchor="end" textLength="4.7" lengthAdjust="spacingAndGlyphs">0</text>
<text x="30.7" y="311.4" font-size="7.80" text-anchor="end" textLength="4.7" lengthAdjust="spacingAndGlyphs">2</text>
<text x="30.7" y="292.6" font-size="7.80" text-anchor="end" textLength="4.7" lengthAdjust="spacingAndGlyphs">4</text>
<text x="30.7" y="273.9" font-size="7.80" text-anchor="end" textLength="4.7" lengthAdjust="spacingAndGlyphs">6</text>
<text x="30.7" y="255.1" font-size="7.80" text-anchor="end" textLength="4.7" lengthAdjust="spacingAndGlyphs">8</text>
<text x="30.7" y="236.4" font-size="7.80" text-anchor="end" textLength="9.4" lengthAdjust="spacingAndGlyphs">10</text>
<text x="37.3" y="241.6" font-size="7.80" textLength="10.3" lengthAdjust="spacingAndGlyphs">(e)</text>
<text x="106.2" y="429.6" font-size="7.80" text-anchor="middle" textLength="37.4" lengthAdjust="spacingAndGlyphs">Time [kyr]</text>
<rect x="192.0" y="232.6" width="143.2" height="178.1" fill="#fff"/>
<rect x="192.0" y="331.02" width="143.2" height="14.06" fill="#f4fcd0"/>
<line x1="192.0" y1="326.34" x2="335.2" y2="326.34" stroke="#1a1a1a" stroke-width="1.0" stroke-dasharray="2.6 1.5"/>
<g clip-path="url(#kf)" fill="none" stroke-width="1" stroke-linejoin="round">
<path d="M192.0 268.2l1.4 .3l1.5 .2l1.4 -.1l1.4 -.2l1.5 .1l1.4 .1l1.4 -.4l1.5 .2l2.8 0l2.9 .2l2.8 .3l2.9 .4l2.9 .1l2.8 .1l4.3 -.3l4.3 .4l4.3 .1l4.3 -.3l4.3 -.1l4.3 -.2l4.3 -.3l4.3 .4l4.3 0l4.3 .1l4.3 -.5l4.3 0l4.3 -.2l4.3 -.6l4.3 .1l4.3 -.1l4.3 -.2l4.3 0l4.3 -.4l4.3 -.3l4.3 -.3l4.3 0l4.2 .1l4.3 0l4.3 0l7.2 .2" stroke="#1612ff"/>
<path d="M192.0 287.4l1.4 -1l1.5 -.6l1.4 -.5l1.4 -.7l1.5 -.7l1.4 -.7l1.4 -1.1l1.5 -.1l2.8 -1.2l2.9 -1.1l2.8 -.9l2.9 -.7l2.9 -.4l2.8 -.6l4.3 -1.3l4.3 -1.3l4.3 -.6l4.3 -.8l4.3 -.8l4.3 -.9l4.3 -.4l4.3 -.6l4.3 -.5l4.3 .1l4.3 -.3l4.3 .2l4.3 .3l4.3 -.2l4.3 0l4.3 -.6l4.3 -.6l4.3 -.2l4.3 -.2l4.3 -.1l4.3 -.1l4.3 -.2l4.2 -.3l4.3 0l4.3 .2l7.2 -.1" stroke="#1612ff"/>
<path d="M192.0 287.9l1.4 -.9l1.5 -.3l1.4 -.7l1.4 0l1.5 -.1l1.4 -.5l1.4 -.5l1.5 -.2l2.8 -1.2l2.9 -.4l2.8 -.5l2.9 -.2l2.9 -.8l2.8 -.4l4.3 -.5l4.3 .2l4.3 -.4l4.3 -.2l4.3 -.3l4.3 -.5l4.3 .1l4.3 -.2l4.3 -.4l4.3 -.1l4.3 .1l4.3 .2l4.3 .1l4.3 .2l4.3 -.4l4.3 -.2l4.3 .3l4.3 -.1l4.3 .2l4.3 .8l4.3 -.7l4.3 -.5l4.2 .4l4.3 0l4.3 -.2l7.2 0" stroke="#6262a8"/>
<path d="M192.0 288.8l1.4 -.2l1.5 -.1l1.4 -.5l1.4 -.2l1.5 0l1.4 -.4l1.4 .4l1.5 -1.1l2.8 .3l2.9 -.6l2.8 -.7l2.9 -.6l2.9 -.4l2.8 -.9l4.3 .3l4.3 -.3l4.3 -.4l4.3 0l4.3 0l4.3 -.8l4.3 .2l4.3 .1l4.3 -.1l4.3 -.1l4.3 -.2l4.3 0l4.3 -.3l4.3 -.1l4.3 -.3l4.3 -.6l4.3 .5l4.3 -.8l4.3 .4l4.3 -.2l4.3 .1l4.3 .2l4.2 1l4.3 -.9l4.3 .4l7.2 .4" stroke="#1612ff"/>
<path d="M192.0 289.8l1.4 -1l1.5 -.8l1.4 -.2l1.4 0l1.5 -.3l1.4 .7l1.4 -.1l1.5 -.1l2.8 0l2.9 -.3l2.8 .4l2.9 -.7l2.9 -.7l2.8 .5l4.3 -.3l4.3 -.9l4.3 -.3l4.3 .5l4.3 .3l4.3 -.6l4.3 -.9l4.3 .6l4.3 -.1l4.3 .3l4.3 0l4.3 -.2l4.3 -.1l4.3 .3l4.3 -1.1l4.3 .2l4.3 .1l4.3 -.4l4.3 .1l4.3 .2l4.3 -.4l4.3 .6l4.2 -.3l4.3 -.4l4.3 -.2l7.2 .3" stroke="#1612ff"/>
<path d="M192.0 315.9l1.4 -.1l1.5 .1l1.4 .4l1.4 -.1l1.5 -.2l1.4 -.7l1.4 0l1.5 .3l2.8 0l2.9 .2l2.8 0l2.9 1.1l2.9 .5l2.8 .2l4.3 -.8l4.3 -.3l4.3 -.4l4.3 -.8l4.3 .4l4.3 -.7l4.3 -.3l4.3 .4l4.3 -.8l4.3 .8l4.3 .6l4.3 -.1l4.3 -.4l4.3 0l4.3 1.1l4.3 -.2l4.3 -.2l4.3 -1.6l4.3 -.7l4.3 .1l4.3 .8l4.3 -.1l4.2 .6l4.3 -.2l4.3 -.2l7.2 .2" stroke="#6262a8"/>
<path d="M192.0 309.4l1.4 .3l1.5 .5l1.4 -.2l1.4 -.3l1.5 -.4l1.4 -.6l1.4 0l1.5 1l2.8 -1l2.9 -.2l2.8 0l2.9 -.3l2.9 1.5l2.8 .5l4.3 .5l4.3 -.5l4.3 .9l4.3 .3l4.3 -.8l4.3 -.1l4.3 .4l4.3 -.9l4.3 1.1l4.3 -.1l4.3 .3l4.3 -.2l4.3 .4l4.3 .5l4.3 -.1l4.3 .8l4.3 -.5l4.3 .2l4.3 -.6l4.3 .3l4.3 .3l4.3 -.3l4.2 -.7l4.3 1.3l4.3 -.2l7.2 -.4" stroke="#1612ff"/>
<path d="M192.0 317.3l1.4 -.8l1.5 .6l1.4 .5l1.4 1.1l1.5 .3l1.4 .3l1.4 -1.2l1.5 -.7l2.8 .6l2.9 -1l2.8 -.3l2.9 .3l2.9 -.3l2.8 0l4.3 .6l4.3 .9l4.3 .3l4.3 -.1l4.3 0l4.3 .2l4.3 -.7l4.3 .5l4.3 -.6l4.3 .2l4.3 -.1l4.3 .5l4.3 -.1l4.3 .2l4.3 .7l4.3 -.3l4.3 -.2l4.3 -.6l4.3 -.2l4.3 .4l4.3 .2l4.3 1l4.2 .2l4.3 -1l4.3 -1l7.2 -.4" stroke="#1612ff"/>
<path d="M192.0 315.2l1.4 .6l1.5 -.7l1.4 -.5l1.4 .1l1.5 .4l1.4 .4l1.4 .4l1.5 .5l2.8 1.1l2.9 -.3l2.8 .2l2.9 0l2.9 -1.1l2.8 -.1l4.3 .6l4.3 -.2l4.3 .9l4.3 -.5l4.3 0l4.3 .2l4.3 -.2l4.3 -.6l4.3 .5l4.3 .7l4.3 -1l4.3 .2l4.3 -.5l4.3 .7l4.3 0l4.3 .6l4.3 -.3l4.3 .4l4.3 .4l4.3 -.8l4.3 0l4.3 1.3l4.2 .1l4.3 .4l4.3 .5l7.2 0" stroke="#1612ff"/>
<path d="M192.0 305.6l1.4 -.5l1.5 1l1.4 -.5l1.4 -.2l1.5 .4l1.4 -.2l1.4 .5l1.5 .2l2.8 .6l2.9 -.4l2.8 -1l2.9 .6l2.9 -.8l2.8 1.5l4.3 .4l4.3 .4l4.3 -1.3l4.3 .3l4.3 -.6l4.3 1.3l4.3 -.3l4.3 -.5l4.3 -.1l4.3 1.7l4.3 -.5l4.3 -.8l4.3 -1l4.3 -.2l4.3 1.2l4.3 0l4.3 -.7l4.3 .5l4.3 -.4l4.3 .3l4.3 -.2l4.3 -.5l4.2 .5l4.3 -1.8l4.3 .2l7.2 .1" stroke="#3732e6"/>
<path d="M192.0 304.9l1.4 0l1.5 .1l1.4 1.2l1.4 .8l1.5 -.2l1.4 -.3l1.4 -.5l1.5 .5l2.8 -.5l2.9 .1l2.8 .1l2.9 0l2.9 -.5l2.8 -.3l4.3 -.3l4.3 .5l4.3 .2l4.3 .5l4.3 .2l4.3 0l4.3 .1l4.3 -.5l4.3 -.2l4.3 -.3l4.3 0l4.3 -.4l4.3 0l4.3 -.3l4.3 0l4.3 -.1l4.3 .2l4.3 .7l4.3 .7l4.3 -1l4.3 0l4.3 -.1l4.2 .2l4.3 .3l4.3 -1.3l7.2 .8" stroke="#6262a8"/>
<path d="M192.0 291.6l1.4 .3l1.5 .3l1.4 -.5l1.4 .8l1.5 -.3l1.4 -.8l1.4 -.3l1.5 1l2.8 1.9l2.9 -.7l2.8 -.3l2.9 .4l2.9 -.8l2.8 .4l4.3 .1l4.3 .8l4.3 -.2l4.3 .4l4.3 .3l4.3 -.7l4.3 0l4.3 1l4.3 -.4l4.3 -.5l4.3 .7l4.3 .2l4.3 0l4.3 .1l4.3 -.1l4.3 -.3l4.3 .3l4.3 -1.1l4.3 .6l4.3 .5l4.3 -1.1l4.3 -1.1l4.2 .4l4.3 .6l4.3 .9l7.2 -.5" stroke="#3732e6"/>
<path d="M192.0 310.9l1.4 -.9l1.5 -.3l1.4 .1l1.4 .3l1.5 0l1.4 -.3l1.4 -.1l1.5 -.1l2.8 .2l2.9 0l2.8 -.2l2.9 .4l2.9 .8l2.8 -.6l4.3 0l4.3 .5l4.3 0l4.3 .3l4.3 .8l4.3 0l4.3 .5l4.3 -.2l4.3 -.1l4.3 -.6l4.3 .1l4.3 -.2l4.3 .1l4.3 .2l4.3 .6l4.3 -.6l4.3 -.1l4.3 .2l4.3 -.1l4.3 .1l4.3 .3l4.3 -.2l4.2 -.6l4.3 .2l4.3 .6l7.2 .1" stroke="#1612ff"/>
<path d="M192.0 308.3l1.4 -.1l1.5 .6l1.4 0l1.4 -1.1l1.5 0l1.4 -.2l1.4 .1l1.5 .1l2.8 -.3l2.9 -.2l2.8 -1l2.9 .2l2.9 .2l2.8 .3l4.3 .5l4.3 .6l4.3 -.6l4.3 .6l4.3 -.9l4.3 -.4l4.3 .1l4.3 .4l4.3 -.2l4.3 -.1l4.3 -.6l4.3 .4l4.3 .1l4.3 -.1l4.3 .1l4.3 .1l4.3 .6l4.3 .5l4.3 -.1l4.3 -.2l4.3 -.7l4.3 -1.1l4.2 -.6l4.3 0l4.3 -.6l7.2 .4" stroke="#6262a8"/>
<path d="M192.0 311.1l1.4 -.9l1.5 .8l1.4 -.4l1.4 .6l1.5 1l1.4 -.2l1.4 -.1l1.5 .9l2.8 .6l2.9 .4l2.8 -.8l2.9 -.4l2.9 -.1l2.8 -.2l4.3 .5l4.3 -.2l4.3 .6l4.3 .9l4.3 .4l4.3 -.4l4.3 -.2l4.3 -.8l4.3 1.2l4.3 0l4.3 -.5l4.3 .6l4.3 -.3l4.3 .1l4.3 .6l4.3 -1l4.3 .9l4.3 -1l4.3 .3l4.3 .5l4.3 .4l4.3 .2l4.2 .3l4.3 -.6l4.3 1l7.2 -1.3" stroke="#1612ff"/>
<path d="M192.0 315.2l1.4 .1l1.5 -.3l1.4 .4l1.4 0l1.5 -.3l1.4 1.2l1.4 -1.7l1.5 .9l2.8 -.4l2.9 -.9l2.8 .7l2.9 -.1l2.9 -1.2l2.8 .4l4.3 -.7l4.3 0l4.3 .1l4.3 -.3l4.3 .4l4.3 .4l4.3 -.6l4.3 0l4.3 -.1l4.3 1.1l4.3 .1l4.3 -.9l4.3 -.5l4.3 0l4.3 .7l4.3 .6l4.3 -.3l4.3 -1l4.3 .3l4.3 -.8l4.3 .6l4.3 -.6l4.2 1.1l4.3 .1l4.3 .9l7.2 -.5" stroke="#1612ff"/>
<path d="M192.0 294.0l1.4 .8l1.5 .7l1.4 -.6l1.4 -1l1.5 .6l1.4 .5l1.4 -.1l1.5 .6l2.8 .4l2.9 -.5l2.8 .1l2.9 .3l2.9 .7l2.8 -1l4.3 .8l4.3 .2l4.3 1l4.3 .4l4.3 -.1l4.3 .2l4.3 -.4l4.3 -.1l4.3 1.1l4.3 1.6l4.3 -1.3l4.3 .2l4.3 -1.4l4.3 0l4.3 .6l4.3 -.5l4.3 .2l4.3 -.1l4.3 .7l4.3 -.7l4.3 -.8l4.3 .5l4.2 -1.3l4.3 .7l4.3 0l7.2 1.4" stroke="#6262a8"/>
<path d="M192.0 321.9l1.4 -.1l1.5 -.2l1.4 .1l1.4 -.1l1.5 .9l1.4 .2l1.4 .9l1.5 .1l2.8 -.5l2.9 .6l2.8 .1l2.9 .1l2.9 -.2l2.8 -.8l4.3 -.2l4.3 -.2l4.3 1.3l4.3 .2l4.3 -.8l4.3 .7l4.3 .2l4.3 .6l4.3 -1.4l4.3 .4l4.3 .5l4.3 -.7l4.3 -1l4.3 -.2l4.3 -.6l4.3 .1l4.3 .4l4.3 .6l4.3 .5l4.3 .5l4.3 -.4l4.3 0l4.2 -.1l4.3 -.5l4.3 .1l7.2 1.2" stroke="#6262a8"/>
<path d="M192.0 321.0l1.4 .2l1.5 .1l1.4 -.5l1.4 -.1l1.5 -.5l1.4 -.1l1.4 .1l1.5 -.3l2.8 -.4l2.9 -.1l2.8 .2l2.9 0l2.9 .3l2.8 -.1l4.3 -.3l4.3 -.6l4.3 -.5l4.3 -.2l4.3 -.2l4.3 .1l4.3 -.8l4.3 -.2l4.3 -.6l4.3 .3l4.3 .3l4.3 -.1l4.3 .3l4.3 .2l4.3 .5l4.3 -.1l4.3 .1l4.3 -.2l4.3 .3l4.3 .7l4.3 -.2l4.3 -.4l4.2 .5l4.3 .3l4.3 0l7.2 0" stroke="#6262a8"/>
<path d="M192.0 316.1l1.4 -.1l1.5 -1l1.4 -.2l1.4 -.3l1.5 .8l1.4 .1l1.4 1l1.5 -1.1l2.8 -.1l2.9 1.4l2.8 .9l2.9 -.5l2.9 -.2l2.8 .1l4.3 -.4l4.3 -1.1l4.3 0l4.3 1.2l4.3 0l4.3 .7l4.3 .2l4.3 -.4l4.3 0l4.3 .4l4.3 -.2l4.3 .3l4.3 -.5l4.3 0l4.3 -.4l4.3 .1l4.3 -.5l4.3 .1l4.3 0l4.3 .3l4.3 -.1l4.3 .9l4.2 -1.6l4.3 .5l4.3 -.1l7.2 .3" stroke="#1612ff"/>
<path d="M192.0 312.6l1.4 .4l1.5 .5l1.4 -1.3l1.4 .7l1.5 .4l1.4 -.4l1.4 -1.1l1.5 1l2.8 .5l2.9 -.5l2.8 -.5l2.9 .5l2.9 .7l2.8 0l4.3 -1l4.3 -.4l4.3 -.8l4.3 -.1l4.3 -.2l4.3 -.5l4.3 0l4.3 -.3l4.3 .5l4.3 .2l4.3 -.5l4.3 0l4.3 .3l4.3 -.5l4.3 -.4l4.3 0l4.3 .4l4.3 -.6l4.3 -1.4l4.3 .7l4.3 1l4.3 .4l4.2 .4l4.3 .5l4.3 .3l7.2 -.9" stroke="#1612ff"/>
<path d="M192.0 291.8l1.4 .4l1.5 .2l1.4 .6l1.4 -.6l1.5 -.4l1.4 .4l1.4 .2l1.5 .1l2.8 0l2.9 -.2l2.8 .2l2.9 0l2.9 .9l2.8 .2l4.3 .8l4.3 -.9l4.3 -.5l4.3 -.1l4.3 -.3l4.3 -.5l4.3 0l4.3 1l4.3 .3l4.3 1.2l4.3 .2l4.3 .4l4.3 -.2l4.3 -.3l4.3 .3l4.3 0l4.3 -.3l4.3 0l4.3 -.1l4.3 1l4.3 -.1l4.3 -.6l4.2 -.2l4.3 .5l4.3 -.1l7.2 -.2" stroke="#3732e6"/>
<path d="M192.0 309.6l1.4 -.9l1.5 .5l1.4 .4l1.4 -.1l1.5 .4l1.4 0l1.4 1.1l1.5 -.2l2.8 0l2.9 .6l2.8 -.7l2.9 .2l2.9 .1l2.8 .6l4.3 .7l4.3 .1l4.3 .5l4.3 -.5l4.3 -.6l4.3 .2l4.3 .6l4.3 0l4.3 .3l4.3 -.4l4.3 -.3l4.3 .1l4.3 -.2l4.3 -.6l4.3 -.8l4.3 .5l4.3 -.3l4.3 .2l4.3 .6l4.3 -.6l4.3 -.1l4.3 .1l4.2 -.1l4.3 .2l4.3 .6l7.2 -.9" stroke="#3732e6"/>
<path d="M192.0 305.1l1.4 -.4l1.5 .1l1.4 -.4l1.4 .1l1.5 -1.2l1.4 .3l1.4 -.2l1.5 -.1l2.8 .1l2.9 -.5l2.8 .1l2.9 .1l2.9 -.1l2.8 .2l4.3 -.7l4.3 -.4l4.3 -.5l4.3 .6l4.3 -.2l4.3 .2l4.3 -.2l4.3 -.7l4.3 -.1l4.3 .1l4.3 -.5l4.3 -.4l4.3 -.7l4.3 1.1l4.3 -.1l4.3 .2l4.3 .4l4.3 -.1l4.3 .4l4.3 .9l4.3 .1l4.3 -.3l4.2 -1.1l4.3 .2l4.3 .4l7.2 .7" stroke="#6262a8"/>
<path d="M192.0 313.4l1.4 1.2l1.5 -.4l1.4 .6l1.4 1.1l1.5 -1.2l1.4 -.6l1.4 -.4l1.5 -.4l2.8 .4l2.9 -.8l2.8 .5l2.9 -1.2l2.9 -.1l2.8 1.1l4.3 -.7l4.3 -1.1l4.3 .3l4.3 -.4l4.3 .3l4.3 .5l4.3 1.4l4.3 -.9l4.3 .1l4.3 -.3l4.3 .6l4.3 .3l4.3 -.8l4.3 .2l4.3 .1l4.3 .6l4.3 -.4l4.3 -.6l4.3 .3l4.3 0l4.3 .5l4.3 -.9l4.2 .3l4.3 0l4.3 -1l7.2 .3" stroke="#3732e6"/>
<path d="M192.0 303.9l1.4 .1l1.5 -.4l1.4 -.5l1.4 .6l1.5 -.7l1.4 -.2l1.4 .1l1.5 1.4l2.8 -.1l2.9 -.7l2.8 .3l2.9 -1.1l2.9 .3l2.8 .8l4.3 -.2l4.3 0l4.3 -.2l4.3 .3l4.3 -.5l4.3 .5l4.3 .1l4.3 .8l4.3 .3l4.3 -.2l4.3 .3l4.3 .1l4.3 0l4.3 -.2l4.3 -.5l4.3 -.4l4.3 -.4l4.3 .1l4.3 .4l4.3 .9l4.3 .1l4.3 .2l4.2 .8l4.3 -1.2l4.3 .9l7.2 -.5" stroke="#3732e6"/>
<path d="M192.0 304.7l1.4 -.9l1.5 .6l1.4 .8l1.4 .4l1.5 .2l1.4 -.2l1.4 -.4l1.5 .7l2.8 -.4l2.9 -1.2l2.8 .4l2.9 .1l2.9 -.3l2.8 -.6l4.3 .5l4.3 .6l4.3 .5l4.3 -.7l4.3 -.5l4.3 1.2l4.3 .9l4.3 .3l4.3 .4l4.3 -.7l4.3 -.4l4.3 -1.2l4.3 -.4l4.3 0l4.3 -.5l4.3 .6l4.3 .8l4.3 -.1l4.3 -.6l4.3 .9l4.3 -.6l4.3 -.5l4.2 .4l4.3 -.1l4.3 .2l7.2 -.1" stroke="#3732e6"/>
<path d="M192.0 312.6l1.4 .7l1.5 .4l1.4 -.8l1.4 -.1l1.5 -.1l1.4 0l1.4 .2l1.5 -.4l2.8 -.2l2.9 -.3l2.8 -.7l2.9 .1l2.9 -1l2.8 .8l4.3 -1.7l4.3 .4l4.3 -.5l4.3 -.7l4.3 0l4.3 -.4l4.3 0l4.3 .8l4.3 -.3l4.3 -.7l4.3 .3l4.3 .7l4.3 .1l4.3 -.4l4.3 -.2l4.3 -.6l4.3 -.2l4.3 -.2l4.3 1l4.3 -1.1l4.3 .1l4.3 -.3l4.2 .3l4.3 .2l4.3 0l7.2 -.6" stroke="#1612ff"/>
<path d="M192.0 306.4l1.4 .3l1.5 -.6l1.4 .1l1.4 -.3l1.5 -.6l1.4 1.3l1.4 -.9l1.5 .1l2.8 .4l2.9 1.1l2.8 .1l2.9 1.1l2.9 -.3l2.8 0l4.3 -1l4.3 .3l4.3 -.5l4.3 -.4l4.3 -.7l4.3 .5l4.3 -.1l4.3 1l4.3 .6l4.3 .2l4.3 -.1l4.3 .6l4.3 0l4.3 -.4l4.3 .1l4.3 0l4.3 .4l4.3 -.8l4.3 -.8l4.3 .1l4.3 .2l4.3 -.7l4.2 .1l4.3 .5l4.3 .8l7.2 .3" stroke="#3732e6"/>
<path d="M192.0 314.2l1.4 -.6l1.5 .3l1.4 -.1l1.4 .6l1.5 .6l1.4 .2l1.4 -.2l1.5 .2l2.8 .8l2.9 -.5l2.8 0l2.9 0l2.9 .1l2.8 .9l4.3 -1l4.3 .1l4.3 -.3l4.3 -.6l4.3 -.4l4.3 .1l4.3 .1l4.3 0l4.3 -.2l4.3 -.1l4.3 .4l4.3 0l4.3 -.1l4.3 -.1l4.3 .1l4.3 -.4l4.3 .1l4.3 -.1l4.3 .2l4.3 .5l4.3 .5l4.3 .1l4.2 -.3l4.3 -.5l4.3 .2l7.2 .3" stroke="#6262a8"/>
<path d="M192.0 292.1l1.4 1.2l1.5 .1l1.4 .3l1.4 .3l1.5 .8l1.4 -.5l1.4 -.8l1.5 1.2l2.8 .2l2.9 0l2.8 -1l2.9 .8l2.9 .9l2.8 .2l4.3 -.9l4.3 .3l4.3 .2l4.3 -.7l4.3 1.6l4.3 1.3l4.3 -.6l4.3 -.5l4.3 .8l4.3 -.4l4.3 0l4.3 -.2l4.3 .5l4.3 .2l4.3 .3l4.3 -.2l4.3 0l4.3 -1.1l4.3 -.3l4.3 1l4.3 -.3l4.3 -.8l4.2 0l4.3 -.5l4.3 .3l7.2 -.2" stroke="#1612ff"/>
<path d="M192.0 303.4l1.4 1.4l1.5 -.9l1.4 -.3l1.4 -.4l1.5 -.6l1.4 -.1l1.4 .5l1.5 -.5l2.8 -.6l2.9 -.6l2.8 -1.6l2.9 .8l2.9 0l2.8 -.4l4.3 .4l4.3 .9l4.3 .2l4.3 -1l4.3 .1l4.3 -.5l4.3 .6l4.3 -.4l4.3 .5l4.3 .5l4.3 -.3l4.3 -.2l4.3 -1.2l4.3 1.4l4.3 -.5l4.3 -1.3l4.3 -.8l4.3 .7l4.3 .7l4.3 .5l4.3 -.2l4.3 -.1l4.2 -.2l4.3 -.4l4.3 1l7.2 .8" stroke="#6262a8"/>
<path d="M192.0 317.2l1.4 -.2l1.5 -.1l1.4 -.5l1.4 .3l1.5 -.1l1.4 -.3l1.4 -.2l1.5 -.1l2.8 .2l2.9 .4l2.8 0l2.9 .1l2.9 -.4l2.8 0l4.3 -.2l4.3 .5l4.3 -.5l4.3 .3l4.3 .4l4.3 .3l4.3 -.1l4.3 -.6l4.3 -.3l4.3 .3l4.3 -.1l4.3 -.1l4.3 .5l4.3 .1l4.3 .5l4.3 0l4.3 .6l4.3 -.1l4.3 -.1l4.3 -.1l4.3 -.1l4.3 -.7l4.2 -.1l4.3 -.2l4.3 -.4l7.2 -.4" stroke="#1612ff"/>
<path d="M192.0 294.5l1.4 .1l1.5 .2l1.4 -.6l1.4 .3l1.5 -1l1.4 -.3l1.4 .8l1.5 -.2l2.8 2.4l2.9 -.9l2.8 0l2.9 0l2.9 1.4l2.8 -1.6l4.3 .5l4.3 .5l4.3 -.5l4.3 .5l4.3 .8l4.3 -.3l4.3 .9l4.3 -.4l4.3 0l4.3 -.6l4.3 1.1l4.3 -.8l4.3 .1l4.3 -1.1l4.3 .9l4.3 -1l4.3 .1l4.3 -.1l4.3 1l4.3 -.1l4.3 -.1l4.3 .8l4.2 .9l4.3 .5l4.3 -1l7.2 0" stroke="#1612ff"/>
<path d="M192.0 309.4l1.4 -.6l1.5 .1l1.4 .1l1.4 1l1.5 -.2l1.4 .5l1.4 .2l1.5 -.6l2.8 .8l2.9 .1l2.8 -.3l2.9 -.5l2.9 .5l2.8 0l4.3 0l4.3 .9l4.3 1.2l4.3 .9l4.3 -.7l4.3 -.2l4.3 .6l4.3 .1l4.3 0l4.3 0l4.3 -.2l4.3 -1.4l4.3 .5l4.3 0l4.3 .4l4.3 .3l4.3 .4l4.3 0l4.3 .1l4.3 -.4l4.3 -.2l4.3 .4l4.2 -1.2l4.3 .8l4.3 -.3l7.2 -1.1" stroke="#6262a8"/>
<path d="M192.0 308.6l1.4 -.9l1.5 .1l1.4 .6l1.4 -.7l1.5 .7l1.4 -.6l1.4 .6l1.5 -.2l2.8 .9l2.9 .3l2.8 .6l2.9 .3l2.9 -.3l2.8 0l4.3 -.2l4.3 -.9l4.3 .2l4.3 1.3l4.3 .1l4.3 -.2l4.3 -.8l4.3 -.7l4.3 -.5l4.3 .5l4.3 -.3l4.3 1.2l4.3 -.8l4.3 -.2l4.3 -.1l4.3 .5l4.3 .1l4.3 .5l4.3 -.3l4.3 .9l4.3 -.7l4.3 -.4l4.2 -1.2l4.3 .4l4.3 .3l7.2 .1" stroke="#1612ff"/>
<path d="M192.0 300.5l1.4 .3l1.5 .9l1.4 .6l1.4 0l1.5 -.5l1.4 .1l1.4 -.4l1.5 -.4l2.8 -.2l2.9 .7l2.8 .5l2.9 1.3l2.9 .3l2.8 -.3l4.3 .6l4.3 -.8l4.3 -.7l4.3 .5l4.3 -.4l4.3 1.1l4.3 .7l4.3 .1l4.3 -.1l4.3 .1l4.3 .4l4.3 -1.3l4.3 -.1l4.3 0l4.3 -.3l4.3 .1l4.3 .3l4.3 .5l4.3 1l4.3 -1.1l4.3 .6l4.3 .9l4.2 .3l4.3 .6l4.3 -1.6l7.2 -.3" stroke="#1612ff"/>
<path d="M192.0 292.4l1.4 .1l1.5 .3l1.4 0l1.4 .4l1.5 -.7l1.4 -.3l1.4 .2l1.5 1l2.8 -.4l2.9 -.4l2.8 .2l2.9 .8l2.9 -.2l2.8 -.5l4.3 1.2l4.3 -.3l4.3 1l4.3 -.2l4.3 -1l4.3 .1l4.3 -.2l4.3 .3l4.3 .1l4.3 -1.1l4.3 -.4l4.3 .6l4.3 .5l4.3 .2l4.3 -1l4.3 .3l4.3 -.3l4.3 .6l4.3 .9l4.3 -.6l4.3 .2l4.3 .6l4.2 .4l4.3 .3l4.3 .2l7.2 .7" stroke="#3732e6"/>
<path d="M192.0 323.7l1.4 -.1l1.5 -.6l1.4 -.3l1.4 0l1.5 .6l1.4 .7l1.4 .4l1.5 .2l2.8 .1l2.9 .5l2.8 -1.2l2.9 -.1l2.9 1l2.8 .4l4.3 .4l4.3 -.5l4.3 -.8l4.3 .4l4.3 -.5l4.3 .1l4.3 -.7l4.3 -.7l4.3 0l4.3 -.2l4.3 .2l4.3 .4l4.3 .8l4.3 -.3l4.3 .1l4.3 .2l4.3 0l4.3 0l4.3 .5l4.3 .2l4.3 -.8l4.3 .1l4.2 -.8l4.3 .7l4.3 .7l7.2 -.2" stroke="#3732e6"/>
<path d="M192.0 308.3l1.4 .1l1.5 .1l1.4 .8l1.4 -.1l1.5 -.2l1.4 -.6l1.4 .7l1.5 .3l2.8 .5l2.9 -.5l2.8 1.2l2.9 .3l2.9 -1.2l2.8 -.2l4.3 .7l4.3 0l4.3 -.3l4.3 -.2l4.3 .2l4.3 .5l4.3 -.3l4.3 .1l4.3 -.3l4.3 0l4.3 .4l4.3 -.6l4.3 .4l4.3 0l4.3 .4l4.3 .2l4.3 .1l4.3 .3l4.3 -.1l4.3 -.6l4.3 -.7l4.3 -.4l4.2 .4l4.3 -.3l4.3 .1l7.2 -.5" stroke="#1612ff"/>
<path d="M192.0 317.4l1.4 -.3l1.5 .3l1.4 -.2l1.4 .2l1.5 .7l1.4 .2l1.4 0l1.5 0l2.8 .7l2.9 .2l2.8 .1l2.9 -.2l2.9 -.2l2.8 .2l4.3 .4l4.3 -.3l4.3 0l4.3 -.4l4.3 .2l4.3 -.3l4.3 .3l4.3 -.1l4.3 0l4.3 -.2l4.3 .4l4.3 0l4.3 .2l4.3 0l4.3 -.3l4.3 -1l4.3 .2l4.3 -.1l4.3 .2l4.3 -.3l4.3 .1l4.3 -.2l4.2 .1l4.3 -.6l4.3 -.1l7.2 .9" stroke="#6262a8"/>
<path d="M192.0 291.2l1.4 .5l1.5 -.3l1.4 1.1l1.4 -.9l1.5 -.7l1.4 -.3l1.4 .2l1.5 0l2.8 .2l2.9 -1l2.8 -.3l2.9 -1.3l2.9 .6l2.8 -.8l4.3 .7l4.3 .2l4.3 .8l4.3 -.4l4.3 0l4.3 -.4l4.3 -1l4.3 .3l4.3 -.1l4.3 -.4l4.3 .3l4.3 .6l4.3 -.2l4.3 -.2l4.3 -.4l4.3 -.3l4.3 .7l4.3 -.1l4.3 -.7l4.3 .6l4.3 0l4.3 .6l4.2 -.1l4.3 -1.1l4.3 .2l7.2 .9" stroke="#3732e6"/>
<path d="M192.0 308.7l1.4 .7l1.5 .4l1.4 .1l1.4 .6l1.5 -.5l1.4 .8l1.4 .3l1.5 .4l2.8 .2l2.9 -.4l2.8 -.2l2.9 -.3l2.9 -.1l2.8 1l4.3 -.1l4.3 .8l4.3 .1l4.3 .1l4.3 .1l4.3 -.3l4.3 .2l4.3 -.7l4.3 -.2l4.3 -.4l4.3 -.1l4.3 -.1l4.3 .2l4.3 -.6l4.3 .7l4.3 0l4.3 .2l4.3 .2l4.3 -.1l4.3 .4l4.3 -.3l4.3 -.2l4.2 .1l4.3 -.2l4.3 .5l7.2 .8" stroke="#1612ff"/>
<path d="M192.0 314.1l1.4 -.7l1.5 -1.3l1.4 .2l1.4 -.2l1.5 .4l1.4 .6l1.4 .7l1.5 .3l2.8 -1.2l2.9 -.3l2.8 .1l2.9 -.1l2.9 .3l2.8 -.2l4.3 -.1l4.3 -.6l4.3 -.7l4.3 1.1l4.3 -.4l4.3 -1l4.3 .7l4.3 .1l4.3 -.2l4.3 -.8l4.3 -.3l4.3 .2l4.3 -.2l4.3 -.6l4.3 0l4.3 -.9l4.3 .1l4.3 1l4.3 .7l4.3 .1l4.3 .1l4.3 -.4l4.2 -.2l4.3 -1l4.3 -.2l7.2 -.6" stroke="#6262a8"/>
<path d="M192.0 316.7l1.4 -.4l1.5 .3l1.4 -1.3l1.4 -.8l1.5 1.3l1.4 .3l1.4 -.2l1.5 -.6l2.8 -.1l2.9 .8l2.8 -.9l2.9 0l2.9 -1l2.8 -.2l4.3 -.7l4.3 -.4l4.3 -.4l4.3 .6l4.3 -.5l4.3 .1l4.3 1.1l4.3 .2l4.3 .2l4.3 -.4l4.3 -.4l4.3 .8l4.3 -.6l4.3 .1l4.3 .7l4.3 -.7l4.3 .6l4.3 .7l4.3 -.8l4.3 -.7l4.3 .5l4.3 -.8l4.2 -.5l4.3 .5l4.3 -1.2l7.2 .4" stroke="#1612ff"/>
<path d="M192.0 310.7l1.4 1l1.5 -1l1.4 -1l1.4 -1l1.5 2.1l1.4 -.5l1.4 -.3l1.5 1.9l2.8 0l2.9 -.4l2.8 -1.2l2.9 .4l2.9 -.4l2.8 -.1l4.3 -.4l4.3 .1l4.3 -.6l4.3 -.6l4.3 .9l4.3 -.8l4.3 .5l4.3 .2l4.3 -.8l4.3 0l4.3 -.3l4.3 -.3l4.3 -.2l4.3 .5l4.3 .7l4.3 -.4l4.3 -.4l4.3 -.1l4.3 .2l4.3 -.4l4.3 .2l4.3 1l4.2 -.3l4.3 -.3l4.3 -.4l7.2 .7" stroke="#6262a8"/>
<path d="M192.0 312.8l1.4 .1l1.5 -.6l1.4 .3l1.4 -.3l1.5 0l1.4 -.6l1.4 .6l1.5 .7l2.8 0l2.9 .9l2.8 .7l2.9 .2l2.9 .2l2.8 .9l4.3 .1l4.3 .3l4.3 .1l4.3 0l4.3 .2l4.3 -.5l4.3 0l4.3 .2l4.3 .1l4.3 -.4l4.3 -.2l4.3 -.4l4.3 .4l4.3 .1l4.3 -.7l4.3 .3l4.3 -.5l4.3 0l4.3 .5l4.3 .9l4.3 -.2l4.3 .5l4.2 .3l4.3 .8l4.3 -.8l7.2 -.1" stroke="#1612ff"/>
<path d="M192.0 304.5l1.4 -.2l1.5 .9l1.4 -.9l1.4 -.7l1.5 -.3l1.4 -1.1l1.4 .6l1.5 1.3l2.8 -1.5l2.9 -.5l2.8 .5l2.9 -.1l2.9 -.7l2.8 .4l4.3 -.7l4.3 -1.3l4.3 -.6l4.3 .2l4.3 -.1l4.3 .7l4.3 -.1l4.3 .2l4.3 .5l4.3 .6l4.3 -1.2l4.3 0l4.3 .5l4.3 .2l4.3 -.9l4.3 -.8l4.3 .6l4.3 0l4.3 -.4l4.3 .4l4.3 .7l4.3 .5l4.2 -.2l4.3 .3l4.3 .5l7.2 -.1" stroke="#1612ff"/>
<path d="M192.0 322.3l1.4 .1l1.5 .7l1.4 -.5l1.4 0l1.5 .9l1.4 .2l1.4 -1.1l1.5 -.3l2.8 .1l2.9 -.3l2.8 .9l2.9 .5l2.9 .5l2.8 .2l4.3 0l4.3 -.5l4.3 -.6l4.3 -.5l4.3 -1.2l4.3 .6l4.3 .2l4.3 0l4.3 .6l4.3 .2l4.3 -.2l4.3 .5l4.3 -.2l4.3 -.6l4.3 .7l4.3 1.1l4.3 -.3l4.3 .4l4.3 -.4l4.3 .1l4.3 -.4l4.3 -.6l4.2 -.4l4.3 .3l4.3 .6l7.2 1.1" stroke="#6262a8"/>
<path d="M192.0 304.0l1.4 .6l1.5 .4l1.4 .4l1.4 -1.1l1.5 .6l1.4 -1.1l1.4 .1l1.5 -.9l2.8 -.6l2.9 -.9l2.8 -.9l2.9 .4l2.9 .5l2.8 0l4.3 .2l4.3 -.7l4.3 -.1l4.3 -.2l4.3 -.3l4.3 .2l4.3 -.7l4.3 1.1l4.3 -.3l4.3 -.4l4.3 .5l4.3 .3l4.3 -.7l4.3 .1l4.3 1.1l4.3 .5l4.3 -.9l4.3 .3l4.3 -1l4.3 -.9l4.3 .3l4.3 -.3l4.2 .6l4.3 .3l4.3 .4l7.2 -.5" stroke="#1612ff"/>
<path d="M192.0 302.5l1.4 -.3l1.5 1l1.4 .7l1.4 0l1.5 -.3l1.4 -.4l1.4 -.4l1.5 -1.1l2.8 -.4l2.9 -.3l2.8 .3l2.9 -.4l2.9 -.2l2.8 -.3l4.3 .2l4.3 -.2l4.3 -.7l4.3 .7l4.3 1.1l4.3 -.5l4.3 -.4l4.3 .1l4.3 .2l4.3 -1.3l4.3 .4l4.3 .7l4.3 .3l4.3 -.3l4.3 .3l4.3 .1l4.3 -.2l4.3 .1l4.3 -.1l4.3 0l4.3 .4l4.3 -.1l4.2 .4l4.3 -.6l4.3 .3l7.2 0" stroke="#6262a8"/>
<path d="M192.0 322.6l1.4 -.5l1.5 1.3l1.4 .7l1.4 -.3l1.5 .6l1.4 -1.3l1.4 .1l1.5 -.4l2.8 -.5l2.9 -.1l2.8 -.7l2.9 .4l2.9 -.4l2.8 -.9l4.3 -.1l4.3 0l4.3 .3l4.3 0l4.3 -.5l4.3 .2l4.3 1.3l4.3 -.3l4.3 -.1l4.3 -.5l4.3 -.1l4.3 -1.2l4.3 1.1l4.3 .7l4.3 -.7l4.3 .7l4.3 -.4l4.3 -.1l4.3 1.4l4.3 -.9l4.3 -1.2l4.3 -.1l4.2 1.1l4.3 -.7l4.3 .8l7.2 -.1" stroke="#1612ff"/>
<path d="M192.0 306.6l1.4 .6l1.5 .5l1.4 -.5l1.4 .1l1.5 .3l1.4 .3l1.4 -.1l1.5 -.1l2.8 .2l2.9 .8l2.8 .1l2.9 .2l2.9 -.2l2.8 -.8l4.3 -.4l4.3 -.2l4.3 .1l4.3 .4l4.3 -.1l4.3 .3l4.3 .3l4.3 .4l4.3 0l4.3 -.1l4.3 -1.1l4.3 -.1l4.3 .4l4.3 -.4l4.3 .5l4.3 -.5l4.3 -.3l4.3 -1.3l4.3 1.1l4.3 .3l4.3 .3l4.3 0l4.2 -.3l4.3 .8l4.3 .4l7.2 -.2" stroke="#3732e6"/>
<path d="M192.0 311.2l1.4 -.8l1.5 .9l1.4 .2l1.4 -.2l1.5 -.3l1.4 .2l1.4 .1l1.5 -.7l2.8 .5l2.9 .6l2.8 .3l2.9 .3l2.9 -.2l2.8 .1l4.3 .2l4.3 -1.2l4.3 -.1l4.3 .4l4.3 -.9l4.3 .6l4.3 .1l4.3 .2l4.3 .4l4.3 .3l4.3 -.2l4.3 1.1l4.3 0l4.3 -.5l4.3 -.4l4.3 -.3l4.3 -1.8l4.3 -.2l4.3 .5l4.3 .3l4.3 .2l4.3 -.1l4.2 .4l4.3 -1l4.3 1.1l7.2 -.4" stroke="#6262a8"/>
<path d="M192.0 299.4l1.4 -1.6l1.5 -.4l1.4 .2l1.4 .1l1.5 .3l1.4 -.3l1.4 -.3l1.5 .7l2.8 .1l2.9 -.1l2.8 -.3l2.9 -.2l2.9 0l2.8 -.8l4.3 -.8l4.3 -.2l4.3 1.2l4.3 -.2l4.3 -.6l4.3 -.1l4.3 -.3l4.3 -.1l4.3 .8l4.3 1.2l4.3 -.8l4.3 0l4.3 -.5l4.3 0l4.3 -.1l4.3 -.9l4.3 .7l4.3 -.1l4.3 .5l4.3 -.3l4.3 -.4l4.3 -.4l4.2 -.1l4.3 .8l4.3 -.2l7.2 -.6" stroke="#1612ff"/>
<path d="M192.0 296.7l1.4 -.1l1.5 -.7l1.4 .7l1.4 -.6l1.5 -.4l1.4 .6l1.4 -.4l1.5 .4l2.8 -.1l2.9 0l2.8 -.3l2.9 .5l2.9 -.5l2.8 1.1l4.3 -.2l4.3 -.1l4.3 -1.3l4.3 -.5l4.3 .2l4.3 .4l4.3 -.2l4.3 .2l4.3 -1.5l4.3 1.6l4.3 -.3l4.3 1.2l4.3 -1l4.3 .2l4.3 -1.2l4.3 .2l4.3 -.7l4.3 -.1l4.3 -.6l4.3 .1l4.3 1.9l4.3 .1l4.2 .7l4.3 -1l4.3 -.5l7.2 -.1" stroke="#1612ff"/>
<path d="M192.0 305.1l1.4 0l1.5 .6l1.4 0l1.4 -.2l1.5 -.1l1.4 0l1.4 -.2l1.5 .3l2.8 -.3l2.9 .4l2.8 0l2.9 -.1l2.9 -.8l2.8 -.5l4.3 -.2l4.3 .3l4.3 -.1l4.3 -.6l4.3 -.7l4.3 .7l4.3 0l4.3 -.2l4.3 -.3l4.3 -.1l4.3 -.4l4.3 .7l4.3 -.9l4.3 .6l4.3 -.1l4.3 -.3l4.3 -.6l4.3 -.3l4.3 -.2l4.3 -.4l4.3 .3l4.3 -.1l4.2 -.5l4.3 .7l4.3 .8l7.2 .4" stroke="#1612ff"/>
<path d="M192.0 320.6l1.4 -.3l1.5 1.5l1.4 .4l1.4 .3l1.5 -.1l1.4 0l1.4 .3l1.5 -.1l2.8 1.7l2.9 -1.8l2.8 -.1l2.9 -.2l2.9 .7l2.8 0l4.3 -.8l4.3 -.6l4.3 .5l4.3 1.1l4.3 .1l4.3 .3l4.3 -.3l4.3 .8l4.3 .1l4.3 -.1l4.3 .3l4.3 -.7l4.3 .7l4.3 .6l4.3 .1l4.3 -.7l4.3 .1l4.3 .3l4.3 -.6l4.3 -.1l4.3 .3l4.3 -.1l4.2 .1l4.3 -.4l4.3 -.1l7.2 .5" stroke="#1612ff"/>
<path d="M192.0 309.5l1.4 .1l1.5 0l1.4 -.5l1.4 .1l1.5 -.7l1.4 .3l1.4 -.1l1.5 .4l2.8 .7l2.9 .1l2.8 -.1l2.9 0l2.9 .1l2.8 .3l4.3 .5l4.3 .2l4.3 -.2l4.3 -.4l4.3 1.6l4.3 -.4l4.3 -.6l4.3 -.5l4.3 0l4.3 -.1l4.3 .3l4.3 .2l4.3 -.1l4.3 .6l4.3 .3l4.3 -.1l4.3 .6l4.3 -.2l4.3 .6l4.3 -.3l4.3 -.2l4.3 .1l4.2 .3l4.3 0l4.3 .8l7.2 -.1" stroke="#1612ff"/>
<path d="M192.0 303.3l1.4 -.5l1.5 .5l1.4 -.1l1.4 -.2l1.5 .2l1.4 .8l1.4 .6l1.5 -.1l2.8 -.8l2.9 .5l2.8 -.3l2.9 -.4l2.9 1l2.8 .5l4.3 -.4l4.3 -.2l4.3 .1l4.3 .3l4.3 0l4.3 .5l4.3 -1l4.3 .9l4.3 .9l4.3 -.1l4.3 -.6l4.3 .3l4.3 .1l4.3 .4l4.3 0l4.3 .4l4.3 .3l4.3 .4l4.3 0l4.3 -1.1l4.3 0l4.3 -.1l4.2 -1l4.3 .4l4.3 .5l7.2 -.2" stroke="#1612ff"/>
<path d="M192.0 305.1l1.4 -1.2l1.5 .9l1.4 .4l1.4 -.2l1.5 .1l1.4 .5l1.4 -1.3l1.5 .4l2.8 -.3l2.9 .2l2.8 .1l2.9 .8l2.9 -1l2.8 .2l4.3 -1.1l4.3 .8l4.3 .2l4.3 -.5l4.3 -.2l4.3 .3l4.3 0l4.3 .7l4.3 -.3l4.3 1.5l4.3 -.7l4.3 -1.3l4.3 -.8l4.3 -.6l4.3 .4l4.3 -.3l4.3 .4l4.3 0l4.3 .1l4.3 2.3l4.3 -1.1l4.3 -.6l4.2 -.7l4.3 .6l4.3 -.6l7.2 -.3" stroke="#1612ff"/>
<path d="M192.0 287.2l1.4 .2l1.5 -.5l1.4 .8l1.4 .4l1.5 .2l1.4 .3l1.4 0l1.5 -.2l2.8 .3l2.9 -.4l2.8 -.6l2.9 -.4l2.9 -.7l2.8 -.2l4.3 .3l4.3 -.4l4.3 0l4.3 -.4l4.3 .5l4.3 1l4.3 .5l4.3 -.1l4.3 -.2l4.3 .2l4.3 -.4l4.3 .5l4.3 .3l4.3 -.5l4.3 .1l4.3 -.1l4.3 -.4l4.3 -.3l4.3 .5l4.3 0l4.3 .7l4.3 -.1l4.2 -.2l4.3 .7l4.3 -.7l7.2 -.8" stroke="#1612ff"/>
<path d="M192.0 308.7l1.4 -.3l1.5 .8l1.4 .3l1.4 0l1.5 -.9l1.4 -.1l1.4 -.7l1.5 .3l2.8 .7l2.9 -1.3l2.8 -1.5l2.9 .2l2.9 .4l2.8 -.4l4.3 .9l4.3 .2l4.3 .9l4.3 -.4l4.3 -.1l4.3 .2l4.3 .3l4.3 .8l4.3 .2l4.3 -1l4.3 .1l4.3 -.8l4.3 .5l4.3 0l4.3 .2l4.3 .1l4.3 -.6l4.3 1.2l4.3 -.7l4.3 -.4l4.3 0l4.3 -.1l4.2 .1l4.3 -.4l4.3 .1l7.2 .5" stroke="#1612ff"/>
<path d="M192.0 298.4l1.4 .4l1.5 .3l1.4 .8l1.4 .1l1.5 -.5l1.4 .2l1.4 .5l1.5 -.4l2.8 .1l2.9 .1l2.8 .1l2.9 -.1l2.9 .3l2.8 .5l4.3 -.5l4.3 .3l4.3 .6l4.3 .1l4.3 -.3l4.3 .8l4.3 -.4l4.3 .2l4.3 -.6l4.3 0l4.3 .3l4.3 -.3l4.3 -.2l4.3 .5l4.3 .1l4.3 .5l4.3 -.3l4.3 .8l4.3 .1l4.3 .9l4.3 -.4l4.3 .9l4.2 .2l4.3 -.4l4.3 -.1l7.2 0" stroke="#3732e6"/>
<path d="M192.0 290.5l1.4 -.5l1.5 0l1.4 -.7l1.4 -.1l1.5 -.4l1.4 0l1.4 .2l1.5 .5l2.8 1.4l2.9 -.6l2.8 -.2l2.9 -1.3l2.9 1.2l2.8 -.7l4.3 .4l4.3 -.2l4.3 .3l4.3 -.4l4.3 -.2l4.3 -.6l4.3 -.1l4.3 -.3l4.3 -.7l4.3 -.1l4.3 .2l4.3 -.5l4.3 .3l4.3 -.1l4.3 .3l4.3 .5l4.3 1.7l4.3 -.8l4.3 .5l4.3 -.7l4.3 -1.1l4.3 .7l4.2 -.5l4.3 .1l4.3 -.3l7.2 .7" stroke="#1612ff"/>
<path d="M192.0 372.3l1.4 -1.1l1.5 -.2l1.4 .1l1.4 -1l1.5 .1l1.4 -.1l1.4 -.1l1.5 -.3l2.8 -.6l2.9 -.1l2.8 -.3l2.9 -1.1l2.9 -.9l2.8 -.4l4.3 -.8l4.3 -.6l4.3 -1.2l4.3 -.5l4.3 -.9l4.3 -.7l4.3 -1l4.3 -2.2l4.3 -2.2l4.3 -1.5l4.3 -.6l4.3 -.6l4.3 -.4l4.3 -.4l4.3 -.6l4.3 -1l4.3 -.9l4.3 -.4l4.3 -.2l4.3 -.3l4.3 -1.1l4.3 -.5l4.2 .2l4.3 -.3l4.3 -.1l7.2 -.5" stroke="#1612ff"/>
<path d="M192.0 372.2l1.4 -.6l1.5 0l1.4 0l1.4 -.1l1.5 .1l1.4 -.2l1.4 -.3l1.5 -.2l2.8 -.9l2.9 -.5l2.8 -.5l2.9 -1l2.9 -.6l2.8 -.4l4.3 -1.1l4.3 -.9l4.3 -.3l4.3 -.6l4.3 -.4l4.3 -.2l4.3 -1.1l4.3 -1l4.3 -.1l4.3 -.7l4.3 -.1l4.3 -.9l4.3 -.5l4.3 -.5l4.3 -.9l4.3 -.6l4.3 -.4l4.3 -.8l4.3 -.4l4.3 -.8l4.3 -.4l4.3 -.8l4.2 -.6l4.3 -.6l4.3 -.2l7.2 -1.4" stroke="#1612ff"/>
<path d="M192.0 373.0l1.4 -.4l1.5 .2l1.4 -.2l1.4 .5l1.5 0l1.4 -.2l1.4 -.1l1.5 .5l2.8 -.6l2.9 .1l2.8 -1l2.9 -.2l2.9 -.9l2.8 -.3l4.3 -.4l4.3 -.1l4.3 -.3l4.3 -.6l4.3 .3l4.3 -.9l4.3 -.1l4.3 -.5l4.3 .3l4.3 -.9l4.3 -1l4.3 -.7l4.3 -.7l4.3 -.5l4.3 -.7l4.3 -1l4.3 -.4l4.3 -.8l4.3 -.8l4.3 -.5l4.3 -.7l4.3 -.6l4.2 -.5l4.3 -1.4l4.3 -.4l7.2 -1.6" stroke="#1612ff"/>
<path d="M192.0 373.4l1.4 -.2l1.5 .6l1.4 .3l1.4 0l1.5 -.3l1.4 -.8l1.4 -.2l1.5 -.4l2.8 .7l2.9 .4l2.8 .1l2.9 -1l2.9 .6l2.8 .5l4.3 -.3l4.3 -.8l4.3 .5l4.3 -.2l4.3 .3l4.3 -1.1l4.3 -.6l4.3 -.3l4.3 -.2l4.3 -.2l4.3 -.6l4.3 -.4l4.3 -.7l4.3 -1.1l4.3 -1.7l4.3 -1.3l4.3 -1.6l4.3 .1l4.3 -1l4.3 -.8l4.3 -1l4.3 -.1l4.2 .3l4.3 0l4.3 -1l7.2 -.5" stroke="#6262a8"/>
<path d="M192.0 373.1l1.4 -.3l1.5 -.5l1.4 .2l1.4 .2l1.5 -.5l1.4 .2l1.4 .4l1.5 0l2.8 -.4l2.9 -.5l2.8 .1l2.9 -.2l2.9 .1l2.8 -.4l4.3 -.2l4.3 -.3l4.3 .1l4.3 -.5l4.3 -.7l4.3 0l4.3 -1.8l4.3 -1.2l4.3 -.9l4.3 -.6l4.3 -.5l4.3 -.4l4.3 .1l4.3 -.3l4.3 -.4l4.3 -.2l4.3 .2l4.3 -.3l4.3 .1l4.3 -.4l4.3 -.7l4.3 -.5l4.2 0l4.3 0l4.3 -.1l7.2 -.4" stroke="#3732e6"/>
<path d="M192.0 374.8l1.4 -.6l1.5 .6l1.4 .5l1.4 -.5l1.5 .3l1.4 -.1l1.4 -.3l1.5 -.1l2.8 .1l2.9 -.7l2.8 -.8l2.9 .4l2.9 0l2.8 -.5l4.3 -.1l4.3 .3l4.3 -.2l4.3 -.8l4.3 -.1l4.3 -1.1l4.3 -1.4l4.3 -1l4.3 -1.4l4.3 -1.2l4.3 -.9l4.3 -.7l4.3 .6l4.3 -.6l4.3 -.3l4.3 -.5l4.3 .4l4.3 -.5l4.3 -.2l4.3 .5l4.3 -.7l4.3 .3l4.2 .3l4.3 -.4l4.3 .1l7.2 -.5" stroke="#1612ff"/>
<path d="M192.0 372.7l1.4 -.4l1.5 .4l1.4 -.3l1.4 -.2l1.5 0l1.4 -.4l1.4 -.5l1.5 -.1l2.8 .8l2.9 -.1l2.8 .1l2.9 .1l2.9 -.2l2.8 .1l4.3 -.7l4.3 -.1l4.3 -.1l4.3 -.3l4.3 -.4l4.3 -.5l4.3 -.2l4.3 0l4.3 -.1l4.3 .8l4.3 .2l4.3 -.8l4.3 -.2l4.3 -1l4.3 -1l4.3 .4l4.3 -.4l4.3 -1.3l4.3 .2l4.3 -.4l4.3 -.1l4.3 -.1l4.2 -.3l4.3 -.3l4.3 -.7l7.2 -.4" stroke="#1612ff"/>
<path d="M192.0 371.5l1.4 .2l1.5 .2l1.4 -.4l1.4 .5l1.5 -.3l1.4 -.3l1.4 .2l1.5 -.4l2.8 -.3l2.9 .5l2.8 -.2l2.9 -.2l2.9 .2l2.8 -.2l4.3 -.4l4.3 .1l4.3 .3l4.3 -.6l4.3 -.4l4.3 -.2l4.3 -.5l4.3 .3l4.3 -.4l4.3 -.9l4.3 .7l4.3 -.5l4.3 0l4.3 -.2l4.3 0l4.3 -.5l4.3 -.2l4.3 .1l4.3 .2l4.3 -.2l4.3 -.6l4.3 .2l4.2 -.4l4.3 -.3l4.3 .5l7.2 -.7" stroke="#6262a8"/>
<path d="M192.0 371.1l1.4 .1l1.5 0l1.4 .3l1.4 .4l1.5 -.4l1.4 0l1.4 0l1.5 -.1l2.8 -.3l2.9 -.3l2.8 0l2.9 0l2.9 0l2.8 -.7l4.3 .7l4.3 .3l4.3 -.3l4.3 -.1l4.3 -.5l4.3 -.5l4.3 -.6l4.3 .4l4.3 -.1l4.3 .1l4.3 -.3l4.3 0l4.3 -.3l4.3 .3l4.3 -.1l4.3 .1l4.3 0l4.3 .1l4.3 .2l4.3 -.6l4.3 -.2l4.3 -.5l4.2 .3l4.3 .5l4.3 -.1l7.2 -.3" stroke="#3732e6"/>
<path d="M192.0 372.8l1.4 -.1l1.5 .4l1.4 -.4l1.4 .2l1.5 .3l1.4 -.4l1.4 -.1l1.5 -.4l2.8 .3l2.9 -.6l2.8 -.1l2.9 .2l2.9 .4l2.8 .4l4.3 .5l4.3 -1l4.3 .6l4.3 -.5l4.3 -.1l4.3 .1l4.3 0l4.3 -.1l4.3 -.7l4.3 -.4l4.3 0l4.3 .6l4.3 .6l4.3 -1.2l4.3 .4l4.3 .5l4.3 -.9l4.3 .6l4.3 -.7l4.3 -.7l4.3 -.2l4.3 -.5l4.2 .7l4.3 .4l4.3 -.2l7.2 -.3" stroke="#6262a8"/>
<path d="M192.0 373.6l1.4 -.3l1.5 -.7l1.4 .2l1.4 -.1l1.5 .5l1.4 -.3l1.4 0l1.5 .1l2.8 -.2l2.9 .5l2.8 -.1l2.9 -.1l2.9 -.5l2.8 .8l4.3 .1l4.3 -.8l4.3 .3l4.3 .2l4.3 -.6l4.3 -.8l4.3 .3l4.3 .5l4.3 .4l4.3 .2l4.3 .3l4.3 .2l4.3 -.2l4.3 -.2l4.3 -.3l4.3 -.2l4.3 .3l4.3 -.4l4.3 -.2l4.3 .2l4.3 0l4.3 -.2l4.2 -.1l4.3 0l4.3 -.3l7.2 -.4" stroke="#6262a8"/>
<path d="M192.0 372.2l1.4 -.2l1.5 0l1.4 0l1.4 .3l1.5 -.1l1.4 .4l1.4 -.1l1.5 -.1l2.8 .3l2.9 -.2l2.8 0l2.9 -.2l2.9 .2l2.8 -.2l4.3 -.5l4.3 .1l4.3 -.1l4.3 .3l4.3 .2l4.3 .7l4.3 0l4.3 .3l4.3 -.1l4.3 .6l4.3 .1l4.3 -.2l4.3 -.3l4.3 .5l4.3 0l4.3 -1l4.3 -.2l4.3 .1l4.3 1l4.3 .2l4.3 -.2l4.3 -.2l4.2 -.1l4.3 -.3l4.3 .1l7.2 -.1" stroke="#3732e6"/>
<path d="M192.0 371.2l1.4 -.3l1.5 .3l1.4 -.1l1.4 -.2l1.5 .5l1.4 .1l1.4 .1l1.5 .1l2.8 .2l2.9 .5l2.8 -.3l2.9 -.2l2.9 -.4l2.8 .1l4.3 .4l4.3 .6l4.3 0l4.3 .2l4.3 -.5l4.3 -.4l4.3 .3l4.3 1.4l4.3 1.5l4.3 .8l4.3 .8l4.3 -.3l4.3 .2l4.3 .4l4.3 .2l4.3 -.4l4.3 .6l4.3 0l4.3 .7l4.3 .1l4.3 .3l4.3 0l4.2 0l4.3 -.4l4.3 0l7.2 .5" stroke="#6262a8"/>
<path d="M192.0 373.4l1.4 0l1.5 .2l1.4 -.4l1.4 -.3l1.5 .1l1.4 .2l1.4 0l1.5 0l2.8 -.1l2.9 .4l2.8 0l2.9 .4l2.9 -.4l2.8 -.5l4.3 .1l4.3 -.4l4.3 -.2l4.3 -.1l4.3 -1l4.3 -.5l4.3 -.4l4.3 0l4.3 -.3l4.3 -.2l4.3 -.4l4.3 .1l4.3 -.3l4.3 -.2l4.3 .2l4.3 -1l4.3 -.6l4.3 0l4.3 .1l4.3 -.1l4.3 -.2l4.3 -.3l4.2 0l4.3 -.4l4.3 -.6l7.2 -.9" stroke="#1612ff"/>
</g>
<rect x="192.0" y="232.6" width="143.2" height="178.1" fill="none" stroke="#808080" stroke-width="1.1"/>
<path d="M192.0 232.6v-1.8M192.0 410.7v1.8M220.6 232.6v-1.8M220.6 410.7v1.8M249.3 232.6v-1.8M249.3 410.7v1.8M277.9 232.6v-1.8M277.9 410.7v1.8M306.6 232.6v-1.8M306.6 410.7v1.8M335.2 232.6v-1.8M335.2 410.7v1.8M192.0 401.33h-1.8M335.2 401.33h1.8M192.0 382.58h-1.8M335.2 382.58h1.8M192.0 363.83h-1.8M335.2 363.83h1.8M192.0 345.08h-1.8M335.2 345.08h1.8M192.0 326.34h-1.8M335.2 326.34h1.8M192.0 307.59h-1.8M335.2 307.59h1.8M192.0 288.84h-1.8M335.2 288.84h1.8M192.0 270.09h-1.8M335.2 270.09h1.8M192.0 251.35h-1.8M335.2 251.35h1.8M192.0 232.60h-1.8M335.2 232.60h1.8" stroke="#808080" stroke-width="1.0"/>
<text x="192.0" y="420.9" font-size="7.80" text-anchor="middle" textLength="4.7" lengthAdjust="spacingAndGlyphs">0</text>
<text x="220.6" y="420.9" font-size="7.80" text-anchor="middle" textLength="9.4" lengthAdjust="spacingAndGlyphs">10</text>
<text x="249.3" y="420.9" font-size="7.80" text-anchor="middle" textLength="9.4" lengthAdjust="spacingAndGlyphs">20</text>
<text x="277.9" y="420.9" font-size="7.80" text-anchor="middle" textLength="9.4" lengthAdjust="spacingAndGlyphs">30</text>
<text x="306.6" y="420.9" font-size="7.80" text-anchor="middle" textLength="9.4" lengthAdjust="spacingAndGlyphs">40</text>
<text x="335.2" y="420.9" font-size="7.80" text-anchor="middle" textLength="9.4" lengthAdjust="spacingAndGlyphs">50</text>
<text x="195.0" y="241.6" font-size="7.80" textLength="8.3" lengthAdjust="spacingAndGlyphs">(f)</text>
<text x="263.9" y="429.6" font-size="7.80" text-anchor="middle" textLength="37.4" lengthAdjust="spacingAndGlyphs">Time [kyr]</text>
<rect x="349.7" y="232.6" width="143.2" height="178.1" fill="#fff"/>
<rect x="349.7" y="331.02" width="143.2" height="14.06" fill="#f4fcd0"/>
<line x1="349.7" y1="326.34" x2="492.9" y2="326.34" stroke="#1a1a1a" stroke-width="1.0" stroke-dasharray="2.6 1.5"/>
<g clip-path="url(#kg)" fill="none" stroke-width="1" stroke-linejoin="round">
<path d="M349.7 294.9l1.4 .7l1.5 .6l1.4 .4l1.4 .4l1.5 .1l1.4 .2l1.4 .3l1.5 .5l2.8 .1l2.9 .2l2.8 .5l2.9 .5l2.9 .3l2.8 .1l4.3 .7l4.3 .1l4.3 .6l4.3 .1l4.3 .5l4.3 .3l4.3 .4l4.3 .2l4.3 -.1l4.3 .4l4.3 .2l4.3 0l4.3 .2l4.3 -.4l4.3 .5l4.3 -.5l4.3 .3l4.3 -.1l4.3 -.3l4.3 .1l4.3 .4l4.3 .2l4.2 0l4.3 -.1l4.3 -.1l7.2 -.2" stroke="#64648c"/>
<path d="M349.7 302.0l1.4 .4l1.5 -.1l1.4 .6l1.4 .1l1.5 .4l1.4 .5l1.4 -.3l1.5 .1l2.8 -.1l2.9 .7l2.8 .5l2.9 .1l2.9 .3l2.8 0l4.3 .4l4.3 .2l4.3 .4l4.3 -.3l4.3 .2l4.3 .5l4.3 -.2l4.3 0l4.3 0l4.3 .1l4.3 .2l4.3 .1l4.3 .7l4.3 .4l4.3 .2l4.3 -.3l4.3 -.4l4.3 0l4.3 .1l4.3 -.4l4.3 .2l4.3 -.2l4.2 0l4.3 .4l4.3 -.1l7.2 0" stroke="#64648c"/>
<path d="M349.7 299.2l1.4 1.4l1.5 1.4l1.4 .6l1.4 .5l1.5 .8l1.4 .6l1.4 1.2l1.5 .4l2.8 .9l2.9 .8l2.8 1.3l2.9 .6l2.9 .8l2.8 .4l4.3 .9l4.3 .6l4.3 .6l4.3 .2l4.3 .3l4.3 0l4.3 0l4.3 .2l4.3 .1l4.3 .3l4.3 .1l4.3 -.1l4.3 0l4.3 0l4.3 .1l4.3 .1l4.3 .2l4.3 .4l4.3 -.2l4.3 -.1l4.3 .2l4.3 -.5l4.2 .3l4.3 -.2l4.3 -.1l7.2 0" stroke="#64648c"/>
<path d="M349.7 311.3l1.4 0l1.5 .3l1.4 .6l1.4 .6l1.5 .1l1.4 -.3l1.4 -.1l1.5 .3l2.8 .4l2.9 .2l2.8 -.1l2.9 .7l2.9 .2l2.8 .2l4.3 .7l4.3 .7l4.3 -.2l4.3 .2l4.3 .4l4.3 .2l4.3 -.2l4.3 .2l4.3 -.2l4.3 .3l4.3 .5l4.3 .1l4.3 .4l4.3 .1l4.3 -.3l4.3 -.5l4.3 0l4.3 .1l4.3 .5l4.3 .4l4.3 -.1l4.3 -.1l4.2 .3l4.3 .1l4.3 -.5l7.2 -.2" stroke="#64648c"/>
<path d="M349.7 315.7l1.4 .1l1.5 0l1.4 .1l1.4 .1l1.5 .5l1.4 .4l1.4 .4l1.5 .4l2.8 0l2.9 0l2.8 .2l2.9 0l2.9 0l2.8 .1l4.3 .5l4.3 -.2l4.3 -.1l4.3 .3l4.3 -.2l4.3 .2l4.3 .3l4.3 .2l4.3 .5l4.3 .1l4.3 .3l4.3 -.3l4.3 0l4.3 .3l4.3 -.2l4.3 .4l4.3 -.1l4.3 -.1l4.3 0l4.3 .2l4.3 -.1l4.3 .1l4.2 -.1l4.3 -.3l4.3 -.2l7.2 -.2" stroke="#64648c"/>
<path d="M349.7 313.2l1.4 .5l1.5 .2l1.4 .1l1.4 .8l1.5 .2l1.4 -.3l1.4 .5l1.5 .3l2.8 .5l2.9 .1l2.8 .3l2.9 .3l2.9 .5l2.8 0l4.3 .2l4.3 .4l4.3 .1l4.3 0l4.3 .5l4.3 .4l4.3 .2l4.3 .2l4.3 .6l4.3 0l4.3 -.5l4.3 0l4.3 -.3l4.3 .7l4.3 -.2l4.3 -.4l4.3 -.4l4.3 .2l4.3 .2l4.3 -.1l4.3 .3l4.3 0l4.2 .3l4.3 -.1l4.3 -.1l7.2 -.5" stroke="#64648c"/>
<path d="M349.7 376.0l1.4 .2l1.5 -.1l1.4 .3l1.4 -.1l1.5 -.1l1.4 -.2l1.4 -.2l1.5 .4l2.8 -.2l2.9 -.2l2.8 .2l2.9 -.6l2.9 .2l2.8 -.6l4.3 -.2l4.3 -.1l4.3 0l4.3 -.2l4.3 .3l4.3 .2l4.3 .5l4.3 -.2l4.3 .3l4.3 -.2l4.3 -.1l4.3 .4l4.3 -.1l4.3 0l4.3 0l4.3 0l4.3 .1l4.3 .1l4.3 -.2l4.3 .4l4.3 0l4.3 -.2l4.2 -.6l4.3 -.2l4.3 -.7l7.2 .3" stroke="#64648c"/>
<path d="M349.7 376.5l1.4 .2l1.5 -.1l1.4 -.3l1.4 .2l1.5 .3l1.4 -.2l1.4 -.3l1.5 .8l2.8 -.1l2.9 0l2.8 .3l2.9 .2l2.9 0l2.8 0l4.3 0l4.3 .2l4.3 -.2l4.3 0l4.3 -.1l4.3 0l4.3 -.2l4.3 -.3l4.3 -.2l4.3 -.2l4.3 .3l4.3 -.2l4.3 -.1l4.3 .2l4.3 0l4.3 .8l4.3 -.1l4.3 .1l4.3 .5l4.3 -.3l4.3 .1l4.3 -.2l4.2 .1l4.3 -.2l4.3 0l7.2 .2" stroke="#64648c"/>
<path d="M349.7 377.4l1.4 -.1l1.5 .6l1.4 0l1.4 .2l1.5 .2l1.4 -.3l1.4 -.2l1.5 .3l2.8 .4l2.9 -.1l2.8 .2l2.9 .2l2.9 .5l2.8 .1l4.3 -.4l4.3 .1l4.3 0l4.3 -.5l4.3 -.1l4.3 -.3l4.3 0l4.3 -.1l4.3 .5l4.3 .2l4.3 .4l4.3 -.6l4.3 0l4.3 .1l4.3 .3l4.3 .2l4.3 .6l4.3 -.6l4.3 0l4.3 0l4.3 .3l4.3 0l4.2 -.1l4.3 0l4.3 -.2l7.2 .3" stroke="#64648c"/>
</g>
<g clip-path="url(#kg)" fill="none">
<path d="M349.7 326.1l1.2 -.1l1.2 0l1.2 0l1.2 0l1.2 0l1.2 -.1l1.2 0l1.2 0l1.2 0l1.2 0l1.2 -.1l1.2 0l1.2 0l1.2 0l1.3 0l1.2 -.1l1.2 0l1.2 0l1.2 0l1.2 0l1.2 -.1l1.2 0l1.2 0l1.2 0l1.2 0l1.2 0l1.2 0l1.2 0l1.2 .1l1.2 0l1.2 0l1.2 0l1.2 0l1.2 0l1.2 .1l1.2 0l1.2 0l1.2 0l1.2 0l1.2 0l1.2 0l1.2 .1l1.2 0l1.2 0l1.3 .1l1.2 0l1.2 0l1.2 .1l1.2 0l1.2 .1l1.2 0l1.2 0l1.2 .1l1.2 0l1.2 0l1.2 .1l1.2 0l1.2 .1l1.2 0l1.2 0l1.2 0l1.2 0l1.2 0l1.2 0l1.2 0l1.2 0l1.2 0l1.2 0l1.2 -.1l1.2 0l1.2 0l1.2 0l1.2 0l1.2 0l1.3 0l1.2 0l1.2 0l1.2 0l1.2 0l1.2 0l1.2 0l1.2 -.1l1.2 0l1.2 0l1.2 .1l1.2 0l1.2 0l1.2 0l1.2 0l1.2 0l1.2 0l1.2 0l1.2 0l1.2 .1l1.2 0l1.2 0l1.2 0l1.2 0l1.2 0l1.2 0l1.2 .1l1.2 0l1.2 .1l1.2 0l1.3 .1l1.2 0l1.2 .1l1.2 0l1.2 .1l1.2 0l1.2 0l1.2 .1l1.2 0l1.2 -.1l1.2 0l1.2 0l1.2 0l1.2 -.1l1.2 0" stroke="#64648c" stroke-width="0.8"/>
<path d="M349.7 326.1l1.2 -.1l1.2 0l1.2 0l1.2 0l1.2 0l1.2 -.1l1.2 0l1.2 0l1.2 0l1.2 0l1.2 -.1l1.2 0l1.2 0l1.2 0l1.3 0l1.2 -.1l1.2 0l1.2 0l1.2 0l1.2 0l1.2 -.1l1.2 0l1.2 0l1.2 0l1.2 0l1.2 0l1.2 0l1.2 0l1.2 .1l1.2 0l1.2 0l1.2 0l1.2 0l1.2 0l1.2 .1l1.2 0l1.2 0l1.2 0l1.2 0l1.2 0l1.2 0l1.2 .1l1.2 0l1.2 0l1.3 .1l1.2 0l1.2 0l1.2 .1l1.2 0l1.2 .1l1.2 0l1.2 0l1.2 .1l1.2 0l1.2 0l1.2 .1l1.2 0l1.2 .1l1.2 0l1.2 0l1.2 0l1.2 0l1.2 0l1.2 0l1.2 0l1.2 0l1.2 0l1.2 0l1.2 -.1l1.2 0l1.2 0l1.2 0l1.2 0l1.2 0l1.3 0l1.2 0l1.2 0l1.2 0l1.2 0l1.2 0l1.2 0l1.2 -.1l1.2 0l1.2 0l1.2 .1l1.2 0l1.2 0l1.2 0l1.2 0l1.2 0l1.2 0l1.2 0l1.2 0l1.2 .1l1.2 0l1.2 0l1.2 0l1.2 0l1.2 0l1.2 0l1.2 .1l1.2 0l1.2 .1l1.2 0l1.3 .1l1.2 0l1.2 .1l1.2 0l1.2 .1l1.2 0l1.2 0l1.2 .1l1.2 0l1.2 -.1l1.2 0l1.2 0l1.2 0l1.2 -.1l1.2 0" stroke="#000" stroke-width="2.3" stroke-dasharray="2.6 1.7"/>
</g>
<rect x="349.7" y="232.6" width="143.2" height="178.1" fill="none" stroke="#808080" stroke-width="1.1"/>
<path d="M349.7 232.6v-1.8M349.7 410.7v1.8M378.3 232.6v-1.8M378.3 410.7v1.8M407.0 232.6v-1.8M407.0 410.7v1.8M435.6 232.6v-1.8M435.6 410.7v1.8M464.3 232.6v-1.8M464.3 410.7v1.8M492.9 232.6v-1.8M492.9 410.7v1.8M349.7 401.33h-1.8M492.9 401.33h1.8M349.7 382.58h-1.8M492.9 382.58h1.8M349.7 363.83h-1.8M492.9 363.83h1.8M349.7 345.08h-1.8M492.9 345.08h1.8M349.7 326.34h-1.8M492.9 326.34h1.8M349.7 307.59h-1.8M492.9 307.59h1.8M349.7 288.84h-1.8M492.9 288.84h1.8M349.7 270.09h-1.8M492.9 270.09h1.8M349.7 251.35h-1.8M492.9 251.35h1.8M349.7 232.60h-1.8M492.9 232.60h1.8" stroke="#808080" stroke-width="1.0"/>
<text x="349.7" y="420.9" font-size="7.80" text-anchor="middle" textLength="4.7" lengthAdjust="spacingAndGlyphs">0</text>
<text x="378.3" y="420.9" font-size="7.80" text-anchor="middle" textLength="9.4" lengthAdjust="spacingAndGlyphs">10</text>
<text x="407.0" y="420.9" font-size="7.80" text-anchor="middle" textLength="9.4" lengthAdjust="spacingAndGlyphs">20</text>
<text x="435.6" y="420.9" font-size="7.80" text-anchor="middle" textLength="9.4" lengthAdjust="spacingAndGlyphs">30</text>
<text x="464.3" y="420.9" font-size="7.80" text-anchor="middle" textLength="9.4" lengthAdjust="spacingAndGlyphs">40</text>
<text x="492.9" y="420.9" font-size="7.80" text-anchor="middle" textLength="9.4" lengthAdjust="spacingAndGlyphs">50</text>
<text x="352.7" y="241.6" font-size="7.80" textLength="10.4" lengthAdjust="spacingAndGlyphs">(g)</text>
<text x="421.6" y="429.6" font-size="7.80" text-anchor="middle" textLength="37.4" lengthAdjust="spacingAndGlyphs">Time [kyr]</text>
<rect x="507.4" y="232.6" width="143.2" height="178.1" fill="#fff"/>
<rect x="507.4" y="331.02" width="143.2" height="14.06" fill="#f4fcd0"/>
<line x1="507.4" y1="326.34" x2="650.6" y2="326.34" stroke="#1a1a1a" stroke-width="1.0" stroke-dasharray="2.6 1.5"/>
<g clip-path="url(#kh)" fill="none" stroke-width="1" stroke-linejoin="round">
<path d="M507.4 304.8l1.4 .5l1.5 .7l1.4 .7l1.4 .9l1.5 1.1l1.4 .6l1.4 1l1.5 1l2.8 1.3l2.9 2.1l2.8 1.2l2.9 .8l2.9 .8l2.8 1.3l4.3 1.7l4.3 1.6l4.3 1.8l4.3 2l4.3 1.9l4.3 2l4.3 2l4.3 1.6l4.3 2.3l4.3 2.5l4.3 2.3l4.3 1.8l4.3 6.1l4.3 5.9l4.3 6.1l4.3 2.2l4.3 .9l4.3 .3l4.3 .3l4.3 .8l4.3 .4l4.3 .5l4.2 0l4.3 .4l4.3 .1l7.2 .2" stroke="#807676"/>
<path d="M507.4 310.4l1.4 .6l1.5 .5l1.4 1.6l1.4 1l1.5 .8l1.4 1.1l1.4 .9l1.5 .7l2.8 1.3l2.9 1.4l2.8 1.6l2.9 1.4l2.9 1.5l2.8 1.5l4.3 2.4l4.3 2.5l4.3 2.7l4.3 2.7l4.3 2.8l4.3 5l4.3 5.2l4.3 5.4l4.3 2.3l4.3 2.6l4.3 1.5l4.3 .5l4.3 .2l4.3 .3l4.3 1l4.3 .4l4.3 0l4.3 .3l4.3 0l4.3 .3l4.3 .5l4.3 .2l4.2 .1l4.3 0l4.3 .1l7.2 .9" stroke="#837171"/>
<path d="M507.4 313.2l1.4 1.6l1.5 1.1l1.4 1.1l1.4 .8l1.5 1l1.4 .7l1.4 1.5l1.5 .8l2.8 2.2l2.9 2.2l2.8 2.5l2.9 1.9l2.9 1.9l2.8 1.9l4.3 2.5l4.3 2.6l4.3 3.8l4.3 6.4l4.3 5.2l4.3 2.3l4.3 3.2l4.3 2.3l4.3 1.8l4.3 .4l4.3 .9l4.3 0l4.3 1.1l4.3 .3l4.3 1.1l4.3 1l4.3 .2l4.3 -.1l4.3 .5l4.3 -.6l4.3 .4l4.3 -.2l4.2 .7l4.3 .6l4.3 .2l7.2 .6" stroke="#876d6d"/>
<path d="M507.4 308.5l1.4 2.4l1.5 1.6l1.4 1.8l1.4 1.9l1.5 1.6l1.4 1.7l1.4 1.8l1.5 1.4l2.8 2.7l2.9 2.7l2.8 2.5l2.9 2.9l2.9 4.9l2.8 5.2l4.3 6.5l4.3 4.9l4.3 5.1l4.3 2.9l4.3 1.4l4.3 1.2l4.3 .9l4.3 1.1l4.3 1.1l4.3 .9l4.3 0l4.3 -.1l4.3 .5l4.3 .1l4.3 .1l4.3 .5l4.3 .2l4.3 .5l4.3 .3l4.3 .1l4.3 .6l4.3 .4l4.2 .3l4.3 .1l4.3 .3l7.2 .1" stroke="#876d6d"/>
<path d="M507.4 375.1l1.4 .3l1.5 -.2l1.4 0l1.4 .1l1.5 .1l1.4 -.3l1.4 -.3l1.5 .4l2.8 .6l2.9 .7l2.8 -.6l2.9 .7l2.9 .8l2.8 0l4.3 -.3l4.3 .8l4.3 .2l4.3 .7l4.3 .3l4.3 -.6l4.3 .1l4.3 .3l4.3 .2l4.3 .1l4.3 .3l4.3 .7l4.3 .6l4.3 -.8l4.3 .4l4.3 -.4l4.3 .5l4.3 -.4l4.3 -.1l4.3 .4l4.3 -.7l4.3 .8l4.2 .3l4.3 .6l4.3 .4l7.2 .3" stroke="#807676"/>
<path d="M507.4 377.0l1.4 .2l1.5 -.5l1.4 .8l1.4 .5l1.5 .3l1.4 .1l1.4 -.4l1.5 -.3l2.8 .1l2.9 .1l2.8 -.6l2.9 .8l2.9 .7l2.8 .2l4.3 .1l4.3 .3l4.3 .5l4.3 .7l4.3 .1l4.3 .4l4.3 .2l4.3 .4l4.3 -.4l4.3 0l4.3 -.5l4.3 .5l4.3 .3l4.3 .3l4.3 .1l4.3 .2l4.3 .2l4.3 .8l4.3 .1l4.3 -.3l4.3 .8l4.3 0l4.2 -.2l4.3 -.5l4.3 .2l7.2 .1" stroke="#837171"/>
<path d="M507.4 378.8l1.4 -.5l1.5 .4l1.4 .5l1.4 -.4l1.5 .1l1.4 .4l1.4 .2l1.5 0l2.8 .3l2.9 .3l2.8 .3l2.9 .9l2.9 -.8l2.8 -.4l4.3 -.4l4.3 .6l4.3 .3l4.3 .1l4.3 .1l4.3 1.3l4.3 .1l4.3 .7l4.3 .2l4.3 .5l4.3 -.7l4.3 0l4.3 .3l4.3 -.4l4.3 .4l4.3 .6l4.3 .3l4.3 .3l4.3 .1l4.3 -.3l4.3 .3l4.3 .2l4.2 -.4l4.3 .1l4.3 -.2l7.2 .4" stroke="#876d6d"/>
<path d="M507.4 313.2l1.4 1.2l1.5 1.2l1.4 2.2l1.4 1.4l1.5 1.1l1.4 .8l1.4 1.1l1.5 1.5l2.8 2.7l2.9 1.9l2.8 3.1l2.9 3.7l2.9 4.3l2.8 5.9l4.3 11.3l4.3 9.1l4.3 3.8l4.3 1.5l4.3 1.6l4.3 1.2l4.3 2.2l4.3 -.2l4.3 1.2l4.3 -.1l4.3 .8l4.3 .4l4.3 .5l4.3 1.4l4.3 -1.7l4.3 1.4l4.3 .1l4.3 .7l4.3 .3l4.3 -.8l4.3 1.4l4.3 .1l4.2 -.3l4.3 .1l4.3 -.2l7.2 .8" stroke="#a04d4d"/>
<path d="M507.4 312.1l1.4 3.1l1.5 2.6l1.4 2l1.4 2.6l1.5 1.8l1.4 2.9l1.4 2.8l1.5 2.9l2.8 7l2.9 5.5l2.8 6.2l2.9 5.2l2.9 3.2l2.8 4.5l4.3 4.4l4.3 3l4.3 2.4l4.3 1.8l4.3 1.8l4.3 .2l4.3 2.2l4.3 1.3l4.3 -.1l4.3 .4l4.3 1.1l4.3 1l4.3 .6l4.3 -1l4.3 .4l4.3 1.1l4.3 .3l4.3 .7l4.3 -.4l4.3 .3l4.3 -.2l4.3 .4l4.2 -.5l4.3 .4l4.3 .4l7.2 1.1" stroke="#a24b4b"/>
<path d="M507.4 374.8l1.4 .2l1.5 .5l1.4 -.8l1.4 .5l1.5 .7l1.4 -.1l1.4 .5l1.5 .1l2.8 .6l2.9 .7l2.8 -.2l2.9 .4l2.9 0l2.8 .6l4.3 1.1l4.3 .8l4.3 .5l4.3 .2l4.3 .1l4.3 0l4.3 .7l4.3 0l4.3 .6l4.3 .2l4.3 -1l4.3 -.3l4.3 .4l4.3 -.5l4.3 -.3l4.3 .1l4.3 -.2l4.3 .5l4.3 .4l4.3 .6l4.3 -.1l4.3 .7l4.2 .2l4.3 -.2l4.3 .3l7.2 -.1" stroke="#935b5b"/>
<path d="M507.4 316.9l1.4 1.8l1.5 .7l1.4 1.7l1.4 1.9l1.5 1.6l1.4 1.6l1.4 2.9l1.5 3.5l2.8 8.5l2.9 10.1l2.8 8.4l2.9 6l2.9 3.3l2.8 1.7l4.3 1.7l4.3 .5l4.3 1.1l4.3 1l4.3 -.4l4.3 0l4.3 .7l4.3 .2l4.3 .5l4.3 .7l4.3 .2l4.3 .3l4.3 -.1l4.3 1.2l4.3 -.1l4.3 .3l4.3 .5l4.3 .4l4.3 .3l4.3 .7l4.3 .2l4.3 -.3l4.2 .7l4.3 .1l4.3 .9l7.2 .1" stroke="#905f5f"/>
<path d="M507.4 313.8l1.4 5.4l1.5 5.2l1.4 5.4l1.4 4.1l1.5 4.8l1.4 3.4l1.4 3.6l1.5 3.7l2.8 5.5l2.9 5.5l2.8 3.9l2.9 3.7l2.9 3.1l2.8 2l4.3 2.8l4.3 2.3l4.3 1.8l4.3 1.4l4.3 1.1l4.3 1.2l4.3 1.3l4.3 1.9l4.3 .4l4.3 .3l4.3 -.3l4.3 .1l4.3 -.2l4.3 -.4l4.3 .7l4.3 .9l4.3 0l4.3 .7l4.3 .5l4.3 -.5l4.3 .1l4.3 -.2l4.2 1.2l4.3 .2l4.3 -.3l7.2 1.1" stroke="#ac4040"/>
<path d="M507.4 312.2l1.4 1.6l1.5 3.7l1.4 .3l1.4 2.5l1.5 1.8l1.4 .6l1.4 3.5l1.5 1.7l2.8 4.9l2.9 5l2.8 6.1l2.9 4.5l2.9 6.2l2.8 4.1l4.3 4.7l4.3 3.7l4.3 2.6l4.3 1.9l4.3 .5l4.3 .8l4.3 1.2l4.3 1.8l4.3 .5l4.3 .1l4.3 .7l4.3 -.6l4.3 2.2l4.3 -1.6l4.3 .8l4.3 1.5l4.3 1.6l4.3 -.6l4.3 -.3l4.3 .4l4.3 .3l4.3 0l4.2 .6l4.3 -.8l4.3 -.2l7.2 .5" stroke="#965858"/>
<path d="M507.4 350.9l1.4 1.1l1.5 2.1l1.4 2.3l1.4 1.2l1.5 1.8l1.4 3l1.4 2.6l1.5 2l2.8 4.2l2.9 3.1l2.8 1.4l2.9 .8l2.9 1.9l2.8 1.1l4.3 1.3l4.3 1.5l4.3 1.8l4.3 .4l4.3 1l4.3 .5l4.3 .5l4.3 1l4.3 -.1l4.3 .6l4.3 .5l4.3 .8l4.3 .2l4.3 0l4.3 .8l4.3 .2l4.3 .6l4.3 .9l4.3 .4l4.3 -.1l4.3 0l4.3 -.2l4.2 .6l4.3 .4l4.3 .2l7.2 0" stroke="#bb3333"/>
<path d="M507.4 376.4l1.4 1l1.5 1.2l1.4 -.1l1.4 .1l1.5 .9l1.4 -.2l1.4 .7l1.5 .3l2.8 .5l2.9 1.2l2.8 1.2l2.9 1.5l2.9 .4l2.8 .3l4.3 .4l4.3 .4l4.3 .7l4.3 .1l4.3 1.1l4.3 .3l4.3 .2l4.3 .4l4.3 -.4l4.3 .3l4.3 -.2l4.3 .1l4.3 .5l4.3 -.5l4.3 0l4.3 .5l4.3 .4l4.3 .8l4.3 .2l4.3 .2l4.3 0l4.3 .3l4.2 -.2l4.3 .1l4.3 .8l7.2 .1" stroke="#b23a3a"/>
<path d="M507.4 316.3l1.4 5.4l1.5 4.5l1.4 4l1.4 4.9l1.5 5.2l1.4 4.2l1.4 2.9l1.5 4.7l2.8 8l2.9 7.1l2.8 4.9l2.9 3.4l2.9 3.2l2.8 1.9l4.3 3.3l4.3 1.9l4.3 2.2l4.3 1.2l4.3 1.3l4.3 .7l4.3 1.3l4.3 .5l4.3 .4l4.3 .8l4.3 .7l4.3 .9l4.3 .3l4.3 0l4.3 .2l4.3 .2l4.3 -.4l4.3 .5l4.3 .1l4.3 -.1l4.3 .1l4.3 .2l4.2 .2l4.3 -.5l4.3 .5l7.2 .6" stroke="#c32e2e"/>
<path d="M507.4 370.2l1.4 .3l1.5 .5l1.4 .9l1.4 .8l1.5 .9l1.4 1l1.4 .8l1.5 .8l2.8 1.7l2.9 .8l2.8 1.3l2.9 .6l2.9 .3l2.8 .3l4.3 1.3l4.3 1.2l4.3 1.5l4.3 .9l4.3 0l4.3 1.4l4.3 1.1l4.3 .3l4.3 .4l4.3 1.1l4.3 .4l4.3 .3l4.3 .9l4.3 0l4.3 .8l4.3 -.1l4.3 .2l4.3 .5l4.3 .8l4.3 .2l4.3 .2l4.3 .2l4.2 .3l4.3 .2l4.3 -.2l7.2 .6" stroke="#ba3535"/>
<path d="M507.4 315.0l1.4 3.1l1.5 3.5l1.4 3.3l1.4 3.3l1.5 4.4l1.4 4.2l1.4 5.7l1.5 4.2l2.8 7.7l2.9 7.6l2.8 5.2l2.9 5.5l2.9 2.8l2.8 3l4.3 3.4l4.3 2.2l4.3 1.7l4.3 1.7l4.3 1.6l4.3 1l4.3 .2l4.3 .6l4.3 .1l4.3 1.1l4.3 .9l4.3 .7l4.3 .5l4.3 .3l4.3 -.2l4.3 .4l4.3 .5l4.3 .1l4.3 1l4.3 1.1l4.3 0l4.3 .4l4.2 .3l4.3 -.1l4.3 .6l7.2 .6" stroke="#b23a3a"/>
<path d="M507.4 370.1l1.4 .5l1.5 .2l1.4 1l1.4 .9l1.5 2.8l1.4 -.1l1.4 2l1.5 .8l2.8 -.2l2.9 2l2.8 2.4l2.9 -.3l2.9 1.3l2.8 .8l4.3 .9l4.3 .2l4.3 .2l4.3 .9l4.3 -.1l4.3 1.4l4.3 .1l4.3 1l4.3 0l4.3 .9l4.3 .7l4.3 -.8l4.3 1.3l4.3 1.1l4.3 -.3l4.3 .4l4.3 .4l4.3 .2l4.3 -1.4l4.3 1.1l4.3 .4l4.3 .1l4.2 .8l4.3 .1l4.3 -.3l7.2 .8" stroke="#a94444"/>
<path d="M507.4 315.5l1.4 2.5l1.5 1.9l1.4 1.6l1.4 .3l1.5 2.9l1.4 1.7l1.4 .6l1.5 2.4l2.8 3.4l2.9 4.2l2.8 5.5l2.9 4.9l2.9 5.5l2.8 4.6l4.3 6.3l4.3 3.4l4.3 3.9l4.3 1.8l4.3 .8l4.3 1l4.3 1.4l4.3 1.1l4.3 1.1l4.3 -.5l4.3 1l4.3 .8l4.3 1.1l4.3 .9l4.3 .2l4.3 .8l4.3 .8l4.3 .6l4.3 .4l4.3 .1l4.3 .5l4.3 .2l4.2 .5l4.3 -.5l4.3 .2l7.2 .5" stroke="#b13b3b"/>
<path d="M507.4 368.1l1.4 .4l1.5 1.2l1.4 .3l1.4 -.5l1.5 .2l1.4 -.2l1.4 .9l1.5 1.2l2.8 .9l2.9 -.2l2.8 1.1l2.9 .9l2.9 -.2l2.8 .6l4.3 .8l4.3 .4l4.3 .5l4.3 .7l4.3 .3l4.3 .8l4.3 .3l4.3 0l4.3 .8l4.3 .3l4.3 .8l4.3 -.4l4.3 -.1l4.3 -.3l4.3 -.2l4.3 -.2l4.3 .1l4.3 .7l4.3 -.2l4.3 .8l4.3 -1l4.3 .3l4.2 0l4.3 1l4.3 -.4l7.2 -.3" stroke="#866e6e"/>
<path d="M507.4 313.9l1.4 6.2l1.5 5.8l1.4 5.8l1.4 4.6l1.5 4.3l1.4 5.9l1.4 4.4l1.5 4.8l2.8 6.8l2.9 7l2.8 4l2.9 2l2.9 2.5l2.8 .9l4.3 2.2l4.3 .9l4.3 .9l4.3 1.3l4.3 1.3l4.3 .8l4.3 -.1l4.3 .7l4.3 .9l4.3 -1.3l4.3 1.6l4.3 .6l4.3 .1l4.3 1l4.3 .3l4.3 .5l4.3 1l4.3 -.2l4.3 .8l4.3 .4l4.3 -.7l4.3 .7l4.2 -.3l4.3 -.5l4.3 -.3l7.2 .2" stroke="#bc3333"/>
<path d="M507.4 371.9l1.4 .7l1.5 -.2l1.4 -.2l1.4 .2l1.5 .3l1.4 -.4l1.4 .4l1.5 -.3l2.8 .2l2.9 .6l2.8 -.8l2.9 -.3l2.9 -.2l2.8 .7l4.3 0l4.3 -.2l4.3 .3l4.3 -.8l4.3 1l4.3 -.4l4.3 .7l4.3 .5l4.3 .3l4.3 -.6l4.3 .1l4.3 0l4.3 .2l4.3 .3l4.3 .1l4.3 .1l4.3 -.3l4.3 -.1l4.3 .7l4.3 -.1l4.3 -.9l4.3 -.1l4.2 -.1l4.3 .1l4.3 .1l7.2 -.2" stroke="#807676"/>
<path d="M507.4 319.0l1.4 2.6l1.5 3.3l1.4 2l1.4 3.1l1.5 1.7l1.4 1.7l1.4 3.5l1.5 1.9l2.8 5.4l2.9 4.5l2.8 5.4l2.9 4.8l2.9 4.1l2.8 2.6l4.3 5l4.3 2.2l4.3 2.1l4.3 1.9l4.3 1.4l4.3 .5l4.3 .6l4.3 0l4.3 1.5l4.3 1.9l4.3 .9l4.3 .5l4.3 .7l4.3 -.4l4.3 -.9l4.3 .5l4.3 1.7l4.3 -.3l4.3 .8l4.3 .3l4.3 -.2l4.3 .2l4.2 .4l4.3 .2l4.3 -.2l7.2 .2" stroke="#975757"/>
<path d="M507.4 313.1l1.4 3.6l1.5 1.9l1.4 1.7l1.4 .9l1.5 1.2l1.4 1l1.4 2.2l1.5 1.4l2.8 2.2l2.9 2.7l2.8 2.9l2.9 2.7l2.9 2.7l2.8 5.8l4.3 6.9l4.3 7.1l4.3 5.4l4.3 2.6l4.3 1.9l4.3 .9l4.3 1.9l4.3 .6l4.3 1.6l4.3 .7l4.3 .4l4.3 .8l4.3 .4l4.3 1l4.3 -.1l4.3 .9l4.3 .9l4.3 .4l4.3 .3l4.3 .8l4.3 -.3l4.3 .3l4.2 -.2l4.3 1.1l4.3 .8l7.2 .2" stroke="#856f6f"/>
<path d="M507.4 320.7l1.4 9.4l1.5 8.8l1.4 8l1.4 7.1l1.5 6.4l1.4 5.9l1.4 3.8l1.5 3.4l2.8 3.6l2.9 3l2.8 .7l2.9 1l2.9 1.1l2.8 1.6l4.3 .7l4.3 1.1l4.3 .5l4.3 1l4.3 .8l4.3 .1l4.3 -.3l4.3 1.3l4.3 .6l4.3 .1l4.3 .6l4.3 .6l4.3 -.9l4.3 1l4.3 .2l4.3 .7l4.3 .3l4.3 1.6l4.3 -.5l4.3 .3l4.3 .6l4.3 -.9l4.2 .4l4.3 .6l4.3 .5l7.2 -.4" stroke="#c82a2a"/>
<path d="M507.4 371.8l1.4 .6l1.5 1.1l1.4 .7l1.4 0l1.5 .2l1.4 1.3l1.4 .5l1.5 -.1l2.8 -1l2.9 1l2.8 1.6l2.9 -.1l2.9 .5l2.8 1l4.3 0l4.3 .4l4.3 .8l4.3 .8l4.3 .1l4.3 0l4.3 1l4.3 -.7l4.3 .7l4.3 -.8l4.3 -.1l4.3 .2l4.3 -.1l4.3 .4l4.3 .1l4.3 -.8l4.3 .5l4.3 -.3l4.3 .6l4.3 .1l4.3 -.5l4.3 .8l4.2 -.2l4.3 1.1l4.3 .4l7.2 0" stroke="#9f4e4e"/>
<path d="M507.4 323.2l1.4 2.4l1.5 3.7l1.4 3l1.4 2.7l1.5 4l1.4 2.4l1.4 1.7l1.5 2l2.8 6.2l2.9 5.4l2.8 5.3l2.9 4.1l2.9 3.3l2.8 2.1l4.3 3.1l4.3 3.1l4.3 1.2l4.3 .8l4.3 1.8l4.3 1.3l4.3 .9l4.3 2l4.3 .3l4.3 0l4.3 -.9l4.3 .6l4.3 .9l4.3 .7l4.3 .1l4.3 -.1l4.3 1.3l4.3 .2l4.3 -.1l4.3 2l4.3 -.9l4.3 .4l4.2 -.3l4.3 .4l4.3 .5l7.2 .4" stroke="#b53838"/>
<path d="M507.4 313.2l1.4 3.9l1.5 4.4l1.4 4.6l1.4 4.3l1.5 4.3l1.4 3.5l1.4 4.1l1.5 2.9l2.8 6.6l2.9 5.6l2.8 4.1l2.9 3.9l2.9 3l2.8 2.1l4.3 2.4l4.3 2.5l4.3 .6l4.3 1.3l4.3 1.8l4.3 1.1l4.3 .5l4.3 .8l4.3 .5l4.3 -.2l4.3 .6l4.3 .1l4.3 .6l4.3 1.1l4.3 .1l4.3 1l4.3 .3l4.3 .3l4.3 .9l4.3 .8l4.3 .4l4.3 .1l4.2 -.2l4.3 .4l4.3 -.4l7.2 .3" stroke="#a64747"/>
<path d="M507.4 321.9l1.4 3.9l1.5 3.4l1.4 3.5l1.4 3.2l1.5 2.8l1.4 2.9l1.4 2.5l1.5 3.1l2.8 5.5l2.9 5.1l2.8 4.6l2.9 3.3l2.9 2.6l2.8 2.4l4.3 2.9l4.3 1.4l4.3 2.6l4.3 1.7l4.3 1.6l4.3 1.5l4.3 .4l4.3 .9l4.3 .4l4.3 1.3l4.3 -.1l4.3 -.1l4.3 1.3l4.3 .8l4.3 .7l4.3 .3l4.3 1.2l4.3 .2l4.3 .2l4.3 .7l4.3 1.3l4.3 .5l4.2 .3l4.3 -.2l4.3 .4l7.2 .8" stroke="#a54848"/>
<path d="M507.4 342.1l1.4 .9l1.5 .8l1.4 1.2l1.4 .8l1.5 1.2l1.4 2.6l1.4 1.4l1.5 1.2l2.8 3.7l2.9 3l2.8 4l2.9 2.7l2.9 3.2l2.8 1.7l4.3 2.2l4.3 1.8l4.3 1.7l4.3 .5l4.3 .5l4.3 1l4.3 1.2l4.3 .8l4.3 -.1l4.3 1l4.3 -.3l4.3 1.3l4.3 .1l4.3 -.1l4.3 -.3l4.3 .6l4.3 .8l4.3 1l4.3 -.4l4.3 .3l4.3 .5l4.3 .3l4.2 0l4.3 .2l4.3 -.5l7.2 1.5" stroke="#a34a4a"/>
<path d="M507.4 342.6l1.4 1.7l1.5 1.6l1.4 1.5l1.4 1.5l1.5 1l1.4 1.3l1.4 2l1.5 1.3l2.8 2.5l2.9 2.2l2.8 2.2l2.9 2.1l2.9 1.4l2.8 2.1l4.3 1.2l4.3 2l4.3 1.9l4.3 .8l4.3 .5l4.3 .4l4.3 .4l4.3 .6l4.3 .8l4.3 .5l4.3 .6l4.3 .7l4.3 -.2l4.3 -.2l4.3 .6l4.3 .5l4.3 .6l4.3 1l4.3 .4l4.3 .3l4.3 0l4.3 .5l4.2 .7l4.3 -.4l4.3 -.7l7.2 1" stroke="#8e6262"/>
<path d="M507.4 320.3l1.4 .8l1.5 1.9l1.4 1.8l1.4 1.1l1.5 1.3l1.4 1.6l1.4 .6l1.5 1.1l2.8 4.2l2.9 6l2.8 7.5l2.9 7.2l2.9 6.8l2.8 4.3l4.3 4.1l4.3 3.1l4.3 1.4l4.3 .6l4.3 1l4.3 1.5l4.3 1.1l4.3 .9l4.3 .6l4.3 .6l4.3 .7l4.3 .1l4.3 -.1l4.3 .8l4.3 1.2l4.3 .1l4.3 .3l4.3 .1l4.3 .6l4.3 .1l4.3 .7l4.3 -.4l4.2 -.5l4.3 .8l4.3 1.5l7.2 .3" stroke="#b03c3c"/>
<path d="M507.4 350.4l1.4 1.1l1.5 1.3l1.4 1l1.4 -.2l1.5 1.8l1.4 1.6l1.4 1l1.5 2.3l2.8 1.7l2.9 2.4l2.8 2.5l2.9 1.9l2.9 .9l2.8 .6l4.3 .8l4.3 1l4.3 1.5l4.3 .5l4.3 .8l4.3 -.6l4.3 1.9l4.3 -.4l4.3 .2l4.3 .3l4.3 .6l4.3 .8l4.3 .9l4.3 1l4.3 -1l4.3 -.2l4.3 0l4.3 .1l4.3 1.4l4.3 .3l4.3 0l4.3 -.5l4.2 .8l4.3 -.1l4.3 .3l7.2 .1" stroke="#975757"/>
<path d="M507.4 314.7l1.4 1.5l1.5 1.8l1.4 2.6l1.4 1.3l1.5 1.2l1.4 3l1.4 2.5l1.5 3.9l2.8 8.3l2.9 8.2l2.8 8l2.9 5.5l2.9 3.9l2.8 2.3l4.3 2.5l4.3 .9l4.3 .5l4.3 .8l4.3 1.3l4.3 1l4.3 1l4.3 .3l4.3 .2l4.3 .8l4.3 0l4.3 .6l4.3 -.5l4.3 .1l4.3 -.3l4.3 .9l4.3 .8l4.3 1l4.3 -.2l4.3 .6l4.3 -.5l4.3 .1l4.2 -.2l4.3 .8l4.3 .3l7.2 0" stroke="#9b5252"/>
<path d="M507.4 319.9l1.4 4.1l1.5 3.1l1.4 4l1.4 3.3l1.5 4.3l1.4 4.5l1.4 3.9l1.5 3.3l2.8 6.8l2.9 3.8l2.8 3.6l2.9 1.7l2.9 2l2.8 .8l4.3 1.6l4.3 .8l4.3 .2l4.3 1.3l4.3 1.5l4.3 .2l4.3 -.1l4.3 .1l4.3 .8l4.3 -.3l4.3 .4l4.3 -.2l4.3 .9l4.3 -.1l4.3 -.5l4.3 .8l4.3 .4l4.3 -.2l4.3 -.1l4.3 .1l4.3 .4l4.3 1.2l4.2 .1l4.3 .8l4.3 -.2l7.2 1.5" stroke="#955959"/>
<path d="M507.4 330.4l1.4 .6l1.5 1.8l1.4 2.5l1.4 2l1.5 1.2l1.4 1.5l1.4 2.4l1.5 1.2l2.8 3.3l2.9 3.6l2.8 4l2.9 3.4l2.9 3.6l2.8 2.6l4.3 3.7l4.3 1.9l4.3 2l4.3 1.5l4.3 1.1l4.3 1l4.3 1.8l4.3 -.1l4.3 .7l4.3 .9l4.3 1.1l4.3 .7l4.3 .6l4.3 .2l4.3 .6l4.3 0l4.3 0l4.3 .6l4.3 -1.3l4.3 .4l4.3 .1l4.3 .2l4.2 .3l4.3 -.2l4.3 -.5l7.2 .5" stroke="#a64747"/>
<path d="M507.4 336.4l1.4 2.2l1.5 3.8l1.4 2.2l1.4 2.3l1.5 2.1l1.4 3l1.4 2.2l1.5 2.4l2.8 3.8l2.9 2.6l2.8 2.6l2.9 2.3l2.9 .9l2.8 1.4l4.3 2.9l4.3 1.6l4.3 .6l4.3 .4l4.3 .6l4.3 .4l4.3 1.2l4.3 .5l4.3 1l4.3 .8l4.3 .7l4.3 .5l4.3 .3l4.3 .1l4.3 .6l4.3 -.7l4.3 .5l4.3 -.8l4.3 -.2l4.3 1.1l4.3 -.3l4.3 1.1l4.2 -.7l4.3 .1l4.3 .9l7.2 1.5" stroke="#8e6262"/>
<path d="M507.4 372.9l1.4 .8l1.5 -.7l1.4 .8l1.4 0l1.5 -.3l1.4 0l1.4 -.1l1.5 .2l2.8 -.2l2.9 .6l2.8 -.2l2.9 .7l2.9 -.1l2.8 .6l4.3 .1l4.3 -.3l4.3 -.6l4.3 1l4.3 .4l4.3 .4l4.3 -.8l4.3 .4l4.3 -.5l4.3 .3l4.3 .7l4.3 -.2l4.3 .4l4.3 -.6l4.3 -.5l4.3 -.7l4.3 .7l4.3 -.8l4.3 -.3l4.3 1.1l4.3 -1.1l4.3 -.6l4.2 .9l4.3 0l4.3 .9l7.2 .1" stroke="#807676"/>
<path d="M507.4 316.3l1.4 4.3l1.5 5.4l1.4 5.4l1.4 6.3l1.5 5.8l1.4 5.6l1.4 5.4l1.5 4.2l2.8 6.5l2.9 4.2l2.8 2.3l2.9 2.7l2.9 1.6l2.8 2.2l4.3 1.5l4.3 1.5l4.3 .7l4.3 1.3l4.3 1.3l4.3 .8l4.3 .9l4.3 .5l4.3 1.1l4.3 1.4l4.3 1.2l4.3 -.2l4.3 1l4.3 .6l4.3 .8l4.3 -.3l4.3 .6l4.3 -.3l4.3 .7l4.3 .2l4.3 -.1l4.3 0l4.2 1l4.3 .5l4.3 .3l7.2 1.3" stroke="#a74646"/>
<path d="M507.4 351.6l1.4 1.5l1.5 1.5l1.4 2.9l1.4 1.5l1.5 1.3l1.4 .9l1.4 2.2l1.5 1.2l2.8 1.6l2.9 3.6l2.8 3.1l2.9 2.6l2.9 3.1l2.8 1.8l4.3 .7l4.3 2.6l4.3 1.6l4.3 .3l4.3 .9l4.3 1l4.3 1.4l4.3 1l4.3 .9l4.3 .3l4.3 .7l4.3 .1l4.3 2.3l4.3 -.2l4.3 1l4.3 .5l4.3 .7l4.3 -.1l4.3 .5l4.3 -.1l4.3 1.1l4.3 .2l4.2 -.6l4.3 -.4l4.3 .9l7.2 .5" stroke="#c82a2a"/>
<path d="M507.4 318.3l1.4 4.7l1.5 5.1l1.4 5.1l1.4 5.8l1.5 5.4l1.4 5l1.4 5.5l1.5 3.7l2.8 5.3l2.9 3.8l2.8 2.4l2.9 1.4l2.9 .2l2.8 1l4.3 1.5l4.3 1.2l4.3 1.4l4.3 .9l4.3 .9l4.3 1.6l4.3 .9l4.3 -1l4.3 .6l4.3 .9l4.3 .5l4.3 1.2l4.3 .6l4.3 .1l4.3 1.4l4.3 .8l4.3 .5l4.3 .5l4.3 .5l4.3 .1l4.3 -.3l4.3 .2l4.2 -.1l4.3 -.1l4.3 .8l7.2 .4" stroke="#b43939"/>
<path d="M507.4 318.4l1.4 .9l1.5 1.4l1.4 1.3l1.4 .3l1.5 1.4l1.4 2.2l1.4 1.1l1.5 1l2.8 2.9l2.9 2.7l2.8 2.5l2.9 3.6l2.9 3.5l2.8 3.8l4.3 4.7l4.3 4.5l4.3 4l4.3 2.8l4.3 1l4.3 2.6l4.3 2l4.3 .6l4.3 1.4l4.3 -.6l4.3 1.5l4.3 1.1l4.3 .5l4.3 -.4l4.3 -.1l4.3 .1l4.3 .2l4.3 -.3l4.3 1.5l4.3 .1l4.3 -.5l4.3 1l4.2 0l4.3 -.4l4.3 -.3l7.2 .6" stroke="#807676"/>
<path d="M507.4 318.2l1.4 4.4l1.5 4.1l1.4 4.8l1.4 4.5l1.5 4.3l1.4 3.2l1.4 4.6l1.5 4l2.8 5.7l2.9 5.1l2.8 5.3l2.9 3.2l2.9 2.5l2.8 1.5l4.3 3l4.3 1.8l4.3 .7l4.3 .7l4.3 1.2l4.3 .8l4.3 1.1l4.3 -.1l4.3 .6l4.3 0l4.3 .2l4.3 .8l4.3 .4l4.3 .1l4.3 .2l4.3 -.2l4.3 .1l4.3 .4l4.3 .1l4.3 .8l4.3 .5l4.3 .1l4.2 .1l4.3 .7l4.3 .2l7.2 .6" stroke="#b13b3b"/>
<path d="M507.4 315.4l1.4 3.9l1.5 5.2l1.4 4.7l1.4 3.9l1.5 4.2l1.4 3.9l1.4 4.5l1.5 3.5l2.8 6.5l2.9 5.7l2.8 4.7l2.9 3.6l2.9 2.3l2.8 1.3l4.3 2.7l4.3 1.2l4.3 1.6l4.3 2l4.3 .8l4.3 0l4.3 .1l4.3 1.1l4.3 -.5l4.3 1l4.3 .9l4.3 .7l4.3 -.4l4.3 .2l4.3 0l4.3 1.5l4.3 .2l4.3 .2l4.3 -.2l4.3 .5l4.3 -.5l4.3 .6l4.2 .9l4.3 .8l4.3 -.7l7.2 -.3" stroke="#8e6262"/>
</g>
<rect x="507.4" y="232.6" width="143.2" height="178.1" fill="none" stroke="#808080" stroke-width="1.1"/>
<path d="M507.4 232.6v-1.8M507.4 410.7v1.8M536.0 232.6v-1.8M536.0 410.7v1.8M564.7 232.6v-1.8M564.7 410.7v1.8M593.3 232.6v-1.8M593.3 410.7v1.8M622.0 232.6v-1.8M622.0 410.7v1.8M650.6 232.6v-1.8M650.6 410.7v1.8M507.4 401.33h-1.8M650.6 401.33h1.8M507.4 382.58h-1.8M650.6 382.58h1.8M507.4 363.83h-1.8M650.6 363.83h1.8M507.4 345.08h-1.8M650.6 345.08h1.8M507.4 326.34h-1.8M650.6 326.34h1.8M507.4 307.59h-1.8M650.6 307.59h1.8M507.4 288.84h-1.8M650.6 288.84h1.8M507.4 270.09h-1.8M650.6 270.09h1.8M507.4 251.35h-1.8M650.6 251.35h1.8M507.4 232.60h-1.8M650.6 232.60h1.8" stroke="#808080" stroke-width="1.0"/>
<text x="507.4" y="420.9" font-size="7.80" text-anchor="middle" textLength="4.7" lengthAdjust="spacingAndGlyphs">0</text>
<text x="536.0" y="420.9" font-size="7.80" text-anchor="middle" textLength="9.4" lengthAdjust="spacingAndGlyphs">10</text>
<text x="564.7" y="420.9" font-size="7.80" text-anchor="middle" textLength="9.4" lengthAdjust="spacingAndGlyphs">20</text>
<text x="593.3" y="420.9" font-size="7.80" text-anchor="middle" textLength="9.4" lengthAdjust="spacingAndGlyphs">30</text>
<text x="622.0" y="420.9" font-size="7.80" text-anchor="middle" textLength="9.4" lengthAdjust="spacingAndGlyphs">40</text>
<text x="650.6" y="420.9" font-size="7.80" text-anchor="middle" textLength="9.4" lengthAdjust="spacingAndGlyphs">50</text>
<text x="654.4" y="405.1" font-size="7.80" textLength="10.8" lengthAdjust="spacingAndGlyphs">−8</text>
<text x="654.4" y="386.4" font-size="7.80" textLength="10.8" lengthAdjust="spacingAndGlyphs">−6</text>
<text x="654.4" y="367.6" font-size="7.80" textLength="10.8" lengthAdjust="spacingAndGlyphs">−4</text>
<text x="654.4" y="348.9" font-size="7.80" textLength="10.8" lengthAdjust="spacingAndGlyphs">−2</text>
<text x="654.4" y="330.1" font-size="7.80" textLength="4.7" lengthAdjust="spacingAndGlyphs">0</text>
<text x="654.4" y="311.4" font-size="7.80" textLength="4.7" lengthAdjust="spacingAndGlyphs">2</text>
<text x="654.4" y="292.6" font-size="7.80" textLength="4.7" lengthAdjust="spacingAndGlyphs">4</text>
<text x="654.4" y="273.9" font-size="7.80" textLength="4.7" lengthAdjust="spacingAndGlyphs">6</text>
<text x="654.4" y="255.1" font-size="7.80" textLength="4.7" lengthAdjust="spacingAndGlyphs">8</text>
<text x="654.4" y="236.4" font-size="7.80" textLength="9.4" lengthAdjust="spacingAndGlyphs">10</text>
<text x="510.4" y="241.6" font-size="7.80" textLength="10.4" lengthAdjust="spacingAndGlyphs">(h)</text>
<text x="579.3" y="429.6" font-size="7.80" text-anchor="middle" textLength="37.4" lengthAdjust="spacingAndGlyphs">Time [kyr]</text>
<text x="96.8" y="10.7" font-size="7.90" text-anchor="middle" font-weight="bold" class="h" fill="#708090" textLength="148.4" lengthAdjust="spacingAndGlyphs">Steady state WAIS always glaciated</text>
<text x="342.5" y="10.7" font-size="7.90" text-anchor="middle" font-weight="bold" class="h" fill="#708090" textLength="139.1" lengthAdjust="spacingAndGlyphs">Both WAIS steady states possible</text>
<text x="593.1" y="10.7" font-size="7.90" text-anchor="middle" font-weight="bold" class="h" fill="#708090" textLength="158.6" lengthAdjust="spacingAndGlyphs">Steady state WAIS always deglaciated</text>
<text x="66.6" y="29.8" font-size="7.8" textLength="79.5" lengthAdjust="spacingAndGlyphs"><tspan font-style="italic">T</tspan><tspan font-style="italic" font-size="5.3" dy="1.7">O</tspan><tspan dy="-1.7"> </tspan>anomaly  ≤  -1.5°C</text>
<text x="200.7" y="29.8" font-size="7.8" textLength="125.7" lengthAdjust="spacingAndGlyphs">-1.25°C  ≤  <tspan font-style="italic">T</tspan><tspan font-style="italic" font-size="5.3" dy="1.7">O</tspan><tspan dy="-1.7"> </tspan>anomaly  ≤  -0.25°C</text>
<text x="387.6" y="29.8" font-size="7.8" textLength="67.7" lengthAdjust="spacingAndGlyphs"><tspan font-style="italic">T</tspan><tspan font-style="italic" font-size="5.3" dy="1.7">O</tspan><tspan dy="-1.7"> </tspan>anomaly = 0°C</text>
<text x="534.6" y="29.8" font-size="7.8" textLength="88.3" lengthAdjust="spacingAndGlyphs"><tspan font-style="italic">T</tspan><tspan font-style="italic" font-size="5.3" dy="1.7">O</tspan><tspan dy="-1.7"> </tspan>anomaly  ≥  +0.25°C</text>
<text transform="translate(15.5 125.5) rotate(-90)" x="0" y="0" font-size="7.8" text-anchor="middle" textLength="129" lengthAdjust="spacingAndGlyphs">Ice volume anomaly: Run B [mSLE]</text>
<text transform="translate(672.0 125.5) rotate(-90)" x="0" y="0" font-size="7.8" text-anchor="middle" textLength="129" lengthAdjust="spacingAndGlyphs">Ice volume anomaly: Run B [mSLE]</text>
<text transform="translate(15.5 321.6) rotate(-90)" x="0" y="0" font-size="7.8" text-anchor="middle" textLength="129" lengthAdjust="spacingAndGlyphs">Ice volume anomaly: Run C [mSLE]</text>
<text transform="translate(672.0 321.6) rotate(-90)" x="0" y="0" font-size="7.8" text-anchor="middle" textLength="129" lengthAdjust="spacingAndGlyphs">Ice volume anomaly: Run C [mSLE]</text>
<line x1="354.8" y1="205.0" x2="371.8" y2="205.0" stroke="#64648c" stroke-width="0.8"/>
<circle cx="356.6" cy="205.0" r="1.55" fill="#000"/>
<circle cx="363.6" cy="205.0" r="1.55" fill="#000"/>
<circle cx="370.6" cy="205.0" r="1.55" fill="#000"/>
<text x="374.0" y="207.7" font-size="7.80" textLength="73.3" lengthAdjust="spacingAndGlyphs">Present-day (Run B)</text>
<line x1="354.8" y1="401.5" x2="371.8" y2="401.5" stroke="#64648c" stroke-width="0.8"/>
<circle cx="356.6" cy="401.5" r="1.55" fill="#000"/>
<circle cx="363.6" cy="401.5" r="1.55" fill="#000"/>
<circle cx="370.6" cy="401.5" r="1.55" fill="#000"/>
<text x="374.0" y="404.2" font-size="7.80" textLength="73.4" lengthAdjust="spacingAndGlyphs">Present-day (Run C)</text>
<rect x="232.5" y="437.9" width="219.2" height="9.6" fill="url(#cb)" stroke="#808080" stroke-width="0.8"/>
<text x="232.5" y="457.2" font-size="7.80" text-anchor="middle" textLength="10.8" lengthAdjust="spacingAndGlyphs">−4</text>
<text x="269.0" y="457.2" font-size="7.80" text-anchor="middle" textLength="10.8" lengthAdjust="spacingAndGlyphs">−3</text>
<text x="305.6" y="457.2" font-size="7.80" text-anchor="middle" textLength="10.8" lengthAdjust="spacingAndGlyphs">−2</text>
<text x="342.1" y="457.2" font-size="7.80" text-anchor="middle" textLength="10.8" lengthAdjust="spacingAndGlyphs">−1</text>
<text x="378.6" y="457.2" font-size="7.80" text-anchor="middle" textLength="4.7" lengthAdjust="spacingAndGlyphs">0</text>
<text x="415.2" y="457.2" font-size="7.80" text-anchor="middle" textLength="4.7" lengthAdjust="spacingAndGlyphs">1</text>
<text x="451.7" y="457.2" font-size="7.80" text-anchor="middle" textLength="4.7" lengthAdjust="spacingAndGlyphs">2</text>
<path d="M232.5 447.5v2M269.0 447.5v2M305.6 447.5v2M342.1 447.5v2M378.6 447.5v2M415.2 447.5v2M451.7 447.5v2" stroke="#808080" stroke-width="0.8"/>
<text x="283.6" y="466.0" font-size="7.8" textLength="118.9" lengthAdjust="spacingAndGlyphs">Equilibrium run <tspan font-style="italic">T</tspan><tspan font-style="italic" font-size="5.3" dy="1.7">O</tspan><tspan dy="-1.7"> </tspan>anomaly [°C]</text>
</svg>
</body></html>
